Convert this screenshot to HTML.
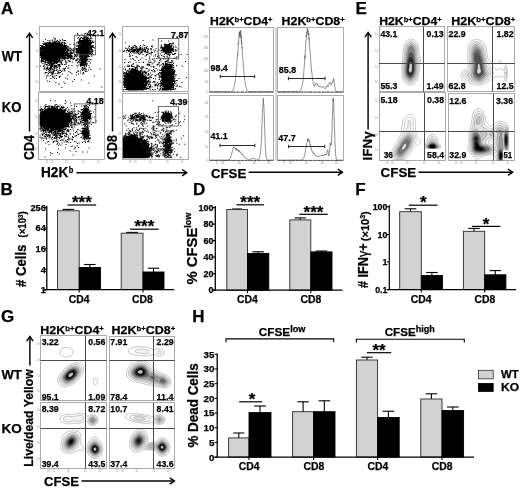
<!DOCTYPE html>
<html><head><meta charset="utf-8"><title>Figure</title>
<style>html,body{margin:0;padding:0;background:#fff}svg{display:block}</style></head>
<body>
<svg width="520" height="488" viewBox="0 0 520 488" font-family="'Liberation Sans', sans-serif" font-weight="bold" fill="#000">
<text x="1.00" y="13.60" font-size="17" stroke="#000" stroke-width="0.25">A</text>
<text x="0.40" y="195.20" font-size="17" stroke="#000" stroke-width="0.25">B</text>
<text x="193.00" y="13.60" font-size="17" stroke="#000" stroke-width="0.25">C</text>
<text x="193.00" y="195.20" font-size="17" stroke="#000" stroke-width="0.25">D</text>
<text x="355.40" y="13.90" font-size="17" stroke="#000" stroke-width="0.25">E</text>
<text x="355.30" y="195.20" font-size="17" stroke="#000" stroke-width="0.25">F</text>
<text x="0.90" y="322.00" font-size="17" stroke="#000" stroke-width="0.25">G</text>
<text x="192.30" y="321.90" font-size="17" stroke="#000" stroke-width="0.25">H</text>
<text x="1.70" y="60.90" font-size="14.5" stroke="#000" stroke-width="0.25" textLength="20.20" lengthAdjust="spacingAndGlyphs">WT</text>
<text x="1.70" y="111.80" font-size="14.5" stroke="#000" stroke-width="0.25" textLength="19.60" lengthAdjust="spacingAndGlyphs">KO</text>
<rect x="39.50" y="26.50" width="65.00" height="65.00" fill="none" stroke="#ababab" stroke-width="1"/>
<rect x="38.50" y="92.50" width="66.00" height="67.00" fill="none" stroke="#ababab" stroke-width="1"/>
<rect x="122.50" y="26.50" width="66.00" height="65.00" fill="none" stroke="#ababab" stroke-width="1"/>
<rect x="122.50" y="93.50" width="66.00" height="66.00" fill="none" stroke="#ababab" stroke-width="1"/>
<path d="M76.9 32.9h1v0.5h-1zM84.9 32.9h1.5v0.5h-1.5zM76.9 33.4h1v0.5h-1zM83.9 33.4h2.5v0.5h-2.5zM77.4 33.9h1v0.5h-1zM81.4 33.9h1v0.5h-1zM83.9 33.9h1v0.5h-1zM77.4 34.4h1v0.5h-1zM81.4 34.4h1v0.5h-1zM88.9 34.4h1v0.5h-1zM83.4 34.9h1v0.5h-1zM86.4 34.9h1v0.5h-1zM88.9 34.9h1v0.5h-1zM78.9 35.4h1v0.5h-1zM83.4 35.4h4v0.5h-4zM78.9 35.9h1v0.5h-1zM83.9 35.9h2.5v0.5h-2.5zM89.9 35.9h1v0.5h-1zM82.9 36.4h1.5v0.5h-1.5zM85.9 36.4h1.5v0.5h-1.5zM87.9 36.4h1v0.5h-1zM89.9 36.4h1v0.5h-1zM77.9 36.9h1v0.5h-1zM80.4 36.9h2v0.5h-2zM82.9 36.9h6v0.5h-6zM90.4 36.9h1v0.5h-1zM53.4 37.4h1v0.5h-1zM77.4 37.4h1.5v0.5h-1.5zM80.4 37.4h2v0.5h-2zM83.9 37.4h2v0.5h-2zM86.4 37.4h1.5v0.5h-1.5zM90.4 37.4h1v0.5h-1zM53.4 37.9h1v0.5h-1zM54.9 37.9h1v0.5h-1zM77.4 37.9h1v0.5h-1zM79.9 37.9h1v0.5h-1zM81.9 37.9h3.5v0.5h-3.5zM85.9 37.9h3v0.5h-3zM89.9 37.9h1v0.5h-1zM91.4 37.9h1v0.5h-1zM54.9 38.4h1v0.5h-1zM78.9 38.4h2v0.5h-2zM81.9 38.4h3.5v0.5h-3.5zM85.9 38.4h5v0.5h-5zM91.4 38.4h1v0.5h-1zM44.9 38.9h1v0.5h-1zM54.9 38.9h1v0.5h-1zM61.9 38.9h1v0.5h-1zM78.9 38.9h2v0.5h-2zM83.4 38.9h4.5v0.5h-4.5zM88.9 38.9h1v0.5h-1zM44.9 39.4h1v0.5h-1zM51.9 39.4h1v0.5h-1zM53.9 39.4h1v0.5h-1zM59.4 39.4h1v0.5h-1zM61.9 39.4h1v0.5h-1zM78.9 39.4h1.5v0.5h-1.5zM81.9 39.4h8v0.5h-8zM90.4 39.4h1v0.5h-1zM47.4 39.9h1v0.5h-1zM49.4 39.9h1v0.5h-1zM51.9 39.9h1v0.5h-1zM53.9 39.9h1v0.5h-1zM56.9 39.9h1v0.5h-1zM59.4 39.9h1.5v0.5h-1.5zM63.4 39.9h2.5v0.5h-2.5zM78.9 39.9h12.5v0.5h-12.5zM47.4 40.4h1v0.5h-1zM49.4 40.4h1v0.5h-1zM51.9 40.4h1v0.5h-1zM55.4 40.4h1v0.5h-1zM56.9 40.4h1v0.5h-1zM59.9 40.4h1v0.5h-1zM61.9 40.4h1v0.5h-1zM63.4 40.4h2.5v0.5h-2.5zM78.9 40.4h12.5v0.5h-12.5zM91.9 40.4h1v0.5h-1zM42.9 40.9h1v0.5h-1zM51.9 40.9h1v0.5h-1zM53.4 40.9h1v0.5h-1zM55.4 40.9h2v0.5h-2zM57.9 40.9h1v0.5h-1zM61.9 40.9h1v0.5h-1zM77.9 40.9h11.5v0.5h-11.5zM89.9 40.9h1v0.5h-1zM91.9 40.9h1v0.5h-1zM42.9 41.4h1v0.5h-1zM48.9 41.4h2v0.5h-2zM53.4 41.4h4v0.5h-4zM57.9 41.4h2.5v0.5h-2.5zM77.4 41.4h14v0.5h-14zM91.9 41.4h1v0.5h-1zM93.4 41.4h1v0.5h-1zM46.4 41.9h4.5v0.5h-4.5zM52.4 41.9h3.5v0.5h-3.5zM56.4 41.9h1v0.5h-1zM58.4 41.9h2v0.5h-2zM61.4 41.9h2v0.5h-2zM63.9 41.9h1v0.5h-1zM77.4 41.9h2.5v0.5h-2.5zM80.4 41.9h14v0.5h-14zM43.9 42.4h2v0.5h-2zM46.4 42.4h3.5v0.5h-3.5zM50.4 42.4h6.5v0.5h-6.5zM57.4 42.4h3v0.5h-3zM61.4 42.4h2v0.5h-2zM63.9 42.4h1v0.5h-1zM65.4 42.4h1v0.5h-1zM75.9 42.4h1v0.5h-1zM77.4 42.4h15v0.5h-15zM92.9 42.4h1v0.5h-1zM42.4 42.9h1v0.5h-1zM43.9 42.9h3.5v0.5h-3.5zM47.9 42.9h12.5v0.5h-12.5zM60.9 42.9h1v0.5h-1zM62.4 42.9h1v0.5h-1zM64.4 42.9h2v0.5h-2zM75.9 42.9h1v0.5h-1zM77.4 42.9h14.5v0.5h-14.5zM42.4 43.4h1.5v0.5h-1.5zM44.4 43.4h18v0.5h-18zM63.9 43.4h1.5v0.5h-1.5zM77.9 43.4h1v0.5h-1zM79.4 43.4h12.5v0.5h-12.5zM42.9 43.9h20v0.5h-20zM63.9 43.9h1v0.5h-1zM69.4 43.9h1v0.5h-1zM73.4 43.9h1v0.5h-1zM78.9 43.9h12.5v0.5h-12.5zM43.4 44.4h20v0.5h-20zM63.9 44.4h1v0.5h-1zM69.4 44.4h1v0.5h-1zM73.4 44.4h1v0.5h-1zM75.4 44.4h1v0.5h-1zM78.4 44.4h2v0.5h-2zM80.9 44.4h10.5v0.5h-10.5zM39.9 44.9h2v0.5h-2zM42.4 44.9h1v0.5h-1zM45.4 44.9h21.5v0.5h-21.5zM75.4 44.9h1v0.5h-1zM77.4 44.9h13.5v0.5h-13.5zM92.4 44.9h1v0.5h-1zM39.9 45.4h3.5v0.5h-3.5zM44.9 45.4h22.5v0.5h-22.5zM76.4 45.4h17.5v0.5h-17.5zM40.9 45.9h25v0.5h-25zM66.4 45.9h2v0.5h-2zM76.4 45.9h17.5v0.5h-17.5zM40.9 46.4h25v0.5h-25zM66.4 46.4h3v0.5h-3zM76.4 46.4h1v0.5h-1zM77.9 46.4h1v0.5h-1zM79.4 46.4h14v0.5h-14zM39.9 46.9h1v0.5h-1zM41.4 46.9h26v0.5h-26zM67.9 46.9h1.5v0.5h-1.5zM74.4 46.9h1v0.5h-1zM77.9 46.9h16.5v0.5h-16.5zM39.9 47.4h28v0.5h-28zM69.9 47.4h1v0.5h-1zM74.4 47.4h1v0.5h-1zM77.9 47.4h14.5v0.5h-14.5zM93.4 47.4h1.5v0.5h-1.5zM39.9 47.9h28v0.5h-28zM69.4 47.9h1.5v0.5h-1.5zM72.9 47.9h1v0.5h-1zM75.4 47.9h16.5v0.5h-16.5zM93.9 47.9h1v0.5h-1zM39.9 48.4h29v0.5h-29zM69.4 48.4h2v0.5h-2zM72.9 48.4h1v0.5h-1zM75.4 48.4h16.5v0.5h-16.5zM39.9 48.9h29.5v0.5h-29.5zM70.4 48.9h1.5v0.5h-1.5zM75.4 48.9h17.5v0.5h-17.5zM39.9 49.4h26.5v0.5h-26.5zM66.9 49.4h2.5v0.5h-2.5zM70.9 49.4h4v0.5h-4zM75.4 49.4h14.5v0.5h-14.5zM90.4 49.4h2.5v0.5h-2.5zM40.4 49.9h24.5v0.5h-24.5zM65.4 49.9h1v0.5h-1zM66.9 49.9h2.5v0.5h-2.5zM70.4 49.9h1v0.5h-1zM71.9 49.9h3v0.5h-3zM75.4 49.9h14.5v0.5h-14.5zM90.4 49.9h1v0.5h-1zM91.9 49.9h1v0.5h-1zM39.9 50.4h2.5v0.5h-2.5zM42.9 50.4h28.5v0.5h-28.5zM72.4 50.4h2v0.5h-2zM76.4 50.4h14v0.5h-14zM90.9 50.4h2v0.5h-2zM93.4 50.4h1v0.5h-1zM39.9 50.9h27v0.5h-27zM67.4 50.9h3v0.5h-3zM73.4 50.9h1v0.5h-1zM75.9 50.9h17v0.5h-17zM93.4 50.9h1v0.5h-1zM39.9 51.4h25v0.5h-25zM65.4 51.4h2.5v0.5h-2.5zM69.9 51.4h2v0.5h-2zM73.4 51.4h1v0.5h-1zM75.4 51.4h1.5v0.5h-1.5zM77.4 51.4h13.5v0.5h-13.5zM91.4 51.4h1.5v0.5h-1.5zM39.9 51.9h28v0.5h-28zM69.9 51.9h2v0.5h-2zM72.4 51.9h2v0.5h-2zM75.4 51.9h15v0.5h-15zM91.4 51.9h1.5v0.5h-1.5zM39.9 52.4h29v0.5h-29zM69.4 52.4h2.5v0.5h-2.5zM72.4 52.4h1v0.5h-1zM75.9 52.4h16.5v0.5h-16.5zM39.9 52.9h26.5v0.5h-26.5zM66.9 52.9h6.5v0.5h-6.5zM76.4 52.9h1.5v0.5h-1.5zM78.4 52.9h9.5v0.5h-9.5zM88.4 52.9h4.5v0.5h-4.5zM39.9 53.4h29.5v0.5h-29.5zM69.9 53.4h3.5v0.5h-3.5zM76.4 53.4h1v0.5h-1zM78.4 53.4h12.5v0.5h-12.5zM91.9 53.4h1v0.5h-1zM39.9 53.9h24.5v0.5h-24.5zM64.9 53.9h4.5v0.5h-4.5zM69.9 53.9h2v0.5h-2zM74.9 53.9h1v0.5h-1zM76.4 53.9h1v0.5h-1zM78.4 53.9h5.5v0.5h-5.5zM84.4 53.9h7.5v0.5h-7.5zM92.9 53.9h1v0.5h-1zM39.9 54.4h29.5v0.5h-29.5zM69.9 54.4h1v0.5h-1zM73.9 54.4h2v0.5h-2zM76.4 54.4h1.5v0.5h-1.5zM79.4 54.4h9.5v0.5h-9.5zM90.9 54.4h1v0.5h-1zM92.9 54.4h1v0.5h-1zM39.9 54.9h32.5v0.5h-32.5zM73.9 54.9h2.5v0.5h-2.5zM76.9 54.9h1v0.5h-1zM79.4 54.9h9.5v0.5h-9.5zM39.9 55.4h32.5v0.5h-32.5zM74.9 55.4h1.5v0.5h-1.5zM76.9 55.4h1v0.5h-1zM78.9 55.4h10v0.5h-10zM90.9 55.4h1.5v0.5h-1.5zM39.9 55.9h26v0.5h-26zM66.4 55.9h6v0.5h-6zM73.9 55.9h1v0.5h-1zM75.9 55.9h2v0.5h-2zM78.9 55.9h11v0.5h-11zM90.9 55.9h1.5v0.5h-1.5zM40.9 56.4h24.5v0.5h-24.5zM66.4 56.4h7v0.5h-7zM73.9 56.4h1v0.5h-1zM75.4 56.4h1.5v0.5h-1.5zM78.9 56.4h4.5v0.5h-4.5zM83.9 56.4h6v0.5h-6zM40.4 56.9h20.5v0.5h-20.5zM61.4 56.9h4.5v0.5h-4.5zM66.4 56.9h7v0.5h-7zM75.4 56.9h1v0.5h-1zM79.4 56.9h1v0.5h-1zM80.9 56.9h7.5v0.5h-7.5zM40.4 57.4h26.5v0.5h-26.5zM67.4 57.4h4v0.5h-4zM73.9 57.4h1v0.5h-1zM79.4 57.4h7.5v0.5h-7.5zM40.9 57.9h20.5v0.5h-20.5zM61.9 57.9h7v0.5h-7zM69.9 57.9h2.5v0.5h-2.5zM73.4 57.9h1.5v0.5h-1.5zM77.4 57.9h1v0.5h-1zM79.9 57.9h2.5v0.5h-2.5zM82.9 57.9h4v0.5h-4zM40.9 58.4h19.5v0.5h-19.5zM60.9 58.4h5.5v0.5h-5.5zM66.9 58.4h2v0.5h-2zM69.9 58.4h3v0.5h-3zM73.4 58.4h1.5v0.5h-1.5zM76.9 58.4h2.5v0.5h-2.5zM79.9 58.4h8v0.5h-8zM88.9 58.4h1v0.5h-1zM40.9 58.9h19.5v0.5h-19.5zM60.9 58.9h2v0.5h-2zM64.4 58.9h1v0.5h-1zM69.9 58.9h1.5v0.5h-1.5zM71.9 58.9h2v0.5h-2zM76.4 58.9h1.5v0.5h-1.5zM78.4 58.9h1v0.5h-1zM79.9 58.9h8.5v0.5h-8.5zM88.9 58.9h1v0.5h-1zM90.4 58.9h1v0.5h-1zM40.9 59.4h1v0.5h-1zM42.9 59.4h1.5v0.5h-1.5zM44.9 59.4h13.5v0.5h-13.5zM58.9 59.4h1.5v0.5h-1.5zM63.4 59.4h2v0.5h-2zM67.4 59.4h1v0.5h-1zM72.9 59.4h1v0.5h-1zM75.4 59.4h2v0.5h-2zM78.9 59.4h9.5v0.5h-9.5zM90.4 59.4h1v0.5h-1zM40.9 59.9h3.5v0.5h-3.5zM44.9 59.9h15.5v0.5h-15.5zM61.9 59.9h1v0.5h-1zM63.4 59.9h1v0.5h-1zM67.4 59.9h2v0.5h-2zM75.4 59.9h2v0.5h-2zM78.9 59.9h1v0.5h-1zM80.4 59.9h6.5v0.5h-6.5zM87.4 59.9h1v0.5h-1zM90.4 59.9h1v0.5h-1zM40.4 60.4h3v0.5h-3zM44.9 60.4h12.5v0.5h-12.5zM57.9 60.4h3v0.5h-3zM61.4 60.4h1.5v0.5h-1.5zM64.9 60.4h1.5v0.5h-1.5zM68.4 60.4h1v0.5h-1zM75.4 60.4h2v0.5h-2zM78.9 60.4h1v0.5h-1zM80.4 60.4h7v0.5h-7zM40.4 60.9h3.5v0.5h-3.5zM44.4 60.9h1.5v0.5h-1.5zM47.4 60.9h11.5v0.5h-11.5zM59.4 60.9h1.5v0.5h-1.5zM61.4 60.9h1v0.5h-1zM64.9 60.9h1.5v0.5h-1.5zM68.4 60.9h2.5v0.5h-2.5zM75.4 60.9h1v0.5h-1zM77.9 60.9h1v0.5h-1zM80.4 60.9h7v0.5h-7zM88.4 60.9h1v0.5h-1zM40.9 61.4h6v0.5h-6zM47.4 61.4h2v0.5h-2zM49.9 61.4h9v0.5h-9zM59.4 61.4h1v0.5h-1zM60.9 61.4h1v0.5h-1zM65.4 61.4h1v0.5h-1zM68.9 61.4h2v0.5h-2zM71.9 61.4h1v0.5h-1zM77.9 61.4h2v0.5h-2zM80.4 61.4h6.5v0.5h-6.5zM88.4 61.4h1v0.5h-1zM40.9 61.9h1v0.5h-1zM43.9 61.9h8v0.5h-8zM52.9 61.9h5.5v0.5h-5.5zM59.4 61.9h1v0.5h-1zM60.9 61.9h1v0.5h-1zM65.4 61.9h1v0.5h-1zM71.9 61.9h1v0.5h-1zM77.4 61.9h1v0.5h-1zM78.9 61.9h7.5v0.5h-7.5zM40.9 62.4h1v0.5h-1zM44.9 62.4h1v0.5h-1zM46.9 62.4h1v0.5h-1zM48.4 62.4h4.5v0.5h-4.5zM53.4 62.4h5v0.5h-5zM59.4 62.4h2.5v0.5h-2.5zM65.4 62.4h2v0.5h-2zM76.9 62.4h1.5v0.5h-1.5zM79.4 62.4h6.5v0.5h-6.5zM86.4 62.4h1v0.5h-1zM89.9 62.4h1v0.5h-1zM42.4 62.9h1v0.5h-1zM44.9 62.9h1v0.5h-1zM46.9 62.9h2.5v0.5h-2.5zM49.9 62.9h5.5v0.5h-5.5zM55.9 62.9h1.5v0.5h-1.5zM60.4 62.9h1v0.5h-1zM65.4 62.9h2v0.5h-2zM76.9 62.9h1v0.5h-1zM79.4 62.9h6.5v0.5h-6.5zM86.4 62.9h1v0.5h-1zM89.9 62.9h1v0.5h-1zM42.4 63.4h1v0.5h-1zM43.9 63.4h1v0.5h-1zM47.9 63.4h7.5v0.5h-7.5zM55.9 63.4h1.5v0.5h-1.5zM60.9 63.4h2v0.5h-2zM80.4 63.4h3.5v0.5h-3.5zM84.4 63.4h3.5v0.5h-3.5zM43.9 63.9h1v0.5h-1zM45.4 63.9h2v0.5h-2zM48.9 63.9h1.5v0.5h-1.5zM50.9 63.9h2.5v0.5h-2.5zM57.4 63.9h3v0.5h-3zM60.9 63.9h2v0.5h-2zM63.9 63.9h1v0.5h-1zM65.4 63.9h1v0.5h-1zM79.9 63.9h8v0.5h-8zM45.4 64.4h3v0.5h-3zM49.4 64.4h6v0.5h-6zM57.4 64.4h3v0.5h-3zM61.9 64.4h1v0.5h-1zM63.9 64.4h1v0.5h-1zM65.4 64.4h1v0.5h-1zM78.4 64.4h1v0.5h-1zM79.9 64.4h5v0.5h-5zM85.4 64.4h1.5v0.5h-1.5zM43.4 64.9h1v0.5h-1zM45.9 64.9h11.5v0.5h-11.5zM57.9 64.9h2v0.5h-2zM68.4 64.9h1v0.5h-1zM71.4 64.9h1v0.5h-1zM76.4 64.9h1v0.5h-1zM78.4 64.9h1v0.5h-1zM79.9 64.9h5.5v0.5h-5.5zM85.9 64.9h1v0.5h-1zM88.4 64.9h1v0.5h-1zM39.9 65.4h1v0.5h-1zM43.4 65.4h1v0.5h-1zM48.4 65.4h1v0.5h-1zM50.4 65.4h2.5v0.5h-2.5zM53.9 65.4h1v0.5h-1zM55.4 65.4h2v0.5h-2zM57.9 65.4h2v0.5h-2zM68.4 65.4h1v0.5h-1zM71.4 65.4h1v0.5h-1zM76.4 65.4h1v0.5h-1zM79.9 65.4h3v0.5h-3zM83.4 65.4h2v0.5h-2zM85.9 65.4h1v0.5h-1zM88.4 65.4h1v0.5h-1zM39.9 65.9h1v0.5h-1zM42.9 65.9h1v0.5h-1zM49.9 65.9h3v0.5h-3zM53.9 65.9h3v0.5h-3zM57.9 65.9h3v0.5h-3zM65.9 65.9h1v0.5h-1zM80.4 65.9h1v0.5h-1zM83.4 65.9h1.5v0.5h-1.5zM85.9 65.9h1v0.5h-1zM42.9 66.4h2.5v0.5h-2.5zM46.9 66.4h1v0.5h-1zM49.9 66.4h7.5v0.5h-7.5zM58.9 66.4h2v0.5h-2zM65.9 66.4h1v0.5h-1zM76.9 66.4h1v0.5h-1zM80.4 66.4h1v0.5h-1zM83.9 66.4h1v0.5h-1zM85.9 66.4h1v0.5h-1zM43.9 66.9h1.5v0.5h-1.5zM46.9 66.9h1.5v0.5h-1.5zM49.9 66.9h2.5v0.5h-2.5zM52.9 66.9h2v0.5h-2zM55.4 66.9h2.5v0.5h-2.5zM58.9 66.9h1v0.5h-1zM76.9 66.9h1v0.5h-1zM82.4 66.9h1v0.5h-1zM84.4 66.9h1v0.5h-1zM88.9 66.9h1v0.5h-1zM45.9 67.4h2.5v0.5h-2.5zM49.4 67.4h2.5v0.5h-2.5zM53.9 67.4h1v0.5h-1zM55.4 67.4h1v0.5h-1zM56.9 67.4h1v0.5h-1zM64.9 67.4h1v0.5h-1zM67.4 67.4h2v0.5h-2zM81.4 67.4h2v0.5h-2zM84.4 67.4h1v0.5h-1zM88.9 67.4h1v0.5h-1zM44.4 67.9h1v0.5h-1zM45.9 67.9h2.5v0.5h-2.5zM48.9 67.9h3.5v0.5h-3.5zM53.9 67.9h1v0.5h-1zM55.4 67.9h1v0.5h-1zM58.9 67.9h1v0.5h-1zM63.4 67.9h1v0.5h-1zM64.9 67.9h1v0.5h-1zM67.4 67.9h2v0.5h-2zM81.4 67.9h1.5v0.5h-1.5zM83.4 67.9h2v0.5h-2zM43.4 68.4h2v0.5h-2zM46.4 68.4h2v0.5h-2zM48.9 68.4h2v0.5h-2zM51.4 68.4h2v0.5h-2zM53.9 68.4h1v0.5h-1zM56.4 68.4h1v0.5h-1zM58.9 68.4h1v0.5h-1zM62.4 68.4h3v0.5h-3zM81.9 68.4h1v0.5h-1zM83.4 68.4h3v0.5h-3zM99.4 68.4h1v0.5h-1zM43.4 68.9h2v0.5h-2zM47.4 68.9h2v0.5h-2zM49.9 68.9h1.5v0.5h-1.5zM52.4 68.9h1v0.5h-1zM53.9 68.9h1v0.5h-1zM56.4 68.9h1v0.5h-1zM62.4 68.9h1v0.5h-1zM64.4 68.9h1v0.5h-1zM81.4 68.9h1v0.5h-1zM83.4 68.9h1v0.5h-1zM85.4 68.9h1v0.5h-1zM90.4 68.9h1v0.5h-1zM99.4 68.9h1v0.5h-1zM45.9 69.4h1v0.5h-1zM47.4 69.4h2v0.5h-2zM49.9 69.4h1.5v0.5h-1.5zM51.9 69.4h1v0.5h-1zM53.4 69.4h1v0.5h-1zM56.4 69.4h1v0.5h-1zM59.4 69.4h1v0.5h-1zM63.9 69.4h1v0.5h-1zM81.4 69.4h1v0.5h-1zM82.9 69.4h1.5v0.5h-1.5zM85.4 69.4h1.5v0.5h-1.5zM87.9 69.4h1v0.5h-1zM90.4 69.4h1v0.5h-1zM45.9 69.9h1v0.5h-1zM48.9 69.9h1.5v0.5h-1.5zM51.9 69.9h1v0.5h-1zM53.4 69.9h2v0.5h-2zM55.9 69.9h1.5v0.5h-1.5zM58.4 69.9h3v0.5h-3zM63.9 69.9h1v0.5h-1zM81.9 69.9h2v0.5h-2zM84.4 69.9h1v0.5h-1zM85.9 69.9h1v0.5h-1zM87.9 69.9h1v0.5h-1zM45.9 70.4h1v0.5h-1zM48.4 70.4h3v0.5h-3zM53.4 70.4h2v0.5h-2zM55.9 70.4h1v0.5h-1zM58.4 70.4h1v0.5h-1zM60.4 70.4h1v0.5h-1zM62.4 70.4h1v0.5h-1zM64.4 70.4h1v0.5h-1zM77.4 70.4h1.5v0.5h-1.5zM79.9 70.4h1v0.5h-1zM81.9 70.4h1v0.5h-1zM84.4 70.4h1v0.5h-1zM48.4 70.9h1v0.5h-1zM50.4 70.9h1v0.5h-1zM52.4 70.9h2v0.5h-2zM57.4 70.9h1v0.5h-1zM60.9 70.9h1v0.5h-1zM62.4 70.9h1v0.5h-1zM64.4 70.9h1v0.5h-1zM68.4 70.9h1v0.5h-1zM77.4 70.9h1.5v0.5h-1.5zM79.9 70.9h1v0.5h-1zM84.9 70.9h1v0.5h-1zM86.4 70.9h1v0.5h-1zM48.4 71.4h1v0.5h-1zM50.4 71.4h1v0.5h-1zM52.4 71.4h2v0.5h-2zM57.4 71.4h1v0.5h-1zM60.9 71.4h1v0.5h-1zM68.4 71.4h1v0.5h-1zM77.4 71.4h1v0.5h-1zM84.9 71.4h1v0.5h-1zM86.4 71.4h1v0.5h-1zM44.9 71.9h2.5v0.5h-2.5zM48.4 71.9h5.5v0.5h-5.5zM57.9 71.9h1.5v0.5h-1.5zM59.9 71.9h1v0.5h-1zM69.9 71.9h1v0.5h-1zM75.9 71.9h1v0.5h-1zM82.9 71.9h1v0.5h-1zM44.9 72.4h2.5v0.5h-2.5zM49.4 72.4h1v0.5h-1zM50.9 72.4h1.5v0.5h-1.5zM52.9 72.4h1v0.5h-1zM57.4 72.4h3.5v0.5h-3.5zM69.9 72.4h1v0.5h-1zM75.9 72.4h1v0.5h-1zM79.9 72.4h1v0.5h-1zM82.9 72.4h1.5v0.5h-1.5zM44.4 72.9h1v0.5h-1zM47.9 72.9h1v0.5h-1zM50.9 72.9h2v0.5h-2zM53.4 72.9h1v0.5h-1zM55.4 72.9h1v0.5h-1zM57.4 72.9h1v0.5h-1zM58.9 72.9h1v0.5h-1zM71.4 72.9h1v0.5h-1zM79.9 72.9h1v0.5h-1zM82.9 72.9h1.5v0.5h-1.5zM44.4 73.4h1v0.5h-1zM47.9 73.4h1v0.5h-1zM51.9 73.4h1v0.5h-1zM53.4 73.4h1v0.5h-1zM55.4 73.4h1v0.5h-1zM57.4 73.4h1v0.5h-1zM61.9 73.4h1v0.5h-1zM71.4 73.4h1v0.5h-1zM77.9 73.4h1v0.5h-1zM81.9 73.4h1.5v0.5h-1.5zM51.4 73.9h1.5v0.5h-1.5zM57.4 73.9h1v0.5h-1zM61.9 73.9h1v0.5h-1zM77.9 73.9h1v0.5h-1zM81.9 73.9h1.5v0.5h-1.5zM47.4 74.4h1v0.5h-1zM51.4 74.4h2v0.5h-2zM67.4 74.4h1v0.5h-1zM75.9 74.4h1v0.5h-1zM47.4 74.9h1v0.5h-1zM49.9 74.9h1v0.5h-1zM52.4 74.9h1v0.5h-1zM55.9 74.9h1v0.5h-1zM67.4 74.9h1v0.5h-1zM75.9 74.9h1v0.5h-1zM45.9 75.4h1v0.5h-1zM47.4 75.4h1v0.5h-1zM49.9 75.4h1v0.5h-1zM54.4 75.4h1v0.5h-1zM55.9 75.4h1v0.5h-1zM59.9 75.4h1v0.5h-1zM93.9 75.4h1v0.5h-1zM45.9 75.9h1v0.5h-1zM47.4 75.9h1v0.5h-1zM51.9 75.9h1v0.5h-1zM54.4 75.9h1v0.5h-1zM58.9 75.9h2v0.5h-2zM93.9 75.9h1v0.5h-1zM51.9 76.4h1v0.5h-1zM53.4 76.4h1v0.5h-1zM58.9 76.4h1v0.5h-1zM52.4 76.9h2v0.5h-2zM58.9 76.9h1v0.5h-1zM45.9 77.4h1v0.5h-1zM52.4 77.4h1v0.5h-1zM58.9 77.4h1v0.5h-1zM65.4 77.4h1v0.5h-1zM45.9 77.9h1v0.5h-1zM50.4 77.9h1v0.5h-1zM53.9 77.9h1v0.5h-1zM55.9 77.9h1v0.5h-1zM65.4 77.9h1v0.5h-1zM50.4 78.4h1v0.5h-1zM53.9 78.4h1v0.5h-1zM55.9 78.4h1v0.5h-1zM66.9 78.4h1v0.5h-1zM66.9 78.9h1v0.5h-1zM73.9 78.9h1v0.5h-1zM73.9 79.4h1v0.5h-1zM80.9 79.4h1v0.5h-1zM80.9 79.9h1v0.5h-1zM46.9 80.4h1v0.5h-1zM46.9 80.9h1v0.5h-1zM48.9 80.9h1v0.5h-1zM71.9 80.9h1v0.5h-1zM48.9 81.4h1v0.5h-1zM63.4 81.4h1v0.5h-1zM71.9 81.4h1v0.5h-1zM55.4 81.9h1v0.5h-1zM63.4 81.9h1v0.5h-1zM55.4 82.4h1v0.5h-1zM88.4 82.4h1v0.5h-1zM64.4 82.9h1v0.5h-1zM88.4 82.9h1v0.5h-1zM58.4 83.4h1.5v0.5h-1.5zM64.4 83.4h1v0.5h-1zM58.4 83.9h1.5v0.5h-1.5zM101.4 86.4h1v0.5h-1zM61.4 86.9h1v0.5h-1zM101.4 86.9h1v0.5h-1zM61.4 87.4h1v0.5h-1z" fill="#000" stroke="none"/>
<path d="M50.1 100h1v0.5h-1zM65.1 100h1v0.5h-1zM50.1 100.5h1v0.5h-1zM54.6 100.5h1v0.5h-1zM65.1 100.5h1v0.5h-1zM54.6 101h1v0.5h-1zM65.6 101.5h1v0.5h-1zM65.6 102h1v0.5h-1zM70.1 102.5h1v0.5h-1zM64.6 103h1v0.5h-1zM70.1 103h1v0.5h-1zM64.6 103.5h1v0.5h-1zM45.6 104h1v0.5h-1zM54.6 104h1v0.5h-1zM56.1 104h1v0.5h-1zM87.6 104h1v0.5h-1zM45.6 104.5h1v0.5h-1zM54.6 104.5h1v0.5h-1zM56.1 104.5h1v0.5h-1zM59.6 104.5h1v0.5h-1zM85.6 104.5h1v0.5h-1zM87.6 104.5h1v0.5h-1zM44.6 105h1v0.5h-1zM54.6 105h1v0.5h-1zM59.6 105h1v0.5h-1zM70.6 105h1v0.5h-1zM85.6 105h1.5v0.5h-1.5zM89.1 105h1v0.5h-1zM44.6 105.5h1v0.5h-1zM48.1 105.5h2v0.5h-2zM50.6 105.5h1v0.5h-1zM54.6 105.5h1v0.5h-1zM57.1 105.5h1.5v0.5h-1.5zM70.6 105.5h1v0.5h-1zM81.1 105.5h1v0.5h-1zM83.1 105.5h4v0.5h-4zM89.1 105.5h1v0.5h-1zM45.1 106h5v0.5h-5zM50.6 106h3v0.5h-3zM54.6 106h1v0.5h-1zM56.6 106h2.5v0.5h-2.5zM61.1 106h1v0.5h-1zM62.6 106h1v0.5h-1zM76.1 106h1v0.5h-1zM81.1 106h1v0.5h-1zM83.1 106h2.5v0.5h-2.5zM86.6 106h1v0.5h-1zM40.1 106.5h1v0.5h-1zM43.6 106.5h1v0.5h-1zM45.1 106.5h3v0.5h-3zM48.6 106.5h1v0.5h-1zM50.6 106.5h5v0.5h-5zM56.1 106.5h4v0.5h-4zM61.1 106.5h1v0.5h-1zM62.6 106.5h1v0.5h-1zM76.1 106.5h1v0.5h-1zM84.1 106.5h1.5v0.5h-1.5zM86.1 106.5h2.5v0.5h-2.5zM40.1 107h1v0.5h-1zM43.6 107h1v0.5h-1zM45.1 107h1v0.5h-1zM48.6 107h1v0.5h-1zM50.6 107h2.5v0.5h-2.5zM53.6 107h2v0.5h-2zM56.1 107h1.5v0.5h-1.5zM59.1 107h1v0.5h-1zM61.1 107h3.5v0.5h-3.5zM67.1 107h1v0.5h-1zM84.1 107h1.5v0.5h-1.5zM86.1 107h1v0.5h-1zM87.6 107h1.5v0.5h-1.5zM45.1 107.5h1v0.5h-1zM47.6 107.5h2v0.5h-2zM50.6 107.5h5v0.5h-5zM56.1 107.5h2v0.5h-2zM60.1 107.5h4.5v0.5h-4.5zM67.1 107.5h1v0.5h-1zM84.6 107.5h2v0.5h-2zM88.1 107.5h1v0.5h-1zM41.1 108h1v0.5h-1zM44.1 108h2v0.5h-2zM47.1 108h3v0.5h-3zM50.6 108h6v0.5h-6zM57.1 108h1v0.5h-1zM59.6 108h1.5v0.5h-1.5zM61.6 108h2v0.5h-2zM65.6 108h1v0.5h-1zM83.1 108h3.5v0.5h-3.5zM87.1 108h2v0.5h-2zM41.1 108.5h1v0.5h-1zM44.1 108.5h1v0.5h-1zM46.6 108.5h11.5v0.5h-11.5zM59.6 108.5h1.5v0.5h-1.5zM61.6 108.5h1v0.5h-1zM65.6 108.5h1v0.5h-1zM71.1 108.5h1v0.5h-1zM72.6 108.5h1v0.5h-1zM83.1 108.5h5v0.5h-5zM39.6 109h4v0.5h-4zM45.1 109h1v0.5h-1zM46.6 109h15.5v0.5h-15.5zM64.6 109h1.5v0.5h-1.5zM68.1 109h1v0.5h-1zM71.1 109h1v0.5h-1zM72.6 109h1v0.5h-1zM80.6 109h3v0.5h-3zM84.1 109h5v0.5h-5zM94.6 109h1v0.5h-1zM39.6 109.5h4v0.5h-4zM44.1 109.5h22.5v0.5h-22.5zM68.1 109.5h1.5v0.5h-1.5zM80.6 109.5h8.5v0.5h-8.5zM94.6 109.5h1v0.5h-1zM39.6 110h1.5v0.5h-1.5zM42.1 110h1v0.5h-1zM44.1 110h22.5v0.5h-22.5zM68.6 110h1v0.5h-1zM81.1 110h1v0.5h-1zM82.6 110h6v0.5h-6zM39.6 110.5h2v0.5h-2zM42.1 110.5h24v0.5h-24zM67.6 110.5h1v0.5h-1zM72.1 110.5h1v0.5h-1zM74.6 110.5h1v0.5h-1zM77.6 110.5h1.5v0.5h-1.5zM82.6 110.5h9v0.5h-9zM40.6 111h25v0.5h-25zM67.1 111h1.5v0.5h-1.5zM70.6 111h2.5v0.5h-2.5zM73.6 111h2v0.5h-2zM77.6 111h2v0.5h-2zM82.6 111h9v0.5h-9zM40.1 111.5h25.5v0.5h-25.5zM67.1 111.5h1v0.5h-1zM69.1 111.5h1v0.5h-1zM70.6 111.5h1.5v0.5h-1.5zM73.6 111.5h1v0.5h-1zM78.6 111.5h1v0.5h-1zM80.1 111.5h1v0.5h-1zM82.1 111.5h6v0.5h-6zM88.6 111.5h1v0.5h-1zM93.1 111.5h1v0.5h-1zM40.1 112h25.5v0.5h-25.5zM68.6 112h1.5v0.5h-1.5zM70.6 112h1v0.5h-1zM72.1 112h1v0.5h-1zM80.1 112h1v0.5h-1zM81.6 112h8v0.5h-8zM93.1 112h1v0.5h-1zM40.1 112.5h26.5v0.5h-26.5zM67.1 112.5h3v0.5h-3zM70.6 112.5h1v0.5h-1zM72.1 112.5h1v0.5h-1zM77.6 112.5h1v0.5h-1zM80.6 112.5h9.5v0.5h-9.5zM40.1 113h32.5v0.5h-32.5zM74.6 113h1v0.5h-1zM77.6 113h1.5v0.5h-1.5zM80.6 113h8v0.5h-8zM89.1 113h3v0.5h-3zM40.1 113.5h33v0.5h-33zM74.6 113.5h1v0.5h-1zM78.1 113.5h1v0.5h-1zM81.1 113.5h11v0.5h-11zM39.6 114h29v0.5h-29zM69.1 114h2.5v0.5h-2.5zM72.1 114h2v0.5h-2zM75.1 114h2.5v0.5h-2.5zM80.6 114h10.5v0.5h-10.5zM39.6 114.5h30.5v0.5h-30.5zM70.6 114.5h1v0.5h-1zM73.1 114.5h4.5v0.5h-4.5zM80.6 114.5h10.5v0.5h-10.5zM39.6 115h30.5v0.5h-30.5zM70.6 115h1v0.5h-1zM73.1 115h2.5v0.5h-2.5zM80.6 115h1v0.5h-1zM82.1 115h7.5v0.5h-7.5zM90.1 115h1v0.5h-1zM39.6 115.5h31v0.5h-31zM71.1 115.5h5.5v0.5h-5.5zM79.6 115.5h2v0.5h-2zM82.1 115.5h9v0.5h-9zM39.6 116h37v0.5h-37zM78.1 116h1v0.5h-1zM79.6 116h11v0.5h-11zM39.6 116.5h32v0.5h-32zM72.1 116.5h1.5v0.5h-1.5zM74.6 116.5h2v0.5h-2zM78.1 116.5h2v0.5h-2zM80.6 116.5h10.5v0.5h-10.5zM91.6 116.5h1v0.5h-1zM94.1 116.5h1v0.5h-1zM39.6 117h31v0.5h-31zM72.1 117h1.5v0.5h-1.5zM74.6 117h1v0.5h-1zM76.1 117h1.5v0.5h-1.5zM78.1 117h2v0.5h-2zM80.6 117h1v0.5h-1zM82.1 117h9v0.5h-9zM91.6 117h1v0.5h-1zM94.1 117h1v0.5h-1zM39.6 117.5h32v0.5h-32zM72.1 117.5h2v0.5h-2zM74.6 117.5h1v0.5h-1zM76.1 117.5h1.5v0.5h-1.5zM78.1 117.5h1v0.5h-1zM81.1 117.5h1v0.5h-1zM83.1 117.5h7.5v0.5h-7.5zM39.6 118h34.5v0.5h-34.5zM75.1 118h1v0.5h-1zM76.6 118h1v0.5h-1zM81.1 118h10v0.5h-10zM39.6 118.5h34v0.5h-34zM75.1 118.5h1v0.5h-1zM78.6 118.5h1v0.5h-1zM80.6 118.5h11v0.5h-11zM39.6 119h33v0.5h-33zM73.1 119h4v0.5h-4zM78.6 119h1v0.5h-1zM80.6 119h1.5v0.5h-1.5zM82.6 119h6v0.5h-6zM89.1 119h1v0.5h-1zM90.6 119h1v0.5h-1zM39.6 119.5h32.5v0.5h-32.5zM73.1 119.5h2v0.5h-2zM76.1 119.5h1v0.5h-1zM78.6 119.5h1v0.5h-1zM80.1 119.5h1v0.5h-1zM82.6 119.5h5v0.5h-5zM89.1 119.5h1v0.5h-1zM39.6 120h32.5v0.5h-32.5zM73.6 120h2v0.5h-2zM76.1 120h1v0.5h-1zM78.6 120h1v0.5h-1zM80.1 120h1v0.5h-1zM81.6 120h6.5v0.5h-6.5zM39.6 120.5h32v0.5h-32zM73.6 120.5h3.5v0.5h-3.5zM81.6 120.5h7v0.5h-7zM90.1 120.5h1v0.5h-1zM95.6 120.5h1v0.5h-1zM39.6 121h32v0.5h-32zM73.6 121h1v0.5h-1zM75.6 121h1.5v0.5h-1.5zM80.1 121h1v0.5h-1zM82.1 121h1.5v0.5h-1.5zM84.1 121h4.5v0.5h-4.5zM90.1 121h1v0.5h-1zM95.6 121h1v0.5h-1zM39.6 121.5h33v0.5h-33zM74.6 121.5h1v0.5h-1zM76.1 121.5h1v0.5h-1zM80.1 121.5h2v0.5h-2zM84.1 121.5h2v0.5h-2zM86.6 121.5h1.5v0.5h-1.5zM88.6 121.5h1v0.5h-1zM39.6 122h29v0.5h-29zM69.1 122h3.5v0.5h-3.5zM73.6 122h2v0.5h-2zM76.1 122h1v0.5h-1zM80.1 122h4v0.5h-4zM85.1 122h1v0.5h-1zM86.6 122h1.5v0.5h-1.5zM88.6 122h1v0.5h-1zM92.6 122h1v0.5h-1zM39.6 122.5h30.5v0.5h-30.5zM71.1 122.5h1.5v0.5h-1.5zM73.6 122.5h1v0.5h-1zM76.1 122.5h1v0.5h-1zM77.6 122.5h1.5v0.5h-1.5zM80.1 122.5h1.5v0.5h-1.5zM82.1 122.5h2.5v0.5h-2.5zM85.1 122.5h3.5v0.5h-3.5zM89.1 122.5h1v0.5h-1zM92.6 122.5h1v0.5h-1zM39.6 123h30v0.5h-30zM71.1 123h1v0.5h-1zM74.1 123h1v0.5h-1zM77.6 123h1.5v0.5h-1.5zM80.1 123h1v0.5h-1zM83.6 123h1.5v0.5h-1.5zM85.6 123h3v0.5h-3zM89.1 123h1v0.5h-1zM39.6 123.5h30v0.5h-30zM70.1 123.5h2v0.5h-2zM72.6 123.5h1v0.5h-1zM74.1 123.5h1.5v0.5h-1.5zM78.1 123.5h2v0.5h-2zM84.1 123.5h3v0.5h-3zM88.6 123.5h1v0.5h-1zM39.6 124h30v0.5h-30zM70.1 124h2v0.5h-2zM72.6 124h3.5v0.5h-3.5zM78.1 124h2v0.5h-2zM83.1 124h4.5v0.5h-4.5zM88.6 124h1v0.5h-1zM91.1 124h1v0.5h-1zM39.6 124.5h29.5v0.5h-29.5zM71.6 124.5h1v0.5h-1zM73.6 124.5h2.5v0.5h-2.5zM76.6 124.5h1v0.5h-1zM81.1 124.5h1v0.5h-1zM82.6 124.5h2.5v0.5h-2.5zM85.6 124.5h3v0.5h-3zM91.1 124.5h1v0.5h-1zM39.6 125h29.5v0.5h-29.5zM70.1 125h1v0.5h-1zM71.6 125h1v0.5h-1zM73.6 125h2v0.5h-2zM76.6 125h1v0.5h-1zM81.1 125h1v0.5h-1zM82.6 125h1v0.5h-1zM84.6 125h1.5v0.5h-1.5zM87.1 125h1.5v0.5h-1.5zM39.6 125.5h29.5v0.5h-29.5zM70.1 125.5h2v0.5h-2zM84.1 125.5h2v0.5h-2zM87.1 125.5h1v0.5h-1zM40.1 126h29v0.5h-29zM71.1 126h1.5v0.5h-1.5zM84.1 126h1.5v0.5h-1.5zM86.6 126h1.5v0.5h-1.5zM88.6 126h1v0.5h-1zM40.6 126.5h29.5v0.5h-29.5zM71.6 126.5h1v0.5h-1zM74.1 126.5h1v0.5h-1zM84.6 126.5h3.5v0.5h-3.5zM88.6 126.5h1v0.5h-1zM40.6 127h1.5v0.5h-1.5zM42.6 127h22v0.5h-22zM65.1 127h2v0.5h-2zM68.1 127h2v0.5h-2zM71.1 127h1.5v0.5h-1.5zM74.1 127h1v0.5h-1zM85.1 127h3v0.5h-3zM39.6 127.5h2.5v0.5h-2.5zM42.6 127.5h23v0.5h-23zM71.1 127.5h1.5v0.5h-1.5zM82.1 127.5h1v0.5h-1zM83.6 127.5h2v0.5h-2zM87.1 127.5h2v0.5h-2zM39.6 128h2v0.5h-2zM42.1 128h1v0.5h-1zM43.6 128h11v0.5h-11zM55.1 128h8.5v0.5h-8.5zM64.1 128h2.5v0.5h-2.5zM81.6 128h5v0.5h-5zM87.1 128h2v0.5h-2zM39.6 128.5h1v0.5h-1zM41.1 128.5h2v0.5h-2zM43.6 128.5h5.5v0.5h-5.5zM49.6 128.5h14.5v0.5h-14.5zM65.6 128.5h1v0.5h-1zM72.6 128.5h1v0.5h-1zM81.6 128.5h7v0.5h-7zM39.6 129h1v0.5h-1zM41.1 129h8v0.5h-8zM50.1 129h16.5v0.5h-16.5zM67.6 129h1v0.5h-1zM70.1 129h1v0.5h-1zM72.6 129h1v0.5h-1zM77.1 129h1.5v0.5h-1.5zM82.6 129h3v0.5h-3zM86.1 129h2v0.5h-2zM39.6 129.5h1v0.5h-1zM42.6 129.5h1.5v0.5h-1.5zM44.6 129.5h2v0.5h-2zM47.1 129.5h3v0.5h-3zM50.6 129.5h11v0.5h-11zM62.6 129.5h3.5v0.5h-3.5zM67.1 129.5h2v0.5h-2zM70.1 129.5h1v0.5h-1zM77.1 129.5h1.5v0.5h-1.5zM83.6 129.5h5.5v0.5h-5.5zM40.6 130h1v0.5h-1zM42.1 130h4.5v0.5h-4.5zM47.1 130h7.5v0.5h-7.5zM55.1 130h1v0.5h-1zM56.6 130h7v0.5h-7zM64.1 130h1v0.5h-1zM67.1 130h2v0.5h-2zM79.6 130h1v0.5h-1zM82.1 130h7v0.5h-7zM40.6 130.5h1v0.5h-1zM42.1 130.5h4v0.5h-4zM46.6 130.5h1.5v0.5h-1.5zM48.6 130.5h6v0.5h-6zM55.1 130.5h2.5v0.5h-2.5zM58.1 130.5h5v0.5h-5zM66.1 130.5h2v0.5h-2zM68.6 130.5h1v0.5h-1zM73.1 130.5h1v0.5h-1zM79.6 130.5h1v0.5h-1zM82.1 130.5h5.5v0.5h-5.5zM88.1 130.5h2v0.5h-2zM40.6 131h1v0.5h-1zM42.6 131h1.5v0.5h-1.5zM45.1 131h1v0.5h-1zM46.6 131h1.5v0.5h-1.5zM49.1 131h15.5v0.5h-15.5zM66.1 131h3.5v0.5h-3.5zM73.1 131h1v0.5h-1zM76.1 131h1v0.5h-1zM80.6 131h1v0.5h-1zM82.1 131h8v0.5h-8zM40.6 131.5h1v0.5h-1zM43.1 131.5h1.5v0.5h-1.5zM45.1 131.5h1v0.5h-1zM48.1 131.5h4v0.5h-4zM54.1 131.5h2v0.5h-2zM57.1 131.5h3.5v0.5h-3.5zM61.6 131.5h1v0.5h-1zM63.1 131.5h1.5v0.5h-1.5zM67.6 131.5h1.5v0.5h-1.5zM76.1 131.5h1.5v0.5h-1.5zM80.6 131.5h1v0.5h-1zM82.1 131.5h6.5v0.5h-6.5zM43.6 132h1v0.5h-1zM45.1 132h1.5v0.5h-1.5zM47.6 132h4.5v0.5h-4.5zM53.6 132h2.5v0.5h-2.5zM56.6 132h2v0.5h-2zM60.6 132h1v0.5h-1zM62.1 132h1v0.5h-1zM63.6 132h1v0.5h-1zM75.1 132h1v0.5h-1zM76.6 132h1v0.5h-1zM81.6 132h8v0.5h-8zM42.6 132.5h1v0.5h-1zM45.6 132.5h1v0.5h-1zM47.6 132.5h2.5v0.5h-2.5zM51.1 132.5h6.5v0.5h-6.5zM58.6 132.5h1v0.5h-1zM60.6 132.5h1v0.5h-1zM62.1 132.5h1v0.5h-1zM63.6 132.5h1v0.5h-1zM66.1 132.5h1v0.5h-1zM75.1 132.5h1v0.5h-1zM81.6 132.5h8v0.5h-8zM42.6 133h1v0.5h-1zM44.1 133h1v0.5h-1zM49.1 133h1v0.5h-1zM51.1 133h3.5v0.5h-3.5zM55.1 133h6v0.5h-6zM61.6 133h3v0.5h-3zM65.1 133h2v0.5h-2zM69.6 133h1v0.5h-1zM79.6 133h1v0.5h-1zM81.1 133h8.5v0.5h-8.5zM40.6 133.5h1v0.5h-1zM42.6 133.5h1v0.5h-1zM44.1 133.5h1v0.5h-1zM46.1 133.5h1v0.5h-1zM51.6 133.5h1v0.5h-1zM53.6 133.5h1v0.5h-1zM55.1 133.5h1v0.5h-1zM56.6 133.5h4.5v0.5h-4.5zM61.6 133.5h3v0.5h-3zM65.1 133.5h1.5v0.5h-1.5zM69.6 133.5h1.5v0.5h-1.5zM73.1 133.5h1v0.5h-1zM77.1 133.5h1v0.5h-1zM79.6 133.5h1v0.5h-1zM81.1 133.5h8.5v0.5h-8.5zM40.6 134h1v0.5h-1zM42.1 134h1.5v0.5h-1.5zM45.1 134h2v0.5h-2zM47.6 134h1v0.5h-1zM49.6 134h1v0.5h-1zM51.6 134h1v0.5h-1zM53.6 134h2.5v0.5h-2.5zM56.6 134h1.5v0.5h-1.5zM60.1 134h1v0.5h-1zM62.1 134h1v0.5h-1zM65.6 134h2v0.5h-2zM70.1 134h1v0.5h-1zM73.1 134h1v0.5h-1zM77.1 134h2v0.5h-2zM82.6 134h6.5v0.5h-6.5zM42.1 134.5h1.5v0.5h-1.5zM45.1 134.5h2v0.5h-2zM47.6 134.5h1.5v0.5h-1.5zM49.6 134.5h1v0.5h-1zM53.1 134.5h4v0.5h-4zM57.6 134.5h2v0.5h-2zM60.1 134.5h1.5v0.5h-1.5zM62.1 134.5h1v0.5h-1zM66.1 134.5h1.5v0.5h-1.5zM78.1 134.5h1v0.5h-1zM82.1 134.5h7v0.5h-7zM89.6 134.5h1v0.5h-1zM42.1 135h1v0.5h-1zM45.6 135h2v0.5h-2zM48.1 135h2.5v0.5h-2.5zM53.1 135h4v0.5h-4zM57.6 135h4v0.5h-4zM64.1 135h1v0.5h-1zM66.1 135h1v0.5h-1zM76.1 135h1v0.5h-1zM82.1 135h1v0.5h-1zM83.6 135h5v0.5h-5zM89.1 135h1.5v0.5h-1.5zM39.6 135.5h1v0.5h-1zM42.1 135.5h1v0.5h-1zM44.1 135.5h1v0.5h-1zM46.6 135.5h4v0.5h-4zM52.1 135.5h1v0.5h-1zM53.6 135.5h1v0.5h-1zM55.6 135.5h2v0.5h-2zM59.1 135.5h2v0.5h-2zM64.1 135.5h1.5v0.5h-1.5zM68.1 135.5h1v0.5h-1zM74.6 135.5h2.5v0.5h-2.5zM82.6 135.5h7.5v0.5h-7.5zM39.6 136h1v0.5h-1zM44.1 136h2v0.5h-2zM47.1 136h1v0.5h-1zM48.6 136h1v0.5h-1zM52.1 136h1v0.5h-1zM55.1 136h2.5v0.5h-2.5zM60.1 136h3v0.5h-3zM64.6 136h1v0.5h-1zM66.1 136h1v0.5h-1zM68.1 136h1v0.5h-1zM72.1 136h1v0.5h-1zM74.6 136h2v0.5h-2zM82.6 136h6.5v0.5h-6.5zM43.6 136.5h1v0.5h-1zM45.1 136.5h1.5v0.5h-1.5zM47.1 136.5h1v0.5h-1zM48.6 136.5h2.5v0.5h-2.5zM55.1 136.5h1v0.5h-1zM56.6 136.5h1v0.5h-1zM59.1 136.5h4v0.5h-4zM64.6 136.5h1v0.5h-1zM66.1 136.5h1v0.5h-1zM72.1 136.5h1v0.5h-1zM81.1 136.5h1v0.5h-1zM83.6 136.5h5.5v0.5h-5.5zM39.6 137h1v0.5h-1zM41.6 137h1v0.5h-1zM43.6 137h1v0.5h-1zM45.6 137h1v0.5h-1zM49.1 137h2v0.5h-2zM52.1 137h1v0.5h-1zM54.1 137h1v0.5h-1zM56.1 137h1.5v0.5h-1.5zM58.1 137h4v0.5h-4zM64.6 137h1v0.5h-1zM68.1 137h1v0.5h-1zM72.1 137h2v0.5h-2zM80.6 137h1.5v0.5h-1.5zM83.6 137h5.5v0.5h-5.5zM89.6 137h1v0.5h-1zM39.6 137.5h1v0.5h-1zM41.6 137.5h1v0.5h-1zM45.6 137.5h1v0.5h-1zM48.6 137.5h1v0.5h-1zM51.1 137.5h2v0.5h-2zM54.1 137.5h3.5v0.5h-3.5zM58.1 137.5h1v0.5h-1zM61.1 137.5h1v0.5h-1zM68.1 137.5h1v0.5h-1zM71.6 137.5h1v0.5h-1zM73.1 137.5h1v0.5h-1zM80.6 137.5h1v0.5h-1zM82.6 137.5h5v0.5h-5zM88.1 137.5h1v0.5h-1zM89.6 137.5h1v0.5h-1zM41.6 138h1v0.5h-1zM43.6 138h1v0.5h-1zM45.6 138h1.5v0.5h-1.5zM48.6 138h1v0.5h-1zM51.1 138h1v0.5h-1zM53.6 138h4v0.5h-4zM59.1 138h1v0.5h-1zM68.1 138h1v0.5h-1zM71.6 138h1v0.5h-1zM82.6 138h5v0.5h-5zM88.1 138h2.5v0.5h-2.5zM41.1 138.5h1v0.5h-1zM43.6 138.5h1v0.5h-1zM46.1 138.5h1v0.5h-1zM53.6 138.5h1v0.5h-1zM55.6 138.5h1v0.5h-1zM59.1 138.5h1v0.5h-1zM63.6 138.5h1v0.5h-1zM68.6 138.5h2v0.5h-2zM82.6 138.5h1v0.5h-1zM84.6 138.5h1v0.5h-1zM86.1 138.5h4.5v0.5h-4.5zM41.1 139h1v0.5h-1zM46.1 139h1v0.5h-1zM51.6 139h1v0.5h-1zM63.6 139h1v0.5h-1zM67.1 139h1v0.5h-1zM68.6 139h2v0.5h-2zM71.6 139h1v0.5h-1zM82.6 139h1v0.5h-1zM84.1 139h1.5v0.5h-1.5zM86.1 139h2v0.5h-2zM88.6 139h1.5v0.5h-1.5zM51.6 139.5h1v0.5h-1zM56.1 139.5h1v0.5h-1zM57.6 139.5h1v0.5h-1zM61.1 139.5h2.5v0.5h-2.5zM67.1 139.5h2v0.5h-2zM71.6 139.5h1.5v0.5h-1.5zM84.1 139.5h1v0.5h-1zM43.1 140h1v0.5h-1zM56.1 140h1v0.5h-1zM57.6 140h1v0.5h-1zM60.1 140h3.5v0.5h-3.5zM65.1 140h1v0.5h-1zM68.1 140h1v0.5h-1zM72.1 140h1v0.5h-1zM88.1 140h1v0.5h-1zM43.1 140.5h1v0.5h-1zM54.1 140.5h1v0.5h-1zM55.6 140.5h1v0.5h-1zM60.1 140.5h1v0.5h-1zM65.1 140.5h1.5v0.5h-1.5zM85.1 140.5h1v0.5h-1zM88.1 140.5h1v0.5h-1zM48.1 141h1v0.5h-1zM53.1 141h2v0.5h-2zM55.6 141h2v0.5h-2zM65.6 141h1v0.5h-1zM67.1 141h1v0.5h-1zM74.1 141h1v0.5h-1zM83.6 141h1v0.5h-1zM85.1 141h1v0.5h-1zM87.1 141h1.5v0.5h-1.5zM47.1 141.5h2v0.5h-2zM53.1 141.5h1v0.5h-1zM56.6 141.5h1v0.5h-1zM63.6 141.5h1v0.5h-1zM65.6 141.5h1v0.5h-1zM67.1 141.5h1v0.5h-1zM74.1 141.5h1v0.5h-1zM75.6 141.5h1v0.5h-1zM83.6 141.5h1v0.5h-1zM87.1 141.5h2.5v0.5h-2.5zM47.1 142h1v0.5h-1zM52.6 142h1.5v0.5h-1.5zM57.6 142h1v0.5h-1zM63.6 142h1v0.5h-1zM65.6 142h1v0.5h-1zM67.6 142h1v0.5h-1zM70.1 142h1v0.5h-1zM75.6 142h1v0.5h-1zM82.1 142h1v0.5h-1zM85.1 142h1v0.5h-1zM88.6 142h1v0.5h-1zM45.1 142.5h1v0.5h-1zM52.6 142.5h1v0.5h-1zM57.6 142.5h1v0.5h-1zM61.6 142.5h1v0.5h-1zM67.6 142.5h1v0.5h-1zM70.1 142.5h1v0.5h-1zM78.6 142.5h1v0.5h-1zM82.1 142.5h1v0.5h-1zM85.1 142.5h1v0.5h-1zM45.1 143h1v0.5h-1zM57.1 143h1v0.5h-1zM61.6 143h1v0.5h-1zM77.1 143h1v0.5h-1zM78.6 143h1v0.5h-1zM57.1 143.5h1v0.5h-1zM59.1 143.5h1v0.5h-1zM77.1 143.5h1v0.5h-1zM48.6 144h1v0.5h-1zM56.6 144h1v0.5h-1zM59.1 144h1v0.5h-1zM65.6 144h1v0.5h-1zM48.6 144.5h1v0.5h-1zM56.6 144.5h1v0.5h-1zM60.6 144.5h1v0.5h-1zM65.6 144.5h1v0.5h-1zM58.1 145h1v0.5h-1zM60.6 145h1v0.5h-1zM58.1 145.5h1v0.5h-1zM72.1 145.5h1v0.5h-1zM76.6 145.5h1v0.5h-1zM70.6 146h1v0.5h-1zM72.1 146h1v0.5h-1zM76.6 146h1v0.5h-1zM70.6 146.5h1v0.5h-1zM74.6 146.5h1v0.5h-1zM74.6 147h1v0.5h-1zM78.1 147h1v0.5h-1zM65.1 147.5h1v0.5h-1zM74.6 147.5h1v0.5h-1zM78.1 147.5h1v0.5h-1zM88.6 147.5h1v0.5h-1zM65.1 148h1v0.5h-1zM74.6 148h1v0.5h-1zM88.6 148h1v0.5h-1zM45.1 148.5h1v0.5h-1zM58.1 148.5h1v0.5h-1zM73.6 148.5h1v0.5h-1zM45.1 149h1v0.5h-1zM58.1 149h1v0.5h-1zM73.6 149h1v0.5h-1zM69.6 150.5h1v0.5h-1zM69.6 151h1v0.5h-1zM75.6 151h1v0.5h-1zM75.6 151.5h1v0.5h-1zM82.1 151.5h1v0.5h-1zM87.1 151.5h1v0.5h-1zM50.1 152h1v0.5h-1zM57.1 152h1v0.5h-1zM82.1 152h1v0.5h-1zM87.1 152h1v0.5h-1zM50.1 152.5h1v0.5h-1zM57.1 152.5h1v0.5h-1zM51.6 153h1v0.5h-1zM51.6 153.5h1v0.5h-1zM58.6 153.5h1v0.5h-1zM58.6 154h1v0.5h-1zM50.1 154.5h1v0.5h-1zM72.6 154.5h1v0.5h-1zM50.1 155h1v0.5h-1zM72.6 155h1v0.5h-1zM44.6 156.5h1v0.5h-1zM44.6 157h1v0.5h-1z" fill="#000" stroke="none"/>
<path d="M152.6 39.6h1v0.5h-1zM142.6 40.1h1v0.5h-1zM152.6 40.1h1v0.5h-1zM142.6 40.6h1v0.5h-1zM161.1 40.6h1v0.5h-1zM168.1 40.6h1v0.5h-1zM161.1 41.1h1v0.5h-1zM168.1 41.1h1v0.5h-1zM125.1 42.6h1v0.5h-1zM172.6 42.6h1.5v0.5h-1.5zM125.1 43.1h1v0.5h-1zM169.1 43.1h2v0.5h-2zM172.1 43.1h2v0.5h-2zM164.6 43.6h1v0.5h-1zM168.6 43.6h5v0.5h-5zM164.1 44.1h1.5v0.5h-1.5zM166.1 44.1h1.5v0.5h-1.5zM168.1 44.1h2.5v0.5h-2.5zM171.1 44.1h1v0.5h-1zM172.6 44.1h1v0.5h-1zM143.1 44.6h1v0.5h-1zM160.6 44.6h1v0.5h-1zM164.1 44.6h6v0.5h-6zM133.6 45.1h2v0.5h-2zM140.1 45.1h1v0.5h-1zM143.1 45.1h2v0.5h-2zM151.6 45.1h1v0.5h-1zM160.6 45.1h1v0.5h-1zM164.6 45.1h5.5v0.5h-5.5zM171.1 45.1h1.5v0.5h-1.5zM129.1 45.6h1v0.5h-1zM133.6 45.6h2v0.5h-2zM140.1 45.6h1v0.5h-1zM144.1 45.6h1v0.5h-1zM151.6 45.6h1v0.5h-1zM161.1 45.6h1v0.5h-1zM163.6 45.6h9v0.5h-9zM175.1 45.6h1v0.5h-1zM128.6 46.1h1.5v0.5h-1.5zM135.6 46.1h1v0.5h-1zM146.6 46.1h1v0.5h-1zM151.1 46.1h1v0.5h-1zM161.1 46.1h1v0.5h-1zM163.6 46.1h8.5v0.5h-8.5zM173.1 46.1h1v0.5h-1zM175.1 46.1h1v0.5h-1zM128.6 46.6h1v0.5h-1zM131.6 46.6h2v0.5h-2zM134.6 46.6h3v0.5h-3zM139.6 46.6h1v0.5h-1zM141.6 46.6h1v0.5h-1zM146.6 46.6h1v0.5h-1zM151.1 46.6h2v0.5h-2zM160.6 46.6h1.5v0.5h-1.5zM164.1 46.6h8v0.5h-8zM173.1 46.6h1v0.5h-1zM130.6 47.1h3.5v0.5h-3.5zM134.6 47.1h1v0.5h-1zM136.6 47.1h1v0.5h-1zM139.6 47.1h1.5v0.5h-1.5zM141.6 47.1h1v0.5h-1zM144.6 47.1h1v0.5h-1zM146.1 47.1h1v0.5h-1zM152.1 47.1h1v0.5h-1zM160.6 47.1h2.5v0.5h-2.5zM163.6 47.1h8v0.5h-8zM173.1 47.1h1v0.5h-1zM175.6 47.1h1v0.5h-1zM125.1 47.6h1v0.5h-1zM128.1 47.6h1v0.5h-1zM130.6 47.6h1v0.5h-1zM132.6 47.6h1.5v0.5h-1.5zM134.6 47.6h1v0.5h-1zM136.1 47.6h1v0.5h-1zM139.1 47.6h2v0.5h-2zM143.6 47.6h2v0.5h-2zM146.1 47.6h1v0.5h-1zM160.1 47.6h12v0.5h-12zM172.6 47.6h1v0.5h-1zM175.6 47.6h1v0.5h-1zM125.1 48.1h1.5v0.5h-1.5zM128.1 48.1h1v0.5h-1zM131.6 48.1h1.5v0.5h-1.5zM136.1 48.1h1v0.5h-1zM139.1 48.1h2v0.5h-2zM142.1 48.1h1v0.5h-1zM143.6 48.1h1.5v0.5h-1.5zM146.1 48.1h1v0.5h-1zM150.1 48.1h1.5v0.5h-1.5zM155.6 48.1h1v0.5h-1zM160.1 48.1h1v0.5h-1zM161.6 48.1h12v0.5h-12zM125.6 48.6h1v0.5h-1zM127.1 48.6h1v0.5h-1zM129.1 48.6h1.5v0.5h-1.5zM131.1 48.6h2.5v0.5h-2.5zM134.6 48.6h7v0.5h-7zM142.1 48.6h1v0.5h-1zM144.6 48.6h1v0.5h-1zM146.1 48.6h3v0.5h-3zM150.1 48.6h1.5v0.5h-1.5zM155.6 48.6h1v0.5h-1zM161.6 48.6h12v0.5h-12zM177.6 48.6h1v0.5h-1zM127.1 49.1h1v0.5h-1zM129.1 49.1h1.5v0.5h-1.5zM131.1 49.1h1v0.5h-1zM132.6 49.1h10v0.5h-10zM143.6 49.1h2v0.5h-2zM147.1 49.1h2v0.5h-2zM150.6 49.1h1v0.5h-1zM161.6 49.1h12.5v0.5h-12.5zM175.1 49.1h1v0.5h-1zM177.6 49.1h1v0.5h-1zM127.1 49.6h1v0.5h-1zM129.1 49.6h7v0.5h-7zM136.6 49.6h9.5v0.5h-9.5zM147.6 49.6h1v0.5h-1zM150.6 49.6h1v0.5h-1zM153.1 49.6h1v0.5h-1zM158.6 49.6h1v0.5h-1zM161.6 49.6h12.5v0.5h-12.5zM175.1 49.6h1.5v0.5h-1.5zM123.6 50.1h1v0.5h-1zM126.1 50.1h10v0.5h-10zM136.6 50.1h4.5v0.5h-4.5zM142.1 50.1h1.5v0.5h-1.5zM145.1 50.1h1v0.5h-1zM147.1 50.1h1v0.5h-1zM150.6 50.1h1v0.5h-1zM153.1 50.1h1v0.5h-1zM154.6 50.1h1v0.5h-1zM158.6 50.1h1v0.5h-1zM160.6 50.1h13v0.5h-13zM175.6 50.1h1v0.5h-1zM123.6 50.6h1.5v0.5h-1.5zM126.1 50.6h1v0.5h-1zM127.6 50.6h2v0.5h-2zM131.6 50.6h1v0.5h-1zM133.1 50.6h5.5v0.5h-5.5zM139.1 50.6h1v0.5h-1zM141.1 50.6h1v0.5h-1zM142.6 50.6h3.5v0.5h-3.5zM147.1 50.6h1v0.5h-1zM154.6 50.6h1v0.5h-1zM156.6 50.6h1v0.5h-1zM160.6 50.6h1.5v0.5h-1.5zM162.6 50.6h11v0.5h-11zM174.6 50.6h2v0.5h-2zM123.1 51.1h2v0.5h-2zM128.1 51.1h1.5v0.5h-1.5zM131.1 51.1h4v0.5h-4zM135.6 51.1h3.5v0.5h-3.5zM141.1 51.1h5v0.5h-5zM147.6 51.1h1v0.5h-1zM156.6 51.1h1v0.5h-1zM160.6 51.1h1v0.5h-1zM162.6 51.1h11.5v0.5h-11.5zM174.6 51.1h2v0.5h-2zM123.1 51.6h1v0.5h-1zM126.1 51.6h1v0.5h-1zM128.1 51.6h7.5v0.5h-7.5zM136.1 51.6h3.5v0.5h-3.5zM140.1 51.6h1v0.5h-1zM141.6 51.6h1v0.5h-1zM144.1 51.6h2v0.5h-2zM146.6 51.6h2v0.5h-2zM151.1 51.6h1v0.5h-1zM154.1 51.6h1v0.5h-1zM162.6 51.6h8.5v0.5h-8.5zM173.1 51.6h1v0.5h-1zM126.1 52.1h1v0.5h-1zM129.6 52.1h1.5v0.5h-1.5zM132.1 52.1h1.5v0.5h-1.5zM134.6 52.1h1v0.5h-1zM137.1 52.1h2.5v0.5h-2.5zM140.1 52.1h2.5v0.5h-2.5zM144.1 52.1h1v0.5h-1zM145.6 52.1h2.5v0.5h-2.5zM151.1 52.1h2v0.5h-2zM154.1 52.1h1v0.5h-1zM161.6 52.1h1v0.5h-1zM163.1 52.1h1v0.5h-1zM164.6 52.1h7.5v0.5h-7.5zM130.1 52.6h1.5v0.5h-1.5zM133.6 52.6h1v0.5h-1zM135.6 52.6h2.5v0.5h-2.5zM140.1 52.6h2.5v0.5h-2.5zM145.6 52.6h1v0.5h-1zM147.1 52.6h1v0.5h-1zM148.6 52.6h1v0.5h-1zM150.6 52.6h2.5v0.5h-2.5zM157.6 52.6h1v0.5h-1zM161.6 52.6h1v0.5h-1zM164.6 52.6h7.5v0.5h-7.5zM130.6 53.1h1v0.5h-1zM133.6 53.1h1v0.5h-1zM135.6 53.1h2v0.5h-2zM138.1 53.1h1v0.5h-1zM140.1 53.1h1v0.5h-1zM141.6 53.1h1v0.5h-1zM148.6 53.1h1.5v0.5h-1.5zM150.6 53.1h1v0.5h-1zM157.6 53.1h1v0.5h-1zM164.6 53.1h3v0.5h-3zM168.1 53.1h1.5v0.5h-1.5zM170.6 53.1h1v0.5h-1zM174.1 53.1h2v0.5h-2zM129.1 53.6h1v0.5h-1zM133.6 53.6h1v0.5h-1zM138.1 53.6h1v0.5h-1zM139.6 53.6h1v0.5h-1zM147.6 53.6h1v0.5h-1zM149.1 53.6h1v0.5h-1zM150.6 53.6h1v0.5h-1zM160.1 53.6h1v0.5h-1zM165.1 53.6h2v0.5h-2zM167.6 53.6h1v0.5h-1zM169.6 53.6h1v0.5h-1zM172.1 53.6h1v0.5h-1zM174.1 53.6h2v0.5h-2zM129.1 54.1h1v0.5h-1zM138.6 54.1h2v0.5h-2zM142.6 54.1h1v0.5h-1zM146.1 54.1h2.5v0.5h-2.5zM155.1 54.1h1v0.5h-1zM160.1 54.1h1v0.5h-1zM164.1 54.1h1v0.5h-1zM166.6 54.1h2.5v0.5h-2.5zM169.6 54.1h1v0.5h-1zM172.1 54.1h3v0.5h-3zM180.6 54.1h1v0.5h-1zM186.6 54.1h1v0.5h-1zM129.1 54.6h1v0.5h-1zM138.6 54.6h1v0.5h-1zM142.6 54.6h1v0.5h-1zM146.1 54.6h1.5v0.5h-1.5zM150.6 54.6h1v0.5h-1zM155.1 54.6h1v0.5h-1zM157.6 54.6h1v0.5h-1zM164.1 54.6h1v0.5h-1zM166.6 54.6h1v0.5h-1zM168.1 54.6h2.5v0.5h-2.5zM172.1 54.6h2v0.5h-2zM178.1 54.6h1v0.5h-1zM180.6 54.6h1v0.5h-1zM186.6 54.6h1v0.5h-1zM129.1 55.1h1v0.5h-1zM132.1 55.1h1v0.5h-1zM146.1 55.1h1v0.5h-1zM150.6 55.1h1v0.5h-1zM157.6 55.1h1v0.5h-1zM161.1 55.1h1v0.5h-1zM168.6 55.1h1.5v0.5h-1.5zM178.1 55.1h1v0.5h-1zM130.1 55.6h1v0.5h-1zM132.1 55.6h1v0.5h-1zM144.6 55.6h1v0.5h-1zM146.1 55.6h1v0.5h-1zM153.1 55.6h1v0.5h-1zM155.1 55.6h1v0.5h-1zM158.6 55.6h1v0.5h-1zM161.1 55.6h1v0.5h-1zM162.6 55.6h1v0.5h-1zM166.6 55.6h1v0.5h-1zM169.1 55.6h1v0.5h-1zM129.1 56.1h2v0.5h-2zM135.6 56.1h1v0.5h-1zM144.6 56.1h1v0.5h-1zM153.1 56.1h1v0.5h-1zM155.1 56.1h1v0.5h-1zM157.1 56.1h1v0.5h-1zM158.6 56.1h1v0.5h-1zM162.6 56.1h2v0.5h-2zM166.6 56.1h1v0.5h-1zM169.1 56.1h1v0.5h-1zM176.6 56.1h1v0.5h-1zM129.1 56.6h1v0.5h-1zM135.6 56.6h1v0.5h-1zM149.1 56.6h1v0.5h-1zM157.1 56.6h1v0.5h-1zM163.6 56.6h1.5v0.5h-1.5zM166.6 56.6h1v0.5h-1zM176.6 56.6h1v0.5h-1zM136.6 57.1h1v0.5h-1zM149.1 57.1h1v0.5h-1zM158.6 57.1h1v0.5h-1zM164.1 57.1h1v0.5h-1zM166.6 57.1h1v0.5h-1zM175.6 57.1h1v0.5h-1zM136.6 57.6h1v0.5h-1zM141.6 57.6h1v0.5h-1zM157.6 57.6h2v0.5h-2zM167.6 57.6h2.5v0.5h-2.5zM175.6 57.6h1v0.5h-1zM178.1 57.6h1v0.5h-1zM132.1 58.1h1v0.5h-1zM141.6 58.1h1v0.5h-1zM149.1 58.1h1v0.5h-1zM153.6 58.1h1v0.5h-1zM156.1 58.1h1v0.5h-1zM157.6 58.1h1v0.5h-1zM163.1 58.1h1v0.5h-1zM165.6 58.1h1v0.5h-1zM167.6 58.1h2.5v0.5h-2.5zM173.1 58.1h2v0.5h-2zM178.1 58.1h1v0.5h-1zM130.1 58.6h1v0.5h-1zM132.1 58.6h1v0.5h-1zM149.1 58.6h1v0.5h-1zM153.6 58.6h1v0.5h-1zM156.1 58.6h1v0.5h-1zM160.1 58.6h1v0.5h-1zM162.6 58.6h1.5v0.5h-1.5zM164.6 58.6h2v0.5h-2zM173.1 58.6h2v0.5h-2zM176.1 58.6h1v0.5h-1zM124.6 59.1h1v0.5h-1zM130.1 59.1h1v0.5h-1zM133.1 59.1h1v0.5h-1zM140.1 59.1h1v0.5h-1zM145.6 59.1h1v0.5h-1zM152.1 59.1h1v0.5h-1zM160.1 59.1h1v0.5h-1zM162.6 59.1h1v0.5h-1zM164.6 59.1h1v0.5h-1zM167.6 59.1h1v0.5h-1zM176.1 59.1h1v0.5h-1zM124.6 59.6h1v0.5h-1zM133.1 59.6h1v0.5h-1zM140.1 59.6h1v0.5h-1zM145.6 59.6h1v0.5h-1zM149.6 59.6h1v0.5h-1zM152.1 59.6h1v0.5h-1zM153.6 59.6h1v0.5h-1zM160.1 59.6h1v0.5h-1zM167.6 59.6h1.5v0.5h-1.5zM134.6 60.1h1v0.5h-1zM138.1 60.1h1v0.5h-1zM149.6 60.1h1v0.5h-1zM153.6 60.1h1v0.5h-1zM159.1 60.1h1v0.5h-1zM167.1 60.1h2v0.5h-2zM171.1 60.1h1v0.5h-1zM134.6 60.6h1v0.5h-1zM138.1 60.6h1v0.5h-1zM148.1 60.6h1v0.5h-1zM154.6 60.6h1v0.5h-1zM159.1 60.6h1v0.5h-1zM160.6 60.6h1v0.5h-1zM166.1 60.6h2v0.5h-2zM171.1 60.6h2v0.5h-2zM148.1 61.1h1v0.5h-1zM154.6 61.1h1v0.5h-1zM160.6 61.1h1v0.5h-1zM164.6 61.1h3v0.5h-3zM172.1 61.1h1v0.5h-1zM185.1 61.1h1v0.5h-1zM129.6 61.6h1v0.5h-1zM142.6 61.6h1v0.5h-1zM150.6 61.6h1v0.5h-1zM154.1 61.6h1v0.5h-1zM164.6 61.6h3v0.5h-3zM168.1 61.6h1v0.5h-1zM171.1 61.6h1v0.5h-1zM172.6 61.6h1v0.5h-1zM185.1 61.6h1v0.5h-1zM124.1 62.1h1v0.5h-1zM128.1 62.1h1v0.5h-1zM129.6 62.1h1v0.5h-1zM135.6 62.1h1v0.5h-1zM138.6 62.1h1v0.5h-1zM142.6 62.1h1.5v0.5h-1.5zM148.6 62.1h3v0.5h-3zM154.1 62.1h1v0.5h-1zM159.1 62.1h1v0.5h-1zM165.1 62.1h1v0.5h-1zM168.1 62.1h1v0.5h-1zM169.6 62.1h2.5v0.5h-2.5zM172.6 62.1h1v0.5h-1zM124.1 62.6h1v0.5h-1zM128.1 62.6h1v0.5h-1zM135.6 62.6h1v0.5h-1zM138.6 62.6h1v0.5h-1zM143.1 62.6h1v0.5h-1zM148.6 62.6h2v0.5h-2zM152.6 62.6h1v0.5h-1zM157.6 62.6h2.5v0.5h-2.5zM165.1 62.6h1v0.5h-1zM167.1 62.6h1.5v0.5h-1.5zM169.1 62.6h3v0.5h-3zM133.1 63.1h1v0.5h-1zM152.6 63.1h1v0.5h-1zM157.6 63.1h2v0.5h-2zM162.1 63.1h1.5v0.5h-1.5zM165.1 63.1h1v0.5h-1zM166.6 63.1h2v0.5h-2zM169.1 63.1h1v0.5h-1zM171.1 63.1h1v0.5h-1zM173.1 63.1h1v0.5h-1zM133.1 63.6h1v0.5h-1zM147.1 63.6h1.5v0.5h-1.5zM151.6 63.6h1v0.5h-1zM162.1 63.6h2v0.5h-2zM164.6 63.6h3v0.5h-3zM173.1 63.6h1v0.5h-1zM131.6 64.1h1v0.5h-1zM133.1 64.1h1v0.5h-1zM146.6 64.1h3.5v0.5h-3.5zM151.6 64.1h1v0.5h-1zM156.6 64.1h2v0.5h-2zM162.6 64.1h1.5v0.5h-1.5zM164.6 64.1h6.5v0.5h-6.5zM171.6 64.1h1.5v0.5h-1.5zM127.6 64.6h1v0.5h-1zM131.6 64.6h1v0.5h-1zM136.6 64.6h1v0.5h-1zM146.6 64.6h1.5v0.5h-1.5zM148.6 64.6h1.5v0.5h-1.5zM156.6 64.6h2v0.5h-2zM159.6 64.6h1v0.5h-1zM161.1 64.6h1v0.5h-1zM162.6 64.6h1.5v0.5h-1.5zM165.1 64.6h8v0.5h-8zM127.6 65.1h1v0.5h-1zM129.1 65.1h1v0.5h-1zM131.1 65.1h1v0.5h-1zM136.6 65.1h1v0.5h-1zM147.1 65.1h1.5v0.5h-1.5zM149.1 65.1h1v0.5h-1zM157.1 65.1h1v0.5h-1zM159.6 65.1h1v0.5h-1zM161.1 65.1h1v0.5h-1zM164.6 65.1h3v0.5h-3zM168.6 65.1h5.5v0.5h-5.5zM176.1 65.1h1v0.5h-1zM126.6 65.6h1v0.5h-1zM129.1 65.6h1v0.5h-1zM131.1 65.6h1v0.5h-1zM136.6 65.6h2.5v0.5h-2.5zM147.6 65.6h1v0.5h-1zM149.1 65.6h1v0.5h-1zM159.1 65.6h1v0.5h-1zM163.1 65.6h9v0.5h-9zM173.1 65.6h1v0.5h-1zM176.1 65.6h1v0.5h-1zM182.1 65.6h1v0.5h-1zM126.6 66.1h3v0.5h-3zM131.1 66.1h3v0.5h-3zM137.1 66.1h3v0.5h-3zM141.6 66.1h1v0.5h-1zM150.6 66.1h1v0.5h-1zM152.6 66.1h1v0.5h-1zM159.1 66.1h1v0.5h-1zM162.1 66.1h10.5v0.5h-10.5zM182.1 66.1h1v0.5h-1zM124.1 66.6h1v0.5h-1zM127.6 66.6h2v0.5h-2zM131.1 66.6h4v0.5h-4zM136.1 66.6h2v0.5h-2zM139.1 66.6h1v0.5h-1zM141.1 66.6h1.5v0.5h-1.5zM143.1 66.6h1v0.5h-1zM150.6 66.6h1v0.5h-1zM152.6 66.6h2v0.5h-2zM162.1 66.6h1v0.5h-1zM163.6 66.6h10v0.5h-10zM124.1 67.1h1v0.5h-1zM134.1 67.1h4v0.5h-4zM141.1 67.1h1v0.5h-1zM142.6 67.1h1.5v0.5h-1.5zM153.1 67.1h1.5v0.5h-1.5zM162.6 67.1h9.5v0.5h-9.5zM172.6 67.1h1v0.5h-1zM135.1 67.6h2.5v0.5h-2.5zM139.6 67.6h1v0.5h-1zM142.1 67.6h1.5v0.5h-1.5zM153.1 67.6h1v0.5h-1zM161.6 67.6h13v0.5h-13zM129.1 68.1h1v0.5h-1zM132.1 68.1h1v0.5h-1zM135.1 68.1h1v0.5h-1zM136.6 68.1h1v0.5h-1zM139.6 68.1h2v0.5h-2zM142.1 68.1h1v0.5h-1zM145.6 68.1h2v0.5h-2zM155.6 68.1h1v0.5h-1zM161.6 68.1h13v0.5h-13zM123.1 68.6h1v0.5h-1zM125.1 68.6h1v0.5h-1zM129.1 68.6h1v0.5h-1zM130.6 68.6h5.5v0.5h-5.5zM136.6 68.6h1v0.5h-1zM140.6 68.6h2v0.5h-2zM145.6 68.6h2v0.5h-2zM155.6 68.6h1v0.5h-1zM161.1 68.6h10.5v0.5h-10.5zM123.1 69.1h1v0.5h-1zM125.1 69.1h1v0.5h-1zM128.6 69.1h1v0.5h-1zM130.6 69.1h5.5v0.5h-5.5zM136.6 69.1h1v0.5h-1zM141.6 69.1h1v0.5h-1zM148.6 69.1h1v0.5h-1zM153.1 69.1h1v0.5h-1zM161.1 69.1h2.5v0.5h-2.5zM164.6 69.1h9.5v0.5h-9.5zM125.1 69.6h1v0.5h-1zM128.6 69.6h1v0.5h-1zM130.6 69.6h7.5v0.5h-7.5zM141.1 69.6h1v0.5h-1zM148.6 69.6h1v0.5h-1zM153.1 69.6h1v0.5h-1zM157.1 69.6h1v0.5h-1zM159.1 69.6h1v0.5h-1zM161.1 69.6h13v0.5h-13zM125.1 70.1h1v0.5h-1zM127.1 70.1h1v0.5h-1zM130.6 70.1h7.5v0.5h-7.5zM140.1 70.1h2v0.5h-2zM148.6 70.1h1v0.5h-1zM151.1 70.1h1v0.5h-1zM154.1 70.1h1v0.5h-1zM157.1 70.1h1v0.5h-1zM159.1 70.1h12.5v0.5h-12.5zM172.1 70.1h1v0.5h-1zM174.1 70.1h1v0.5h-1zM126.6 70.6h12.5v0.5h-12.5zM139.6 70.6h2v0.5h-2zM142.6 70.6h1v0.5h-1zM144.1 70.6h1v0.5h-1zM148.6 70.6h1v0.5h-1zM151.1 70.6h2v0.5h-2zM154.1 70.6h1v0.5h-1zM159.6 70.6h16v0.5h-16zM126.6 71.1h14.5v0.5h-14.5zM142.6 71.1h1v0.5h-1zM144.1 71.1h1v0.5h-1zM147.6 71.1h1v0.5h-1zM152.1 71.1h1v0.5h-1zM154.6 71.1h1v0.5h-1zM161.1 71.1h14.5v0.5h-14.5zM123.1 71.6h1v0.5h-1zM126.1 71.6h1v0.5h-1zM128.6 71.6h14.5v0.5h-14.5zM143.6 71.6h3v0.5h-3zM147.6 71.6h1v0.5h-1zM153.6 71.6h2v0.5h-2zM162.1 71.6h13v0.5h-13zM123.1 72.1h2v0.5h-2zM126.1 72.1h1v0.5h-1zM128.6 72.1h14.5v0.5h-14.5zM143.6 72.1h3.5v0.5h-3.5zM153.6 72.1h1v0.5h-1zM159.1 72.1h1v0.5h-1zM160.6 72.1h14.5v0.5h-14.5zM124.1 72.6h3.5v0.5h-3.5zM128.1 72.6h13v0.5h-13zM142.1 72.6h2.5v0.5h-2.5zM145.1 72.6h2v0.5h-2zM150.1 72.6h1v0.5h-1zM159.1 72.6h15.5v0.5h-15.5zM123.1 73.1h1v0.5h-1zM124.6 73.1h17v0.5h-17zM142.1 73.1h2.5v0.5h-2.5zM145.1 73.1h2v0.5h-2zM148.1 73.1h1v0.5h-1zM150.1 73.1h1v0.5h-1zM158.1 73.1h1v0.5h-1zM159.6 73.1h1v0.5h-1zM161.1 73.1h13.5v0.5h-13.5zM123.1 73.6h20v0.5h-20zM145.1 73.6h1v0.5h-1zM148.1 73.6h1v0.5h-1zM158.1 73.6h1v0.5h-1zM159.6 73.6h15.5v0.5h-15.5zM124.1 74.1h1v0.5h-1zM125.6 74.1h17.5v0.5h-17.5zM148.1 74.1h1v0.5h-1zM151.6 74.1h1v0.5h-1zM157.6 74.1h1v0.5h-1zM160.6 74.1h14.5v0.5h-14.5zM175.6 74.1h1v0.5h-1zM123.1 74.6h1v0.5h-1zM125.1 74.6h20v0.5h-20zM145.6 74.6h1v0.5h-1zM147.1 74.6h2.5v0.5h-2.5zM151.6 74.6h1v0.5h-1zM156.1 74.6h1v0.5h-1zM157.6 74.6h2v0.5h-2zM160.6 74.6h13v0.5h-13zM174.1 74.6h1v0.5h-1zM175.6 74.6h1v0.5h-1zM123.1 75.1h22v0.5h-22zM145.6 75.1h1v0.5h-1zM147.1 75.1h2.5v0.5h-2.5zM150.6 75.1h1v0.5h-1zM154.6 75.1h1v0.5h-1zM156.1 75.1h1v0.5h-1zM158.6 75.1h1v0.5h-1zM160.6 75.1h13.5v0.5h-13.5zM175.6 75.1h1v0.5h-1zM123.6 75.6h20.5v0.5h-20.5zM145.1 75.6h1v0.5h-1zM150.6 75.6h1v0.5h-1zM154.6 75.6h1.5v0.5h-1.5zM158.6 75.6h1v0.5h-1zM160.6 75.6h12v0.5h-12zM173.1 75.6h1v0.5h-1zM175.1 75.6h1v0.5h-1zM123.6 76.1h22.5v0.5h-22.5zM155.1 76.1h1v0.5h-1zM158.6 76.1h1.5v0.5h-1.5zM160.6 76.1h14v0.5h-14zM175.1 76.1h1v0.5h-1zM123.6 76.6h22v0.5h-22zM146.1 76.6h1v0.5h-1zM149.1 76.6h2v0.5h-2zM159.1 76.6h15.5v0.5h-15.5zM123.6 77.1h23.5v0.5h-23.5zM148.1 77.1h4v0.5h-4zM158.6 77.1h1v0.5h-1zM160.1 77.1h14v0.5h-14zM186.1 77.1h1v0.5h-1zM124.6 77.6h24.5v0.5h-24.5zM149.6 77.6h1v0.5h-1zM151.1 77.6h1v0.5h-1zM158.6 77.6h1v0.5h-1zM160.6 77.6h14v0.5h-14zM186.1 77.6h1v0.5h-1zM123.1 78.1h26v0.5h-26zM153.1 78.1h1v0.5h-1zM161.6 78.1h14v0.5h-14zM178.6 78.1h1v0.5h-1zM123.1 78.6h24.5v0.5h-24.5zM148.1 78.6h1.5v0.5h-1.5zM153.1 78.6h1v0.5h-1zM155.1 78.6h1v0.5h-1zM159.1 78.6h1v0.5h-1zM161.6 78.6h14v0.5h-14zM178.6 78.6h1v0.5h-1zM123.6 79.1h23.5v0.5h-23.5zM148.6 79.1h1v0.5h-1zM155.1 79.1h1v0.5h-1zM158.6 79.1h1.5v0.5h-1.5zM161.1 79.1h12v0.5h-12zM173.6 79.1h1v0.5h-1zM123.6 79.6h23.5v0.5h-23.5zM149.6 79.6h1v0.5h-1zM158.6 79.6h1v0.5h-1zM161.1 79.6h13.5v0.5h-13.5zM123.6 80.1h22.5v0.5h-22.5zM146.6 80.1h1v0.5h-1zM148.1 80.1h1v0.5h-1zM149.6 80.1h1v0.5h-1zM161.1 80.1h13.5v0.5h-13.5zM175.6 80.1h2v0.5h-2zM123.6 80.6h24v0.5h-24zM148.1 80.6h1v0.5h-1zM160.1 80.6h15v0.5h-15zM175.6 80.6h2v0.5h-2zM123.6 81.1h25.5v0.5h-25.5zM149.6 81.1h1v0.5h-1zM153.1 81.1h2v0.5h-2zM160.1 81.1h1.5v0.5h-1.5zM162.1 81.1h13.5v0.5h-13.5zM123.1 81.6h23v0.5h-23zM146.6 81.6h4v0.5h-4zM153.1 81.6h2.5v0.5h-2.5zM160.1 81.6h1v0.5h-1zM162.1 81.6h13.5v0.5h-13.5zM123.1 82.1h24.5v0.5h-24.5zM148.1 82.1h2.5v0.5h-2.5zM152.6 82.1h1v0.5h-1zM154.1 82.1h1.5v0.5h-1.5zM157.1 82.1h1v0.5h-1zM160.1 82.1h13v0.5h-13zM173.6 82.1h1.5v0.5h-1.5zM181.6 82.1h1v0.5h-1zM123.1 82.6h25v0.5h-25zM149.6 82.6h1v0.5h-1zM152.6 82.6h1v0.5h-1zM157.1 82.6h1v0.5h-1zM161.1 82.6h12v0.5h-12zM174.1 82.6h1v0.5h-1zM175.6 82.6h1v0.5h-1zM181.6 82.6h1v0.5h-1zM123.1 83.1h25v0.5h-25zM159.1 83.1h16v0.5h-16zM175.6 83.1h1v0.5h-1zM124.1 83.6h20v0.5h-20zM145.1 83.6h3.5v0.5h-3.5zM149.1 83.6h1v0.5h-1zM154.6 83.6h1v0.5h-1zM156.1 83.6h1v0.5h-1zM157.6 83.6h16.5v0.5h-16.5zM174.6 83.6h1v0.5h-1zM123.1 84.1h24v0.5h-24zM147.6 84.1h3v0.5h-3zM154.6 84.1h2.5v0.5h-2.5zM157.6 84.1h1.5v0.5h-1.5zM161.1 84.1h13v0.5h-13zM174.6 84.1h1v0.5h-1zM123.1 84.6h24v0.5h-24zM148.1 84.6h1v0.5h-1zM149.6 84.6h1v0.5h-1zM154.6 84.6h1.5v0.5h-1.5zM158.1 84.6h1v0.5h-1zM160.1 84.6h14v0.5h-14zM176.6 84.6h1v0.5h-1zM123.6 85.1h23.5v0.5h-23.5zM150.1 85.1h1v0.5h-1zM154.6 85.1h2v0.5h-2zM157.1 85.1h2v0.5h-2zM160.1 85.1h14.5v0.5h-14.5zM176.6 85.1h1v0.5h-1zM123.6 85.6h23.5v0.5h-23.5zM148.1 85.6h1v0.5h-1zM150.1 85.6h1v0.5h-1zM154.6 85.6h2v0.5h-2zM157.1 85.6h1v0.5h-1zM159.6 85.6h1v0.5h-1zM161.1 85.6h1v0.5h-1zM162.6 85.6h12v0.5h-12zM177.1 85.6h1v0.5h-1zM124.1 86.1h1v0.5h-1zM125.6 86.1h20.5v0.5h-20.5zM148.1 86.1h3v0.5h-3zM154.6 86.1h1.5v0.5h-1.5zM157.1 86.1h1v0.5h-1zM159.6 86.1h1.5v0.5h-1.5zM162.1 86.1h10.5v0.5h-10.5zM173.1 86.1h1v0.5h-1zM175.6 86.1h1v0.5h-1zM177.1 86.1h1v0.5h-1zM179.1 86.1h1v0.5h-1zM124.1 86.6h22v0.5h-22zM147.1 86.6h1v0.5h-1zM149.1 86.6h2v0.5h-2zM151.6 86.6h1v0.5h-1zM159.6 86.6h1.5v0.5h-1.5zM162.1 86.6h12v0.5h-12zM175.6 86.6h1v0.5h-1zM179.1 86.6h1v0.5h-1zM180.6 86.6h1v0.5h-1zM123.6 87.1h23v0.5h-23zM147.1 87.1h1v0.5h-1zM149.1 87.1h1.5v0.5h-1.5zM151.6 87.1h1v0.5h-1zM160.6 87.1h1v0.5h-1zM163.6 87.1h10.5v0.5h-10.5zM180.6 87.1h1v0.5h-1zM123.6 87.6h1v0.5h-1zM125.1 87.6h21.5v0.5h-21.5zM149.1 87.6h1.5v0.5h-1.5zM157.1 87.6h1v0.5h-1zM160.6 87.6h1v0.5h-1zM162.1 87.6h1v0.5h-1zM163.6 87.6h10.5v0.5h-10.5zM126.1 88.1h17.5v0.5h-17.5zM144.1 88.1h1v0.5h-1zM145.6 88.1h3.5v0.5h-3.5zM149.6 88.1h1v0.5h-1zM157.1 88.1h1v0.5h-1zM160.1 88.1h1v0.5h-1zM162.1 88.1h10v0.5h-10zM173.1 88.1h1v0.5h-1zM175.1 88.1h1v0.5h-1zM126.1 88.6h23.5v0.5h-23.5zM157.1 88.6h1v0.5h-1zM159.6 88.6h1.5v0.5h-1.5zM161.6 88.6h10v0.5h-10zM172.1 88.6h2v0.5h-2zM175.1 88.6h1v0.5h-1zM123.6 89.1h1v0.5h-1zM125.1 89.1h21.5v0.5h-21.5zM148.6 89.1h1v0.5h-1zM152.1 89.1h1v0.5h-1zM155.1 89.1h1v0.5h-1zM159.6 89.1h1v0.5h-1zM161.6 89.1h13v0.5h-13zM175.1 89.1h1v0.5h-1zM123.1 89.6h1.5v0.5h-1.5zM125.1 89.6h19.5v0.5h-19.5zM145.1 89.6h1.5v0.5h-1.5zM150.1 89.6h1v0.5h-1zM152.1 89.6h1v0.5h-1zM153.6 89.6h1v0.5h-1zM155.1 89.6h1v0.5h-1zM158.6 89.6h2v0.5h-2zM161.6 89.6h10.5v0.5h-10.5zM172.6 89.6h2v0.5h-2zM123.1 90.1h1v0.5h-1zM127.6 90.1h11.5v0.5h-11.5zM139.6 90.1h1v0.5h-1zM141.1 90.1h2.5v0.5h-2.5zM150.1 90.1h1v0.5h-1zM153.6 90.1h1v0.5h-1zM158.6 90.1h2v0.5h-2zM161.6 90.1h7.5v0.5h-7.5zM170.1 90.1h1.5v0.5h-1.5z" fill="#000" stroke="none"/>
<path d="M152.3 100.3h1v0.5h-1zM152.3 100.8h1v0.5h-1zM165.8 110.3h1v0.5h-1zM165.8 110.8h1v0.5h-1zM167.8 110.8h1v0.5h-1zM158.3 111.3h1v0.5h-1zM164.8 111.3h1.5v0.5h-1.5zM167.8 111.3h1v0.5h-1zM170.3 111.3h1v0.5h-1zM157.3 111.8h2v0.5h-2zM161.3 111.8h3v0.5h-3zM164.8 111.8h1.5v0.5h-1.5zM167.8 111.8h1v0.5h-1zM170.3 111.8h1v0.5h-1zM138.8 112.3h1v0.5h-1zM154.8 112.3h1v0.5h-1zM157.3 112.3h1v0.5h-1zM161.3 112.3h3v0.5h-3zM164.8 112.3h2.5v0.5h-2.5zM167.8 112.3h1v0.5h-1zM170.8 112.3h1v0.5h-1zM134.3 112.8h2.5v0.5h-2.5zM138.8 112.8h1v0.5h-1zM142.8 112.8h1v0.5h-1zM154.8 112.8h1v0.5h-1zM162.8 112.8h1v0.5h-1zM164.8 112.8h5.5v0.5h-5.5zM170.8 112.8h1v0.5h-1zM179.3 112.8h1v0.5h-1zM134.3 113.3h2.5v0.5h-2.5zM138.3 113.3h1v0.5h-1zM140.8 113.3h1v0.5h-1zM142.8 113.3h1v0.5h-1zM162.8 113.3h7.5v0.5h-7.5zM170.8 113.3h1.5v0.5h-1.5zM179.3 113.3h1v0.5h-1zM132.8 113.8h1v0.5h-1zM134.3 113.8h1v0.5h-1zM138.3 113.8h1v0.5h-1zM139.8 113.8h2v0.5h-2zM162.8 113.8h8v0.5h-8zM171.3 113.8h1v0.5h-1zM132.3 114.3h2v0.5h-2zM136.8 114.3h1v0.5h-1zM138.3 114.3h2.5v0.5h-2.5zM143.8 114.3h1v0.5h-1zM162.3 114.3h9.5v0.5h-9.5zM125.3 114.8h1v0.5h-1zM129.8 114.8h1v0.5h-1zM131.3 114.8h3v0.5h-3zM134.8 114.8h3v0.5h-3zM138.3 114.8h2v0.5h-2zM141.3 114.8h1v0.5h-1zM142.8 114.8h2v0.5h-2zM146.3 114.8h1v0.5h-1zM162.3 114.8h9.5v0.5h-9.5zM175.8 114.8h1v0.5h-1zM125.3 115.3h1v0.5h-1zM129.8 115.3h3v0.5h-3zM134.8 115.3h4v0.5h-4zM140.8 115.3h3.5v0.5h-3.5zM145.3 115.3h2v0.5h-2zM161.8 115.3h1v0.5h-1zM163.3 115.3h9v0.5h-9zM175.8 115.3h1v0.5h-1zM122.8 115.8h1v0.5h-1zM124.3 115.8h1v0.5h-1zM130.3 115.8h2.5v0.5h-2.5zM133.8 115.8h1v0.5h-1zM135.3 115.8h9v0.5h-9zM145.3 115.8h2.5v0.5h-2.5zM149.3 115.8h1v0.5h-1zM156.3 115.8h1v0.5h-1zM161.3 115.8h11v0.5h-11zM175.3 115.8h1v0.5h-1zM183.8 115.8h1v0.5h-1zM122.8 116.3h1v0.5h-1zM124.3 116.3h1v0.5h-1zM130.3 116.3h3v0.5h-3zM133.8 116.3h1v0.5h-1zM135.3 116.3h9.5v0.5h-9.5zM145.3 116.3h2.5v0.5h-2.5zM148.8 116.3h1.5v0.5h-1.5zM156.3 116.3h1v0.5h-1zM161.3 116.3h9v0.5h-9zM170.8 116.3h2v0.5h-2zM174.8 116.3h1.5v0.5h-1.5zM183.8 116.3h1v0.5h-1zM127.8 116.8h1v0.5h-1zM131.3 116.8h4v0.5h-4zM135.8 116.8h5v0.5h-5zM141.8 116.8h3v0.5h-3zM146.8 116.8h1v0.5h-1zM148.8 116.8h1v0.5h-1zM160.8 116.8h10.5v0.5h-10.5zM171.8 116.8h1.5v0.5h-1.5zM174.8 116.8h1v0.5h-1zM123.8 117.3h1v0.5h-1zM127.8 117.3h1v0.5h-1zM130.8 117.3h4.5v0.5h-4.5zM135.8 117.3h3.5v0.5h-3.5zM139.8 117.3h6v0.5h-6zM148.3 117.3h3v0.5h-3zM151.8 117.3h2v0.5h-2zM160.8 117.3h12.5v0.5h-12.5zM123.8 117.8h2v0.5h-2zM129.3 117.8h4.5v0.5h-4.5zM134.3 117.8h1v0.5h-1zM135.8 117.8h2v0.5h-2zM139.8 117.8h6v0.5h-6zM148.3 117.8h3v0.5h-3zM151.8 117.8h2v0.5h-2zM160.8 117.8h11.5v0.5h-11.5zM122.8 118.3h1v0.5h-1zM124.8 118.3h1v0.5h-1zM129.3 118.3h4v0.5h-4zM133.8 118.3h2v0.5h-2zM138.8 118.3h6v0.5h-6zM152.3 118.3h1v0.5h-1zM161.3 118.3h10.5v0.5h-10.5zM172.3 118.3h1v0.5h-1zM122.8 118.8h1v0.5h-1zM129.8 118.8h6v0.5h-6zM136.3 118.8h1v0.5h-1zM138.3 118.8h8v0.5h-8zM155.8 118.8h1v0.5h-1zM159.8 118.8h1v0.5h-1zM161.3 118.8h9.5v0.5h-9.5zM172.3 118.8h1v0.5h-1zM173.8 118.8h1v0.5h-1zM184.3 118.8h1v0.5h-1zM127.8 119.3h1v0.5h-1zM130.8 119.3h1v0.5h-1zM132.8 119.3h1.5v0.5h-1.5zM135.3 119.3h2.5v0.5h-2.5zM138.3 119.3h4v0.5h-4zM142.8 119.3h3.5v0.5h-3.5zM155.8 119.3h2v0.5h-2zM159.8 119.3h1v0.5h-1zM161.8 119.3h2v0.5h-2zM164.3 119.3h6.5v0.5h-6.5zM172.8 119.3h2v0.5h-2zM175.3 119.3h1v0.5h-1zM184.3 119.3h1v0.5h-1zM127.8 119.8h1v0.5h-1zM130.8 119.8h1v0.5h-1zM133.3 119.8h1v0.5h-1zM135.3 119.8h2.5v0.5h-2.5zM139.3 119.8h2v0.5h-2zM142.8 119.8h3v0.5h-3zM146.8 119.8h1v0.5h-1zM148.8 119.8h1v0.5h-1zM150.8 119.8h1v0.5h-1zM156.8 119.8h1v0.5h-1zM161.8 119.8h2v0.5h-2zM164.3 119.8h7v0.5h-7zM172.8 119.8h1v0.5h-1zM175.3 119.8h1v0.5h-1zM127.3 120.3h1v0.5h-1zM129.8 120.3h1v0.5h-1zM132.3 120.3h1.5v0.5h-1.5zM135.3 120.3h3.5v0.5h-3.5zM139.3 120.3h2v0.5h-2zM141.8 120.3h2v0.5h-2zM144.3 120.3h1.5v0.5h-1.5zM146.8 120.3h1v0.5h-1zM148.8 120.3h3v0.5h-3zM161.8 120.3h10.5v0.5h-10.5zM127.3 120.8h1v0.5h-1zM129.8 120.8h1v0.5h-1zM132.3 120.8h1.5v0.5h-1.5zM134.8 120.8h5v0.5h-5zM140.3 120.8h1v0.5h-1zM141.8 120.8h2v0.5h-2zM149.8 120.8h1v0.5h-1zM155.8 120.8h1v0.5h-1zM161.8 120.8h6.5v0.5h-6.5zM168.8 120.8h1.5v0.5h-1.5zM171.3 120.8h1v0.5h-1zM174.3 120.8h1v0.5h-1zM131.3 121.3h1v0.5h-1zM134.8 121.3h1v0.5h-1zM138.8 121.3h1v0.5h-1zM142.8 121.3h1v0.5h-1zM144.3 121.3h1v0.5h-1zM155.3 121.3h1.5v0.5h-1.5zM158.8 121.3h1v0.5h-1zM161.8 121.3h2.5v0.5h-2.5zM165.3 121.3h6.5v0.5h-6.5zM174.3 121.3h1v0.5h-1zM179.8 121.3h1v0.5h-1zM183.3 121.3h1v0.5h-1zM131.3 121.8h1v0.5h-1zM140.8 121.8h1v0.5h-1zM142.8 121.8h2.5v0.5h-2.5zM153.3 121.8h1v0.5h-1zM155.3 121.8h1v0.5h-1zM157.3 121.8h1v0.5h-1zM158.8 121.8h1v0.5h-1zM164.3 121.8h2v0.5h-2zM166.8 121.8h5v0.5h-5zM179.8 121.8h1v0.5h-1zM183.3 121.8h1v0.5h-1zM128.8 122.3h1v0.5h-1zM130.8 122.3h1v0.5h-1zM140.8 122.3h1v0.5h-1zM143.8 122.3h1v0.5h-1zM152.3 122.3h2v0.5h-2zM157.3 122.3h1v0.5h-1zM158.8 122.3h1v0.5h-1zM164.3 122.3h1v0.5h-1zM167.3 122.3h1v0.5h-1zM169.8 122.3h1v0.5h-1zM178.8 122.3h1v0.5h-1zM128.8 122.8h1v0.5h-1zM130.8 122.8h1v0.5h-1zM136.3 122.8h1v0.5h-1zM140.3 122.8h1v0.5h-1zM142.3 122.8h1v0.5h-1zM146.3 122.8h1v0.5h-1zM152.3 122.8h1v0.5h-1zM158.3 122.8h1.5v0.5h-1.5zM167.8 122.8h1v0.5h-1zM169.8 122.8h1v0.5h-1zM175.3 122.8h1v0.5h-1zM178.8 122.8h1v0.5h-1zM124.3 123.3h1v0.5h-1zM131.3 123.3h2v0.5h-2zM136.3 123.3h1v0.5h-1zM140.3 123.3h1v0.5h-1zM142.3 123.3h1v0.5h-1zM144.3 123.3h1v0.5h-1zM146.3 123.3h1v0.5h-1zM157.3 123.3h2v0.5h-2zM165.3 123.3h1v0.5h-1zM167.8 123.3h1v0.5h-1zM169.8 123.3h1v0.5h-1zM175.3 123.3h1v0.5h-1zM124.3 123.8h1v0.5h-1zM131.3 123.8h3v0.5h-3zM136.3 123.8h1v0.5h-1zM141.3 123.8h2v0.5h-2zM144.3 123.8h1v0.5h-1zM157.3 123.8h1v0.5h-1zM163.3 123.8h1v0.5h-1zM165.3 123.8h1v0.5h-1zM133.3 124.3h1v0.5h-1zM136.3 124.3h1v0.5h-1zM141.3 124.3h2v0.5h-2zM155.8 124.3h2v0.5h-2zM158.8 124.3h2v0.5h-2zM163.3 124.3h1v0.5h-1zM171.8 124.3h1v0.5h-1zM155.8 124.8h2v0.5h-2zM158.8 124.8h2v0.5h-2zM161.3 124.8h1v0.5h-1zM171.8 124.8h1v0.5h-1zM125.8 125.3h1v0.5h-1zM138.3 125.3h1v0.5h-1zM142.3 125.3h1v0.5h-1zM152.8 125.3h1v0.5h-1zM161.3 125.3h2v0.5h-2zM169.8 125.3h1v0.5h-1zM171.3 125.3h1v0.5h-1zM180.3 125.3h1v0.5h-1zM125.8 125.8h1v0.5h-1zM137.8 125.8h1.5v0.5h-1.5zM142.3 125.8h1.5v0.5h-1.5zM147.3 125.8h1v0.5h-1zM152.8 125.8h1v0.5h-1zM162.3 125.8h1v0.5h-1zM169.8 125.8h1v0.5h-1zM171.3 125.8h1v0.5h-1zM180.3 125.8h1v0.5h-1zM137.8 126.3h1v0.5h-1zM142.8 126.3h1v0.5h-1zM147.3 126.3h1v0.5h-1zM152.8 126.3h2v0.5h-2zM152.8 126.8h2v0.5h-2zM165.8 126.8h1v0.5h-1zM168.8 126.8h1.5v0.5h-1.5zM133.3 127.3h1v0.5h-1zM135.8 127.3h1v0.5h-1zM152.3 127.3h1v0.5h-1zM165.8 127.3h2v0.5h-2zM168.8 127.3h1.5v0.5h-1.5zM133.3 127.8h1v0.5h-1zM135.8 127.8h1v0.5h-1zM139.3 127.8h1v0.5h-1zM140.8 127.8h1v0.5h-1zM145.3 127.8h1v0.5h-1zM151.3 127.8h3v0.5h-3zM156.3 127.8h1v0.5h-1zM162.8 127.8h1v0.5h-1zM166.3 127.8h1.5v0.5h-1.5zM127.8 128.3h1v0.5h-1zM131.8 128.3h1v0.5h-1zM139.3 128.3h1v0.5h-1zM140.8 128.3h1v0.5h-1zM142.3 128.3h2v0.5h-2zM145.3 128.3h1v0.5h-1zM151.3 128.3h1v0.5h-1zM153.3 128.3h1v0.5h-1zM155.8 128.3h1.5v0.5h-1.5zM162.8 128.3h1.5v0.5h-1.5zM127.8 128.8h1v0.5h-1zM131.8 128.8h1v0.5h-1zM136.3 128.8h1v0.5h-1zM139.3 128.8h1v0.5h-1zM142.3 128.8h2v0.5h-2zM152.8 128.8h1.5v0.5h-1.5zM155.8 128.8h1v0.5h-1zM163.3 128.8h1v0.5h-1zM131.8 129.3h1v0.5h-1zM136.3 129.3h1v0.5h-1zM138.8 129.3h1v0.5h-1zM143.3 129.3h1v0.5h-1zM152.8 129.3h1.5v0.5h-1.5zM161.8 129.3h1v0.5h-1zM165.8 129.3h1v0.5h-1zM126.3 129.8h1v0.5h-1zM129.3 129.8h1v0.5h-1zM131.8 129.8h1v0.5h-1zM136.8 129.8h1v0.5h-1zM138.8 129.8h1v0.5h-1zM143.3 129.8h1v0.5h-1zM152.3 129.8h1v0.5h-1zM160.8 129.8h2v0.5h-2zM163.3 129.8h1v0.5h-1zM165.8 129.8h1v0.5h-1zM172.8 129.8h1v0.5h-1zM175.8 129.8h1v0.5h-1zM126.3 130.3h1v0.5h-1zM129.3 130.3h1v0.5h-1zM131.8 130.3h1v0.5h-1zM134.8 130.3h1v0.5h-1zM136.8 130.3h2v0.5h-2zM144.3 130.3h1v0.5h-1zM147.3 130.3h1v0.5h-1zM152.3 130.3h1v0.5h-1zM153.8 130.3h2v0.5h-2zM160.8 130.3h1v0.5h-1zM162.8 130.3h1.5v0.5h-1.5zM166.8 130.3h1v0.5h-1zM168.3 130.3h1v0.5h-1zM170.3 130.3h3.5v0.5h-3.5zM175.8 130.3h1v0.5h-1zM129.3 130.8h2v0.5h-2zM131.8 130.8h1v0.5h-1zM134.8 130.8h1v0.5h-1zM137.8 130.8h1v0.5h-1zM141.8 130.8h1v0.5h-1zM144.3 130.8h1v0.5h-1zM145.8 130.8h1v0.5h-1zM147.3 130.8h1v0.5h-1zM153.8 130.8h2v0.5h-2zM156.3 130.8h1v0.5h-1zM158.3 130.8h1v0.5h-1zM162.8 130.8h1v0.5h-1zM165.8 130.8h2v0.5h-2zM168.3 130.8h1v0.5h-1zM170.3 130.8h2.5v0.5h-2.5zM129.8 131.3h1.5v0.5h-1.5zM141.8 131.3h1.5v0.5h-1.5zM145.8 131.3h1v0.5h-1zM156.3 131.3h1v0.5h-1zM158.3 131.3h1v0.5h-1zM162.8 131.3h1v0.5h-1zM165.3 131.3h1.5v0.5h-1.5zM170.3 131.3h2v0.5h-2zM173.3 131.3h1v0.5h-1zM127.8 131.8h3v0.5h-3zM132.8 131.8h1v0.5h-1zM134.8 131.8h1v0.5h-1zM136.3 131.8h1v0.5h-1zM139.3 131.8h1v0.5h-1zM142.3 131.8h1v0.5h-1zM147.8 131.8h1v0.5h-1zM164.8 131.8h1.5v0.5h-1.5zM167.3 131.8h1v0.5h-1zM168.8 131.8h1v0.5h-1zM170.3 131.8h2v0.5h-2zM173.3 131.8h1v0.5h-1zM127.8 132.3h2v0.5h-2zM132.8 132.3h1v0.5h-1zM134.8 132.3h1v0.5h-1zM136.3 132.3h2v0.5h-2zM139.3 132.3h2.5v0.5h-2.5zM142.3 132.3h1.5v0.5h-1.5zM147.8 132.3h1v0.5h-1zM149.8 132.3h1v0.5h-1zM152.8 132.3h2.5v0.5h-2.5zM160.3 132.3h1v0.5h-1zM164.8 132.3h1v0.5h-1zM167.3 132.3h1v0.5h-1zM168.8 132.3h1v0.5h-1zM170.3 132.3h1v0.5h-1zM124.8 132.8h1v0.5h-1zM128.8 132.8h1v0.5h-1zM137.3 132.8h1v0.5h-1zM139.8 132.8h2v0.5h-2zM142.3 132.8h1.5v0.5h-1.5zM149.8 132.8h1v0.5h-1zM152.8 132.8h2.5v0.5h-2.5zM159.8 132.8h1.5v0.5h-1.5zM168.8 132.8h1v0.5h-1zM170.3 132.8h1v0.5h-1zM124.8 133.3h1.5v0.5h-1.5zM127.3 133.3h1v0.5h-1zM128.8 133.3h1v0.5h-1zM133.3 133.3h1.5v0.5h-1.5zM136.3 133.3h1v0.5h-1zM139.3 133.3h1.5v0.5h-1.5zM150.8 133.3h1v0.5h-1zM159.8 133.3h1v0.5h-1zM166.3 133.3h2v0.5h-2zM168.8 133.3h2v0.5h-2zM125.3 133.8h1.5v0.5h-1.5zM127.3 133.8h5v0.5h-5zM133.3 133.8h1.5v0.5h-1.5zM136.3 133.8h1v0.5h-1zM138.8 133.8h2v0.5h-2zM141.8 133.8h1v0.5h-1zM150.8 133.8h1v0.5h-1zM152.8 133.8h1v0.5h-1zM155.3 133.8h1v0.5h-1zM157.3 133.8h1v0.5h-1zM165.3 133.8h6.5v0.5h-6.5zM125.8 134.3h1v0.5h-1zM127.8 134.3h1.5v0.5h-1.5zM129.8 134.3h2.5v0.5h-2.5zM133.8 134.3h2v0.5h-2zM136.3 134.3h1v0.5h-1zM138.8 134.3h1v0.5h-1zM140.3 134.3h1v0.5h-1zM141.8 134.3h1v0.5h-1zM151.3 134.3h1v0.5h-1zM152.8 134.3h2v0.5h-2zM155.3 134.3h1v0.5h-1zM157.3 134.3h1v0.5h-1zM161.8 134.3h1v0.5h-1zM165.3 134.3h4v0.5h-4zM170.8 134.3h1v0.5h-1zM124.8 134.8h1v0.5h-1zM127.8 134.8h1v0.5h-1zM129.3 134.8h1v0.5h-1zM131.3 134.8h4.5v0.5h-4.5zM136.3 134.8h1.5v0.5h-1.5zM140.3 134.8h1v0.5h-1zM146.8 134.8h1v0.5h-1zM151.3 134.8h1v0.5h-1zM153.3 134.8h1.5v0.5h-1.5zM155.3 134.8h1v0.5h-1zM157.8 134.8h1v0.5h-1zM161.8 134.8h1v0.5h-1zM163.8 134.8h1v0.5h-1zM166.3 134.8h3.5v0.5h-3.5zM123.8 135.3h2.5v0.5h-2.5zM129.3 135.3h9v0.5h-9zM139.3 135.3h1.5v0.5h-1.5zM144.3 135.3h1v0.5h-1zM146.8 135.3h1v0.5h-1zM154.8 135.3h2.5v0.5h-2.5zM157.8 135.3h1v0.5h-1zM163.8 135.3h1v0.5h-1zM165.8 135.3h4v0.5h-4zM182.8 135.3h1v0.5h-1zM123.3 135.8h4v0.5h-4zM127.8 135.8h9v0.5h-9zM137.3 135.8h1v0.5h-1zM139.3 135.8h1.5v0.5h-1.5zM142.3 135.8h1v0.5h-1zM144.3 135.8h1v0.5h-1zM146.3 135.8h1v0.5h-1zM149.3 135.8h1v0.5h-1zM154.8 135.8h1v0.5h-1zM156.3 135.8h1v0.5h-1zM165.8 135.8h4.5v0.5h-4.5zM182.8 135.8h1v0.5h-1zM123.3 136.3h2v0.5h-2zM125.8 136.3h7v0.5h-7zM133.3 136.3h3v0.5h-3zM136.8 136.3h1v0.5h-1zM139.8 136.3h1v0.5h-1zM141.3 136.3h3v0.5h-3zM146.3 136.3h2.5v0.5h-2.5zM149.3 136.3h1v0.5h-1zM150.8 136.3h1v0.5h-1zM155.3 136.3h1v0.5h-1zM159.3 136.3h1v0.5h-1zM161.3 136.3h1v0.5h-1zM163.3 136.3h1v0.5h-1zM165.8 136.3h3v0.5h-3zM169.3 136.3h1.5v0.5h-1.5zM123.8 136.8h14v0.5h-14zM139.8 136.8h1v0.5h-1zM141.3 136.8h3v0.5h-3zM146.8 136.8h2v0.5h-2zM149.8 136.8h3.5v0.5h-3.5zM155.3 136.8h1v0.5h-1zM159.3 136.8h1v0.5h-1zM161.3 136.8h1v0.5h-1zM163.3 136.8h1v0.5h-1zM165.3 136.8h2v0.5h-2zM167.8 136.8h1.5v0.5h-1.5zM169.8 136.8h2v0.5h-2zM122.8 137.3h15.5v0.5h-15.5zM140.3 137.3h2v0.5h-2zM142.8 137.3h1v0.5h-1zM147.8 137.3h1v0.5h-1zM149.3 137.3h1.5v0.5h-1.5zM151.3 137.3h2v0.5h-2zM156.3 137.3h1v0.5h-1zM165.3 137.3h6.5v0.5h-6.5zM122.8 137.8h15.5v0.5h-15.5zM138.8 137.8h1v0.5h-1zM140.3 137.8h3.5v0.5h-3.5zM147.8 137.8h1v0.5h-1zM149.3 137.8h1v0.5h-1zM150.8 137.8h2v0.5h-2zM154.8 137.8h1v0.5h-1zM156.3 137.8h1v0.5h-1zM160.3 137.8h1v0.5h-1zM161.8 137.8h1v0.5h-1zM163.8 137.8h1.5v0.5h-1.5zM166.3 137.8h4v0.5h-4zM122.8 138.3h20.5v0.5h-20.5zM148.8 138.3h1v0.5h-1zM150.8 138.3h2v0.5h-2zM154.8 138.3h1v0.5h-1zM160.3 138.3h1v0.5h-1zM161.8 138.3h1v0.5h-1zM163.8 138.3h2v0.5h-2zM166.3 138.3h4.5v0.5h-4.5zM180.8 138.3h1v0.5h-1zM122.8 138.8h1.5v0.5h-1.5zM124.8 138.8h18v0.5h-18zM146.3 138.8h1.5v0.5h-1.5zM148.8 138.8h1v0.5h-1zM164.8 138.8h6v0.5h-6zM175.8 138.8h1v0.5h-1zM180.8 138.8h1v0.5h-1zM122.8 139.3h20v0.5h-20zM143.8 139.3h1.5v0.5h-1.5zM146.3 139.3h1.5v0.5h-1.5zM157.3 139.3h1v0.5h-1zM161.8 139.3h8.5v0.5h-8.5zM171.3 139.3h1v0.5h-1zM175.8 139.3h1v0.5h-1zM122.8 139.8h17v0.5h-17zM140.3 139.8h2.5v0.5h-2.5zM143.3 139.8h2v0.5h-2zM145.8 139.8h1.5v0.5h-1.5zM157.3 139.8h2v0.5h-2zM161.8 139.8h5v0.5h-5zM167.3 139.8h5v0.5h-5zM173.8 139.8h1v0.5h-1zM122.8 140.3h24v0.5h-24zM158.3 140.3h1v0.5h-1zM164.8 140.3h7.5v0.5h-7.5zM173.8 140.3h1v0.5h-1zM175.8 140.3h1v0.5h-1zM122.8 140.8h23.5v0.5h-23.5zM147.3 140.8h1v0.5h-1zM155.3 140.8h1v0.5h-1zM158.3 140.8h1v0.5h-1zM163.3 140.8h1v0.5h-1zM165.3 140.8h7v0.5h-7zM175.8 140.8h1v0.5h-1zM122.8 141.3h26.5v0.5h-26.5zM155.3 141.3h1v0.5h-1zM160.3 141.3h1v0.5h-1zM163.3 141.3h1v0.5h-1zM164.8 141.3h7.5v0.5h-7.5zM122.8 141.8h18v0.5h-18zM141.8 141.8h5.5v0.5h-5.5zM148.3 141.8h1v0.5h-1zM158.8 141.8h1v0.5h-1zM160.3 141.8h1v0.5h-1zM162.8 141.8h8v0.5h-8zM171.3 141.8h1v0.5h-1zM122.8 142.3h22v0.5h-22zM145.3 142.3h2v0.5h-2zM158.8 142.3h1v0.5h-1zM161.3 142.3h1v0.5h-1zM162.8 142.3h7.5v0.5h-7.5zM171.3 142.3h1v0.5h-1zM172.8 142.3h1v0.5h-1zM122.8 142.8h26v0.5h-26zM151.3 142.8h1v0.5h-1zM159.3 142.8h1v0.5h-1zM161.3 142.8h1v0.5h-1zM162.8 142.8h8v0.5h-8zM171.3 142.8h2.5v0.5h-2.5zM176.3 142.8h1v0.5h-1zM122.8 143.3h26v0.5h-26zM150.8 143.3h1.5v0.5h-1.5zM159.3 143.3h1v0.5h-1zM161.8 143.3h2v0.5h-2zM165.3 143.3h2.5v0.5h-2.5zM168.8 143.3h2.5v0.5h-2.5zM171.8 143.3h2v0.5h-2zM176.3 143.3h1v0.5h-1zM122.8 143.8h27v0.5h-27zM150.8 143.8h1.5v0.5h-1.5zM154.8 143.8h1.5v0.5h-1.5zM161.8 143.8h1v0.5h-1zM163.3 143.8h1v0.5h-1zM164.8 143.8h3.5v0.5h-3.5zM168.8 143.8h3.5v0.5h-3.5zM178.8 143.8h1v0.5h-1zM184.3 143.8h1v0.5h-1zM122.8 144.3h27v0.5h-27zM151.3 144.3h1v0.5h-1zM154.8 144.3h1.5v0.5h-1.5zM156.8 144.3h1v0.5h-1zM163.3 144.3h1v0.5h-1zM164.8 144.3h7.5v0.5h-7.5zM178.8 144.3h1v0.5h-1zM184.3 144.3h1v0.5h-1zM122.8 144.8h24v0.5h-24zM147.8 144.8h1.5v0.5h-1.5zM153.3 144.8h1v0.5h-1zM154.8 144.8h1v0.5h-1zM156.8 144.8h1v0.5h-1zM163.3 144.8h8v0.5h-8zM122.8 145.3h20v0.5h-20zM143.3 145.3h6v0.5h-6zM151.3 145.3h1v0.5h-1zM153.3 145.3h1v0.5h-1zM156.8 145.3h1v0.5h-1zM163.3 145.3h2.5v0.5h-2.5zM166.3 145.3h5v0.5h-5zM122.8 145.8h26.5v0.5h-26.5zM150.8 145.8h1.5v0.5h-1.5zM153.3 145.8h1v0.5h-1zM156.8 145.8h1v0.5h-1zM160.3 145.8h1v0.5h-1zM163.3 145.8h8v0.5h-8zM122.8 146.3h26v0.5h-26zM150.8 146.3h1v0.5h-1zM152.3 146.3h1v0.5h-1zM156.8 146.3h1v0.5h-1zM160.3 146.3h1v0.5h-1zM162.8 146.3h8v0.5h-8zM122.8 146.8h26.5v0.5h-26.5zM150.3 146.8h1.5v0.5h-1.5zM152.3 146.8h1v0.5h-1zM155.3 146.8h2.5v0.5h-2.5zM162.8 146.8h1v0.5h-1zM164.3 146.8h7v0.5h-7zM172.3 146.8h1v0.5h-1zM122.8 147.3h26.5v0.5h-26.5zM150.3 147.3h2v0.5h-2zM155.3 147.3h1.5v0.5h-1.5zM164.8 147.3h7v0.5h-7zM172.3 147.3h1v0.5h-1zM122.8 147.8h29.5v0.5h-29.5zM152.8 147.8h2v0.5h-2zM155.8 147.8h1v0.5h-1zM164.8 147.8h5.5v0.5h-5.5zM170.8 147.8h1v0.5h-1zM122.8 148.3h29.5v0.5h-29.5zM152.8 148.3h2v0.5h-2zM156.3 148.3h1v0.5h-1zM157.8 148.3h1v0.5h-1zM159.3 148.3h1v0.5h-1zM161.8 148.3h2.5v0.5h-2.5zM164.8 148.3h6v0.5h-6zM173.8 148.3h1v0.5h-1zM122.8 148.8h28v0.5h-28zM151.3 148.8h1.5v0.5h-1.5zM156.3 148.8h1v0.5h-1zM157.8 148.8h1v0.5h-1zM159.3 148.8h12.5v0.5h-12.5zM173.8 148.8h1v0.5h-1zM122.8 149.3h25.5v0.5h-25.5zM148.8 149.3h2v0.5h-2zM151.3 149.3h1.5v0.5h-1.5zM153.3 149.3h1.5v0.5h-1.5zM157.3 149.3h1v0.5h-1zM159.8 149.3h2v0.5h-2zM162.8 149.3h2v0.5h-2zM165.3 149.3h2.5v0.5h-2.5zM168.3 149.3h1.5v0.5h-1.5zM170.3 149.3h1.5v0.5h-1.5zM172.3 149.3h1v0.5h-1zM122.8 149.8h29.5v0.5h-29.5zM152.8 149.8h2v0.5h-2zM157.3 149.8h2v0.5h-2zM162.8 149.8h9v0.5h-9zM172.3 149.8h1v0.5h-1zM122.8 150.3h29.5v0.5h-29.5zM152.8 150.3h1.5v0.5h-1.5zM155.3 150.3h1v0.5h-1zM157.8 150.3h1.5v0.5h-1.5zM160.3 150.3h1v0.5h-1zM162.3 150.3h1v0.5h-1zM164.3 150.3h9v0.5h-9zM122.8 150.8h27v0.5h-27zM150.3 150.8h1v0.5h-1zM155.3 150.8h3.5v0.5h-3.5zM160.3 150.8h1v0.5h-1zM162.3 150.8h1v0.5h-1zM163.8 150.8h6v0.5h-6zM170.3 150.8h2v0.5h-2zM122.8 151.3h28.5v0.5h-28.5zM154.3 151.3h1v0.5h-1zM155.8 151.3h2v0.5h-2zM158.8 151.3h1v0.5h-1zM163.3 151.3h6v0.5h-6zM170.3 151.3h2v0.5h-2zM174.3 151.3h1v0.5h-1zM122.8 151.8h27.5v0.5h-27.5zM151.3 151.8h1v0.5h-1zM154.3 151.8h1v0.5h-1zM156.3 151.8h1v0.5h-1zM158.8 151.8h1v0.5h-1zM163.3 151.8h1v0.5h-1zM165.3 151.8h3v0.5h-3zM169.3 151.8h3v0.5h-3zM174.3 151.8h1v0.5h-1zM122.8 152.3h26v0.5h-26zM149.3 152.3h1.5v0.5h-1.5zM151.3 152.3h1v0.5h-1zM153.3 152.3h1v0.5h-1zM156.3 152.3h1.5v0.5h-1.5zM162.3 152.3h1.5v0.5h-1.5zM164.3 152.3h8v0.5h-8zM122.8 152.8h28.5v0.5h-28.5zM152.3 152.8h2v0.5h-2zM155.3 152.8h2.5v0.5h-2.5zM162.3 152.8h1.5v0.5h-1.5zM164.3 152.8h6.5v0.5h-6.5zM171.3 152.8h1v0.5h-1zM122.8 153.3h29v0.5h-29zM152.3 153.3h1v0.5h-1zM155.3 153.3h1v0.5h-1zM160.3 153.3h1v0.5h-1zM163.3 153.3h1v0.5h-1zM164.8 153.3h2v0.5h-2zM167.3 153.3h1.5v0.5h-1.5zM169.8 153.3h1v0.5h-1zM122.8 153.8h29v0.5h-29zM160.3 153.8h1v0.5h-1zM163.3 153.8h1v0.5h-1zM164.8 153.8h4v0.5h-4zM172.8 153.8h1v0.5h-1zM176.8 153.8h1v0.5h-1zM122.8 154.3h28v0.5h-28zM151.3 154.3h2v0.5h-2zM157.8 154.3h1v0.5h-1zM162.8 154.3h1v0.5h-1zM164.3 154.3h1.5v0.5h-1.5zM166.8 154.3h3.5v0.5h-3.5zM172.8 154.3h1v0.5h-1zM176.3 154.3h1.5v0.5h-1.5zM122.8 154.8h30.5v0.5h-30.5zM156.3 154.8h3v0.5h-3zM162.3 154.8h4v0.5h-4zM167.3 154.8h4v0.5h-4zM176.3 154.8h1v0.5h-1zM122.8 155.3h29.5v0.5h-29.5zM154.8 155.3h1v0.5h-1zM156.3 155.3h1.5v0.5h-1.5zM158.3 155.3h2v0.5h-2zM162.3 155.3h2v0.5h-2zM164.8 155.3h2v0.5h-2zM168.3 155.3h3v0.5h-3zM176.3 155.3h1v0.5h-1zM122.8 155.8h29.5v0.5h-29.5zM154.8 155.8h3.5v0.5h-3.5zM159.3 155.8h1v0.5h-1zM164.3 155.8h1v0.5h-1zM165.8 155.8h1v0.5h-1zM167.3 155.8h2v0.5h-2zM176.3 155.8h1v0.5h-1zM122.8 156.3h27v0.5h-27zM151.3 156.3h1.5v0.5h-1.5zM155.8 156.3h4v0.5h-4zM163.8 156.3h1.5v0.5h-1.5zM166.8 156.3h1.5v0.5h-1.5zM170.3 156.3h1.5v0.5h-1.5zM122.8 156.8h27v0.5h-27zM151.8 156.8h1v0.5h-1zM157.8 156.8h2v0.5h-2zM163.8 156.8h8.5v0.5h-8.5zM180.3 156.8h1v0.5h-1zM122.8 157.3h27v0.5h-27zM151.3 157.3h1v0.5h-1zM164.8 157.3h6v0.5h-6zM171.3 157.3h1v0.5h-1zM180.3 157.3h1v0.5h-1zM122.8 157.8h23.5v0.5h-23.5zM147.3 157.8h1v0.5h-1zM151.3 157.8h1v0.5h-1z" fill="#000" stroke="none"/>
<rect x="74.40" y="35.60" width="21.20" height="19.20" fill="none" stroke="#555" stroke-width="0.8"/>
<rect x="74.30" y="103.90" width="21.50" height="19.00" fill="none" stroke="#555" stroke-width="0.8"/>
<rect x="158.30" y="38.50" width="20.50" height="19.80" fill="none" stroke="#555" stroke-width="0.8"/>
<rect x="158.40" y="106.50" width="20.10" height="19.50" fill="none" stroke="#555" stroke-width="0.8"/>
<text x="104.20" y="35.80" font-size="9" text-anchor="end" stroke="#000" stroke-width="0.25">42.1</text>
<text x="103.80" y="103.60" font-size="9" text-anchor="end" stroke="#000" stroke-width="0.25">4.18</text>
<text x="188.50" y="37.80" font-size="9" text-anchor="end" stroke="#000" stroke-width="0.25">7.87</text>
<text x="187.50" y="105.00" font-size="9" text-anchor="end" stroke="#000" stroke-width="0.25">4.39</text>
<text x="38.10" y="35.15" font-size="2.6" text-anchor="end" font-weight="normal" fill="#999">10</text>
<line x1="38.30" y1="34.15" x2="39.30" y2="34.15" stroke="#999" stroke-width="0.4"/>
<text x="38.10" y="51.50" font-size="2.6" text-anchor="end" font-weight="normal" fill="#999">10</text>
<line x1="38.30" y1="50.50" x2="39.30" y2="50.50" stroke="#999" stroke-width="0.4"/>
<text x="38.10" y="67.85" font-size="2.6" text-anchor="end" font-weight="normal" fill="#999">10</text>
<line x1="38.30" y1="66.85" x2="39.30" y2="66.85" stroke="#999" stroke-width="0.4"/>
<text x="38.10" y="82.89" font-size="2.6" text-anchor="end" font-weight="normal" fill="#999">10</text>
<line x1="38.30" y1="81.89" x2="39.30" y2="81.89" stroke="#999" stroke-width="0.4"/>
<text x="121.30" y="35.35" font-size="2.6" text-anchor="end" font-weight="normal" fill="#999">10</text>
<line x1="121.50" y1="34.35" x2="122.50" y2="34.35" stroke="#999" stroke-width="0.4"/>
<text x="121.30" y="51.70" font-size="2.6" text-anchor="end" font-weight="normal" fill="#999">10</text>
<line x1="121.50" y1="50.70" x2="122.50" y2="50.70" stroke="#999" stroke-width="0.4"/>
<text x="121.30" y="68.05" font-size="2.6" text-anchor="end" font-weight="normal" fill="#999">10</text>
<line x1="121.50" y1="67.05" x2="122.50" y2="67.05" stroke="#999" stroke-width="0.4"/>
<text x="121.30" y="83.09" font-size="2.6" text-anchor="end" font-weight="normal" fill="#999">10</text>
<line x1="121.50" y1="82.09" x2="122.50" y2="82.09" stroke="#999" stroke-width="0.4"/>
<text x="37.80" y="101.87" font-size="2.6" text-anchor="end" font-weight="normal" fill="#999">10</text>
<line x1="38.00" y1="100.87" x2="39.00" y2="100.87" stroke="#999" stroke-width="0.4"/>
<text x="37.80" y="118.47" font-size="2.6" text-anchor="end" font-weight="normal" fill="#999">10</text>
<line x1="38.00" y1="117.47" x2="39.00" y2="117.47" stroke="#999" stroke-width="0.4"/>
<text x="37.80" y="135.07" font-size="2.6" text-anchor="end" font-weight="normal" fill="#999">10</text>
<line x1="38.00" y1="134.07" x2="39.00" y2="134.07" stroke="#999" stroke-width="0.4"/>
<text x="37.80" y="150.34" font-size="2.6" text-anchor="end" font-weight="normal" fill="#999">10</text>
<line x1="38.00" y1="149.34" x2="39.00" y2="149.34" stroke="#999" stroke-width="0.4"/>
<line x1="46.86" y1="159.30" x2="46.86" y2="160.30" stroke="#999" stroke-width="0.4"/>
<text x="46.86" y="162.90" font-size="2.6" text-anchor="middle" font-weight="normal" fill="#999">10</text>
<line x1="52.10" y1="159.30" x2="52.10" y2="160.30" stroke="#999" stroke-width="0.4"/>
<text x="52.10" y="162.90" font-size="2.6" text-anchor="middle" font-weight="normal" fill="#999">10</text>
<line x1="66.51" y1="159.30" x2="66.51" y2="160.30" stroke="#999" stroke-width="0.4"/>
<text x="66.51" y="162.90" font-size="2.6" text-anchor="middle" font-weight="normal" fill="#999">10</text>
<line x1="83.54" y1="159.30" x2="83.54" y2="160.30" stroke="#999" stroke-width="0.4"/>
<text x="83.54" y="162.90" font-size="2.6" text-anchor="middle" font-weight="normal" fill="#999">10</text>
<line x1="97.95" y1="159.30" x2="97.95" y2="160.30" stroke="#999" stroke-width="0.4"/>
<text x="97.95" y="162.90" font-size="2.6" text-anchor="middle" font-weight="normal" fill="#999">10</text>
<text x="121.00" y="102.13" font-size="2.6" text-anchor="end" font-weight="normal" fill="#999">10</text>
<line x1="121.20" y1="101.13" x2="122.20" y2="101.13" stroke="#999" stroke-width="0.4"/>
<text x="121.00" y="118.66" font-size="2.6" text-anchor="end" font-weight="normal" fill="#999">10</text>
<line x1="121.20" y1="117.66" x2="122.20" y2="117.66" stroke="#999" stroke-width="0.4"/>
<text x="121.00" y="135.18" font-size="2.6" text-anchor="end" font-weight="normal" fill="#999">10</text>
<line x1="121.20" y1="134.18" x2="122.20" y2="134.18" stroke="#999" stroke-width="0.4"/>
<text x="121.00" y="150.38" font-size="2.6" text-anchor="end" font-weight="normal" fill="#999">10</text>
<line x1="121.20" y1="149.38" x2="122.20" y2="149.38" stroke="#999" stroke-width="0.4"/>
<line x1="130.16" y1="159.30" x2="130.16" y2="160.30" stroke="#999" stroke-width="0.4"/>
<text x="130.16" y="162.90" font-size="2.6" text-anchor="middle" font-weight="normal" fill="#999">10</text>
<line x1="135.46" y1="159.30" x2="135.46" y2="160.30" stroke="#999" stroke-width="0.4"/>
<text x="135.46" y="162.90" font-size="2.6" text-anchor="middle" font-weight="normal" fill="#999">10</text>
<line x1="150.05" y1="159.30" x2="150.05" y2="160.30" stroke="#999" stroke-width="0.4"/>
<text x="150.05" y="162.90" font-size="2.6" text-anchor="middle" font-weight="normal" fill="#999">10</text>
<line x1="167.28" y1="159.30" x2="167.28" y2="160.30" stroke="#999" stroke-width="0.4"/>
<text x="167.28" y="162.90" font-size="2.6" text-anchor="middle" font-weight="normal" fill="#999">10</text>
<line x1="181.87" y1="159.30" x2="181.87" y2="160.30" stroke="#999" stroke-width="0.4"/>
<text x="181.87" y="162.90" font-size="2.6" text-anchor="middle" font-weight="normal" fill="#999">10</text>
<line x1="29.50" y1="33.40" x2="29.50" y2="131.50" stroke="#000" stroke-width="1.45"/>
<path d="M26.30 37.80L29.50 33.20L32.70 37.80" fill="none" stroke="#000" stroke-width="1.45"/>
<line x1="112.50" y1="33.40" x2="112.50" y2="131.50" stroke="#000" stroke-width="1.45"/>
<path d="M109.30 37.80L112.50 33.20L115.70 37.80" fill="none" stroke="#000" stroke-width="1.45"/>
<text x="34.00" y="160.00" font-size="14.3" stroke="#000" stroke-width="0.25" transform="rotate(-90 34.00 160.00)" textLength="24.80" lengthAdjust="spacingAndGlyphs">CD4</text>
<text x="116.80" y="160.00" font-size="14.3" stroke="#000" stroke-width="0.25" transform="rotate(-90 116.80 160.00)" textLength="24.80" lengthAdjust="spacingAndGlyphs">CD8</text>
<text x="41.00" y="177.30" font-size="14" stroke="#000" stroke-width="0.25" textLength="27.20" lengthAdjust="spacingAndGlyphs">H2K</text>
<text x="68.80" y="173.10" font-size="9.4" stroke="#000" stroke-width="0.25" textLength="4.60" lengthAdjust="spacingAndGlyphs">b</text>
<line x1="76.50" y1="172.70" x2="186.50" y2="172.70" stroke="#000" stroke-width="1.45"/>
<path d="M182.10 169.50L186.70 172.70L182.10 175.90" fill="none" stroke="#000" stroke-width="1.45"/>
<rect x="209.50" y="27.50" width="64.00" height="65.00" fill="none" stroke="#ababab" stroke-width="1"/>
<rect x="277.50" y="27.50" width="66.00" height="65.00" fill="none" stroke="#ababab" stroke-width="1"/>
<rect x="209.50" y="95.50" width="64.00" height="65.00" fill="none" stroke="#ababab" stroke-width="1"/>
<rect x="277.50" y="95.50" width="66.00" height="65.00" fill="none" stroke="#ababab" stroke-width="1"/>
<text x="210.10" y="25.10" font-size="11.4" stroke="#000" stroke-width="0.25" textLength="62.40" lengthAdjust="spacingAndGlyphs">H2K<tspan dy="-3.08" font-size="7.07">b+</tspan><tspan dy="3.08" font-size="11.4">CD4</tspan><tspan dy="-3.08" font-size="7.07">+</tspan></text>
<text x="281.60" y="25.10" font-size="11.4" stroke="#000" stroke-width="0.25" textLength="63.10" lengthAdjust="spacingAndGlyphs">H2K<tspan dy="-3.08" font-size="7.07">b+</tspan><tspan dy="3.08" font-size="11.4">CD8</tspan><tspan dy="-3.08" font-size="7.07">+</tspan></text>
<path d="M209.8 91.6L210.0 91.6L210.1 91.7L210.3 91.7L210.4 91.6L210.6 91.5L210.8 91.6L210.9 91.6L211.1 91.6L211.2 91.6L211.4 91.6L211.5 91.7L211.7 91.6L211.9 91.7L212.0 91.5L212.2 91.6L212.3 91.7L212.5 91.7L212.7 91.5L212.8 91.6L213.0 91.6L213.1 91.7L213.3 91.6L213.4 91.6L213.6 91.5L213.8 91.7L213.9 91.5L214.1 91.5L214.2 91.5L214.4 91.6L214.6 91.6L214.7 91.7L214.9 91.6L215.0 91.7L215.2 91.7L215.4 91.6L215.5 91.7L215.7 91.6L215.8 91.5L216.0 91.7L216.1 91.5L216.3 91.5L216.5 91.7L216.6 91.6L216.8 91.6L216.9 91.6L217.1 91.6L217.3 91.5L217.4 91.6L217.6 91.7L217.7 91.6L217.9 91.6L218.0 91.5L218.2 91.6L218.4 91.7L218.5 91.6L218.7 91.6L218.8 91.6L219.0 91.7L219.2 91.6L219.3 91.5L219.5 91.7L219.6 91.7L219.8 91.5L220.0 91.5L220.1 91.7L220.3 91.5L220.4 91.6L220.6 91.6L220.7 91.6L220.9 91.6L221.1 91.5L221.2 91.6L221.4 91.5L221.5 91.6L221.7 91.5L221.9 91.6L222.0 91.6L222.2 91.6L222.3 91.7L222.5 91.5L222.7 91.7L222.8 91.5L223.0 91.7L223.1 91.6L223.3 91.5L223.4 91.6L223.6 91.7L223.8 91.5L223.9 91.6L224.1 91.6L224.2 91.6L224.4 91.5L224.6 91.7L224.7 91.6L224.9 91.6L225.0 91.6L225.2 91.5L225.3 91.6L225.5 91.7L225.7 91.7L225.8 91.7L226.0 91.6L226.1 91.5L226.3 91.7L226.5 91.7L226.6 91.7L226.8 91.6L226.9 91.6L227.1 91.6L227.3 91.7L227.4 91.5L227.6 91.6L227.7 91.5L227.9 91.7L228.0 91.6L228.2 91.6L228.4 91.5L228.5 91.6L228.7 91.6L228.8 91.7L229.0 91.5L229.2 91.5L229.3 91.5L229.5 91.5L229.6 91.5L229.8 91.6L229.9 91.6L230.1 91.5L230.3 91.5L230.4 91.5L230.6 91.4L230.7 91.4L230.9 91.3L231.1 91.3L231.2 91.4L231.4 91.2L231.5 91.2L231.7 91.2L231.9 91.0L232.0 90.9L232.2 90.8L232.3 90.7L232.5 90.5L232.6 90.2L232.8 90.0L233.0 89.8L233.1 89.3L233.3 89.2L233.4 88.7L233.6 88.5L233.8 87.7L233.9 87.4L234.1 86.8L234.2 85.9L234.4 85.3L234.5 84.5L234.7 83.2L234.9 82.3L235.0 81.6L235.2 81.0L235.3 79.5L235.5 78.1L235.7 77.6L235.8 74.5L236.0 73.6L236.1 72.0L236.3 69.3L236.5 67.8L236.6 66.3L236.8 65.8L236.9 62.4L237.1 60.3L237.2 59.9L237.4 55.4L237.6 53.8L237.7 55.3L237.9 50.3L238.0 50.3L238.2 44.3L238.4 42.7L238.5 44.1L238.7 41.9L238.8 38.3L239.0 37.6L239.1 32.5L239.3 33.1L239.5 34.6L239.6 32.1L239.8 37.5L239.9 32.1L240.1 31.0L240.3 33.4L240.4 34.8L240.6 32.6L240.7 30.3L240.9 35.0L241.1 38.7L241.2 34.8L241.4 42.8L241.5 39.9L241.7 43.8L241.8 43.2L242.0 48.3L242.2 47.2L242.3 51.1L242.5 56.2L242.6 58.7L242.8 58.6L243.0 59.1L243.1 62.6L243.3 64.6L243.4 67.0L243.6 68.0L243.8 70.2L243.9 71.9L244.1 74.4L244.2 74.6L244.4 76.1L244.5 78.8L244.7 78.5L244.9 80.4L245.0 81.9L245.2 83.5L245.3 83.6L245.5 84.6L245.7 85.6L245.8 86.5L246.0 86.6L246.1 87.5L246.3 88.1L246.4 88.1L246.6 88.5L246.8 89.1L246.9 89.6L247.1 89.8L247.2 90.2L247.4 90.4L247.6 90.5L247.7 90.7L247.9 90.8L248.0 90.9L248.2 91.1L248.4 91.1L248.5 91.1L248.7 91.4L248.8 91.3L249.0 91.4L249.1 91.5L249.3 91.5L249.5 91.5L249.6 91.5L249.8 91.5L249.9 91.6L250.1 91.6L250.3 91.6L250.4 91.5L250.6 91.6L250.7 91.6L250.9 91.6L251.0 91.6L251.2 91.6L251.4 91.7L251.5 91.5L251.7 91.7L251.8 91.6L252.0 91.6L252.2 91.5L252.3 91.7L252.5 91.6L252.6 91.5L252.8 91.7L253.0 91.6L253.1 91.6L253.3 91.5L253.4 91.7L253.6 91.6L253.7 91.6L253.9 91.6L254.1 91.6L254.2 91.5L254.4 91.5L254.5 91.7L254.7 91.6L254.9 91.6L255.0 91.7L255.2 91.7L255.3 91.6L255.5 91.5L255.6 91.6L255.8 91.7L256.0 91.6L256.1 91.6L256.3 91.7L256.4 91.7L256.6 91.5L256.8 91.7L256.9 91.6L257.1 91.6L257.2 91.5L257.4 91.6L257.6 91.7L257.7 91.7L257.9 91.7L258.0 91.7L258.2 91.6L258.3 91.6L258.5 91.6L258.7 91.6L258.8 91.7L259.0 91.6L259.1 91.5L259.3 91.5L259.5 91.6L259.6 91.7L259.8 91.6L259.9 91.7L260.1 91.6L260.2 91.5L260.4 91.5L260.6 91.6L260.7 91.6L260.9 91.6L261.0 91.6L261.2 91.6L261.4 91.6L261.5 91.6L261.7 91.7L261.8 91.6L262.0 91.6L262.2 91.7L262.3 91.7L262.5 91.6L262.6 91.6L262.8 91.5L262.9 91.6L263.1 91.6L263.3 91.6L263.4 91.7L263.6 91.6L263.7 91.6L263.9 91.6L264.1 91.7L264.2 91.7L264.4 91.6L264.5 91.7L264.7 91.6L264.9 91.6L265.0 91.6L265.2 91.7L265.3 91.5L265.5 91.7L265.6 91.5L265.8 91.6L266.0 91.5L266.1 91.6L266.3 91.6L266.4 91.6L266.6 91.5L266.8 91.6L266.9 91.6L267.1 91.7L267.2 91.7L267.4 91.6L267.5 91.6L267.7 91.5L267.9 91.7L268.0 91.6L268.2 91.7L268.3 91.6L268.5 91.6L268.7 91.5L268.8 91.7L269.0 91.7L269.1 91.6L269.3 91.6L269.5 91.7L269.6 91.6L269.8 91.5L269.9 91.6L270.1 91.5L270.2 91.6L270.4 91.6L270.6 91.5L270.7 91.6L270.9 91.7L271.0 91.6L271.2 91.5L271.4 91.6L271.5 91.6L271.7 91.6L271.8 91.6L272.0 91.7L272.1 91.6L272.3 91.5L272.5 91.7L272.6 91.6L272.8 91.7L272.9 91.6L273.1 91.5" fill="none" stroke="#555" stroke-width="0.65" stroke-linejoin="round"/>
<line x1="210.3" y1="91.9" x2="272.6" y2="91.9" stroke="#444" stroke-width="0.9" stroke-dasharray="2.2 0.8 1 0.6 3 1.1"/>
<path d="M277.9 91.5L278.1 91.5L278.2 91.7L278.4 91.7L278.6 91.6L278.7 91.6L278.9 91.6L279.0 91.6L279.2 91.6L279.4 91.5L279.5 91.7L279.7 91.6L279.9 91.7L280.0 91.7L280.2 91.7L280.4 91.7L280.5 91.5L280.7 91.6L280.8 91.6L281.0 91.6L281.2 91.7L281.3 91.7L281.5 91.7L281.7 91.5L281.8 91.6L282.0 91.6L282.1 91.6L282.3 91.6L282.5 91.6L282.6 91.6L282.8 91.6L283.0 91.6L283.1 91.6L283.3 91.6L283.5 91.6L283.6 91.5L283.8 91.5L283.9 91.7L284.1 91.6L284.3 91.7L284.4 91.6L284.6 91.5L284.8 91.6L284.9 91.6L285.1 91.7L285.3 91.5L285.4 91.6L285.6 91.6L285.7 91.5L285.9 91.7L286.1 91.7L286.2 91.5L286.4 91.7L286.6 91.7L286.7 91.6L286.9 91.6L287.1 91.6L287.2 91.7L287.4 91.6L287.5 91.6L287.7 91.6L287.9 91.7L288.0 91.7L288.2 91.6L288.4 91.5L288.5 91.7L288.7 91.6L288.8 91.5L289.0 91.6L289.2 91.6L289.3 91.6L289.5 91.7L289.7 91.6L289.8 91.6L290.0 91.5L290.2 91.5L290.3 91.5L290.5 91.6L290.6 91.5L290.8 91.5L291.0 91.6L291.1 91.6L291.3 91.7L291.5 91.7L291.6 91.6L291.8 91.7L292.0 91.6L292.1 91.7L292.3 91.6L292.4 91.5L292.6 91.5L292.8 91.6L292.9 91.6L293.1 91.6L293.3 91.6L293.4 91.5L293.6 91.7L293.8 91.6L293.9 91.7L294.1 91.7L294.2 91.6L294.4 91.5L294.6 91.5L294.7 91.7L294.9 91.6L295.1 91.5L295.2 91.6L295.4 91.6L295.5 91.5L295.7 91.5L295.9 91.7L296.0 91.6L296.2 91.7L296.4 91.7L296.5 91.6L296.7 91.6L296.9 91.5L297.0 91.6L297.2 91.7L297.3 91.6L297.5 91.6L297.7 91.7L297.8 91.5L298.0 91.6L298.2 91.6L298.3 91.5L298.5 91.6L298.7 91.4L298.8 91.5L299.0 91.5L299.1 91.3L299.3 91.3L299.5 91.2L299.6 91.1L299.8 91.0L300.0 91.1L300.1 90.8L300.3 90.8L300.5 90.6L300.6 90.3L300.8 90.1L300.9 89.7L301.1 89.2L301.3 89.0L301.4 88.6L301.6 88.1L301.8 87.6L301.9 86.6L302.1 85.8L302.2 85.2L302.4 84.2L302.6 83.2L302.7 82.0L302.9 81.5L303.1 79.7L303.2 77.9L303.4 76.9L303.6 75.1L303.7 73.6L303.9 71.3L304.0 68.3L304.2 67.3L304.4 64.9L304.5 61.6L304.7 59.6L304.9 55.7L305.0 58.4L305.2 51.9L305.4 51.6L305.5 48.2L305.7 44.9L305.8 42.0L306.0 40.0L306.2 39.7L306.3 35.0L306.5 37.2L306.7 35.4L306.8 32.2L307.0 34.1L307.2 28.6L307.3 29.2L307.5 28.6L307.6 31.1L307.8 32.1L308.0 31.2L308.1 30.4L308.3 34.2L308.5 33.2L308.6 35.3L308.8 33.4L308.9 39.6L309.1 37.9L309.3 43.0L309.4 45.5L309.6 47.0L309.8 49.8L309.9 49.8L310.1 50.8L310.3 54.2L310.4 55.9L310.6 56.7L310.7 60.6L310.9 62.7L311.1 65.2L311.2 68.3L311.4 68.0L311.6 71.8L311.7 71.5L311.9 73.6L312.1 74.3L312.2 76.5L312.4 78.1L312.5 78.7L312.7 80.2L312.9 80.9L313.0 81.7L313.2 82.6L313.4 83.3L313.5 84.1L313.7 84.6L313.8 85.5L314.0 85.3L314.2 85.7L314.3 85.4L314.5 85.4L314.7 86.1L314.8 85.5L315.0 85.4L315.2 85.2L315.3 84.5L315.5 84.5L315.6 84.4L315.8 83.8L316.0 83.5L316.1 83.2L316.3 83.4L316.5 82.8L316.6 82.9L316.8 83.7L317.0 83.7L317.1 84.0L317.3 84.4L317.4 84.3L317.6 85.1L317.8 85.8L317.9 85.9L318.1 86.0L318.3 85.9L318.4 86.4L318.6 86.5L318.8 86.6L318.9 86.7L319.1 86.2L319.2 86.7L319.4 86.4L319.6 86.4L319.7 86.3L319.9 86.5L320.1 86.1L320.2 86.4L320.4 86.5L320.5 86.8L320.7 86.9L320.9 86.7L321.0 87.0L321.2 87.2L321.4 87.2L321.5 87.3L321.7 87.5L321.9 87.4L322.0 87.5L322.2 87.4L322.3 87.1L322.5 86.9L322.7 87.0L322.8 86.9L323.0 86.6L323.2 86.4L323.3 86.8L323.5 86.7L323.7 86.8L323.8 86.8L324.0 87.4L324.1 87.4L324.3 87.6L324.5 88.2L324.6 88.2L324.8 88.4L325.0 88.8L325.1 88.8L325.3 89.0L325.5 88.6L325.6 88.1L325.8 88.1L325.9 87.2L326.1 87.1L326.3 86.5L326.4 86.2L326.6 86.4L326.8 85.8L326.9 85.5L327.1 85.7L327.2 85.9L327.4 85.7L327.6 86.2L327.7 86.7L327.9 86.8L328.1 86.7L328.2 87.0L328.4 86.5L328.6 86.0L328.7 85.9L328.9 85.5L329.0 84.9L329.2 83.8L329.4 82.9L329.5 82.4L329.7 82.1L329.9 82.3L330.0 82.1L330.2 82.6L330.4 83.0L330.5 83.6L330.7 84.2L330.8 84.3L331.0 84.6L331.2 84.7L331.3 84.3L331.5 84.5L331.7 83.7L331.8 83.9L332.0 84.2L332.2 83.4L332.3 83.3L332.5 83.1L332.6 81.8L332.8 81.8L333.0 82.0L333.1 79.8L333.3 79.9L333.5 78.6L333.6 79.5L333.8 80.2L333.9 79.8L334.1 81.7L334.3 82.4L334.4 83.3L334.6 85.2L334.8 86.5L334.9 87.5L335.1 88.5L335.3 89.4L335.4 90.0L335.6 90.4L335.7 90.9L335.9 91.1L336.1 91.3L336.2 91.5L336.4 91.5L336.6 91.6L336.7 91.5L336.9 91.6L337.1 91.5L337.2 91.5L337.4 91.7L337.5 91.5L337.7 91.7L337.9 91.7L338.0 91.6L338.2 91.6L338.4 91.6L338.5 91.7L338.7 91.6L338.9 91.5L339.0 91.5L339.2 91.6L339.3 91.6L339.5 91.6L339.7 91.6L339.8 91.5L340.0 91.6L340.2 91.6L340.3 91.6L340.5 91.6L340.6 91.6L340.8 91.7L341.0 91.6L341.1 91.7L341.3 91.6L341.5 91.6L341.6 91.7L341.8 91.6L342.0 91.6L342.1 91.6L342.3 91.5L342.4 91.7L342.6 91.7L342.8 91.6L342.9 91.6L343.1 91.5" fill="none" stroke="#555" stroke-width="0.65" stroke-linejoin="round"/>
<line x1="278.4" y1="91.9" x2="342.6" y2="91.9" stroke="#444" stroke-width="0.9" stroke-dasharray="2.2 0.8 1 0.6 3 1.1"/>
<path d="M209.8 160.1L210.0 160.0L210.1 160.0L210.3 160.2L210.4 160.1L210.6 160.2L210.8 160.1L210.9 160.0L211.1 160.2L211.2 160.1L211.4 160.1L211.5 160.1L211.7 160.0L211.9 160.2L212.0 160.2L212.2 160.1L212.3 160.0L212.5 160.0L212.7 160.1L212.8 160.0L213.0 160.1L213.1 160.0L213.3 160.2L213.4 160.1L213.6 160.0L213.8 160.0L213.9 160.1L214.1 160.2L214.2 160.1L214.4 160.0L214.6 160.1L214.7 160.2L214.9 160.2L215.0 160.1L215.2 160.0L215.4 160.1L215.5 160.2L215.7 160.0L215.8 160.1L216.0 160.1L216.1 160.1L216.3 160.1L216.5 160.0L216.6 160.1L216.8 160.1L216.9 160.1L217.1 160.1L217.3 160.0L217.4 160.2L217.6 160.0L217.7 160.0L217.9 160.1L218.0 160.2L218.2 160.1L218.4 160.1L218.5 160.2L218.7 160.2L218.8 160.1L219.0 160.0L219.2 160.1L219.3 160.1L219.5 160.1L219.6 160.1L219.8 160.1L220.0 160.1L220.1 160.2L220.3 160.0L220.4 160.2L220.6 160.0L220.7 160.1L220.9 160.0L221.1 160.1L221.2 160.1L221.4 160.1L221.5 160.2L221.7 160.1L221.9 160.1L222.0 160.1L222.2 160.0L222.3 160.0L222.5 160.1L222.7 160.1L222.8 160.2L223.0 160.1L223.1 160.2L223.3 160.1L223.4 160.0L223.6 160.2L223.8 160.0L223.9 160.1L224.1 160.2L224.2 160.0L224.4 160.1L224.6 160.0L224.7 160.1L224.9 160.1L225.0 160.2L225.2 160.2L225.3 160.1L225.5 160.1L225.7 160.2L225.8 160.2L226.0 160.1L226.1 160.2L226.3 160.2L226.5 160.1L226.6 160.2L226.8 160.1L226.9 160.0L227.1 160.2L227.3 160.1L227.4 160.1L227.6 160.0L227.7 160.0L227.9 160.1L228.0 160.0L228.2 159.9L228.4 159.9L228.5 160.0L228.7 159.8L228.8 159.7L229.0 159.7L229.2 159.7L229.3 159.4L229.5 159.4L229.6 159.2L229.8 158.9L229.9 158.6L230.1 158.3L230.3 158.2L230.4 157.8L230.6 157.3L230.7 157.1L230.9 156.5L231.1 156.0L231.2 155.8L231.4 155.2L231.5 155.0L231.7 154.0L231.9 152.8L232.0 152.9L232.2 151.6L232.3 151.0L232.5 150.8L232.6 150.3L232.8 149.7L233.0 149.6L233.1 149.0L233.3 148.4L233.4 147.7L233.6 147.4L233.8 148.0L233.9 147.1L234.1 147.7L234.2 147.5L234.4 147.3L234.5 147.4L234.7 147.7L234.9 147.7L235.0 148.2L235.2 148.3L235.3 148.2L235.5 148.0L235.7 148.6L235.8 148.0L236.0 148.8L236.1 150.4L236.3 149.4L236.5 148.6L236.6 149.5L236.8 149.7L236.9 150.0L237.1 149.1L237.2 149.3L237.4 149.7L237.6 149.7L237.7 149.5L237.9 149.9L238.0 150.7L238.2 150.0L238.4 150.3L238.5 150.7L238.7 150.4L238.8 150.9L239.0 151.9L239.1 150.7L239.3 150.8L239.5 151.4L239.6 151.6L239.8 151.6L239.9 152.2L240.1 151.8L240.3 152.2L240.4 152.4L240.6 152.7L240.7 152.8L240.9 152.4L241.1 152.6L241.2 152.9L241.4 153.4L241.5 153.8L241.7 153.6L241.8 153.6L242.0 154.5L242.2 154.1L242.3 155.1L242.5 154.9L242.6 155.1L242.8 155.7L243.0 156.0L243.1 155.9L243.3 156.1L243.4 156.4L243.6 156.4L243.8 156.8L243.9 156.7L244.1 157.1L244.2 157.3L244.4 157.4L244.5 157.5L244.7 157.4L244.9 157.5L245.0 157.8L245.2 158.0L245.3 158.0L245.5 158.1L245.7 158.0L245.8 158.1L246.0 158.1L246.1 158.3L246.3 158.3L246.4 158.5L246.6 158.5L246.8 158.6L246.9 158.7L247.1 158.8L247.2 158.9L247.4 159.0L247.6 159.2L247.7 159.3L247.9 159.3L248.0 159.5L248.2 159.5L248.4 159.7L248.5 159.7L248.7 159.7L248.8 159.8L249.0 159.8L249.1 159.8L249.3 159.8L249.5 159.8L249.6 159.7L249.8 159.7L249.9 159.7L250.1 159.6L250.3 159.5L250.4 159.5L250.6 159.3L250.7 159.3L250.9 159.2L251.0 159.0L251.2 159.0L251.4 158.9L251.5 158.9L251.7 158.7L251.8 158.8L252.0 158.4L252.2 158.6L252.3 158.5L252.5 158.5L252.6 158.6L252.8 158.4L253.0 158.5L253.1 158.5L253.3 158.8L253.4 158.6L253.6 158.6L253.7 158.8L253.9 158.7L254.1 159.0L254.2 158.9L254.4 158.8L254.5 158.8L254.7 158.8L254.9 158.8L255.0 158.7L255.2 158.8L255.3 158.9L255.5 158.8L255.6 158.8L255.8 158.8L256.0 158.8L256.1 158.7L256.3 158.7L256.4 158.9L256.6 159.0L256.8 159.1L256.9 159.1L257.1 159.4L257.2 159.4L257.4 159.4L257.6 159.6L257.7 159.7L257.9 159.7L258.0 159.6L258.2 159.6L258.3 159.7L258.5 159.7L258.7 159.6L258.8 159.4L259.0 159.2L259.1 159.0L259.3 158.6L259.5 158.1L259.6 157.6L259.8 157.1L259.9 156.3L260.1 155.5L260.2 154.1L260.4 153.5L260.6 151.8L260.7 149.6L260.9 148.5L261.0 146.1L261.2 143.0L261.4 141.0L261.5 136.8L261.7 134.2L261.8 128.6L262.0 125.1L262.2 122.1L262.3 114.0L262.5 112.5L262.6 109.0L262.8 107.0L262.9 103.7L263.1 101.3L263.3 100.0L263.4 98.2L263.6 104.9L263.7 105.1L263.9 105.2L264.1 111.1L264.2 114.9L264.4 117.9L264.5 124.5L264.7 129.1L264.9 134.3L265.0 137.1L265.2 141.6L265.3 146.1L265.5 148.5L265.6 151.6L265.8 153.0L266.0 154.9L266.1 156.3L266.3 157.4L266.4 158.3L266.6 158.6L266.8 159.2L266.9 159.5L267.1 159.6L267.2 159.8L267.4 159.9L267.5 159.9L267.7 160.1L267.9 160.0L268.0 160.1L268.2 160.2L268.3 160.2L268.5 160.0L268.7 160.2L268.8 160.0L269.0 160.1L269.1 160.0L269.3 160.1L269.5 160.1L269.6 160.0L269.8 160.2L269.9 160.1L270.1 160.1L270.2 160.1L270.4 160.1L270.6 160.2L270.7 160.0L270.9 160.0L271.0 160.1L271.2 160.0L271.4 160.2L271.5 160.1L271.7 160.0L271.8 160.2L272.0 160.1L272.1 160.1L272.3 160.0L272.5 160.0L272.6 160.2L272.8 160.1L272.9 160.1L273.1 160.1" fill="none" stroke="#555" stroke-width="0.65" stroke-linejoin="round"/>
<line x1="210.3" y1="160.4" x2="272.6" y2="160.4" stroke="#444" stroke-width="0.9" stroke-dasharray="2.2 0.8 1 0.6 3 1.1"/>
<path d="M277.9 160.1L278.1 160.1L278.2 160.2L278.4 160.1L278.6 160.0L278.7 160.2L278.9 160.2L279.0 160.1L279.2 160.2L279.4 160.0L279.5 160.0L279.7 160.0L279.9 160.1L280.0 160.0L280.2 160.1L280.4 160.1L280.5 160.2L280.7 160.2L280.8 160.1L281.0 160.2L281.2 160.0L281.3 160.1L281.5 160.1L281.7 160.0L281.8 160.1L282.0 160.2L282.1 160.2L282.3 160.1L282.5 160.2L282.6 160.1L282.8 160.1L283.0 160.1L283.1 160.1L283.3 160.2L283.5 160.1L283.6 160.0L283.8 160.2L283.9 160.0L284.1 160.0L284.3 160.1L284.4 160.1L284.6 160.1L284.8 160.2L284.9 160.1L285.1 160.0L285.3 160.1L285.4 160.1L285.6 160.1L285.7 160.0L285.9 160.2L286.1 160.2L286.2 160.0L286.4 160.1L286.6 160.0L286.7 160.1L286.9 160.2L287.1 160.1L287.2 160.1L287.4 160.2L287.5 160.1L287.7 160.0L287.9 160.2L288.0 160.2L288.2 160.2L288.4 160.1L288.5 160.0L288.7 160.2L288.8 160.0L289.0 160.2L289.2 160.1L289.3 160.0L289.5 160.2L289.7 160.1L289.8 160.0L290.0 160.1L290.2 160.0L290.3 160.1L290.5 160.0L290.6 160.1L290.8 160.0L291.0 160.2L291.1 160.1L291.3 160.2L291.5 160.1L291.6 160.1L291.8 160.2L292.0 160.1L292.1 160.1L292.3 160.1L292.4 160.2L292.6 160.1L292.8 160.1L292.9 160.1L293.1 160.1L293.3 160.2L293.4 160.0L293.6 160.1L293.8 160.1L293.9 160.0L294.1 160.1L294.2 160.2L294.4 160.1L294.6 160.1L294.7 160.1L294.9 160.1L295.1 160.1L295.2 160.2L295.4 160.0L295.5 160.1L295.7 160.1L295.9 160.1L296.0 160.1L296.2 160.0L296.4 160.1L296.5 160.2L296.7 160.1L296.9 160.1L297.0 160.1L297.2 160.2L297.3 160.0L297.5 160.2L297.7 160.1L297.8 160.1L298.0 160.1L298.2 160.1L298.3 160.2L298.5 160.1L298.7 160.1L298.8 160.1L299.0 160.2L299.1 160.2L299.3 160.1L299.5 160.1L299.6 160.1L299.8 160.2L300.0 160.1L300.1 160.0L300.3 160.0L300.5 160.0L300.6 160.2L300.8 160.1L300.9 160.0L301.1 160.0L301.3 160.0L301.4 159.9L301.6 159.9L301.8 160.0L301.9 159.8L302.1 159.8L302.2 159.7L302.4 159.7L302.6 159.5L302.7 159.4L302.9 159.4L303.1 159.1L303.2 159.1L303.4 158.7L303.6 158.5L303.7 158.3L303.9 157.8L304.0 157.3L304.2 156.6L304.4 156.1L304.5 155.9L304.7 155.2L304.9 154.0L305.0 153.6L305.2 152.6L305.4 151.9L305.5 149.6L305.7 149.0L305.8 148.8L306.0 147.0L306.2 145.8L306.3 146.9L306.5 144.9L306.7 144.0L306.8 142.8L307.0 142.5L307.2 142.1L307.3 141.5L307.5 139.8L307.6 139.3L307.8 140.9L308.0 141.1L308.1 138.3L308.3 141.0L308.5 140.7L308.6 140.3L308.8 140.0L308.9 139.9L309.1 140.6L309.3 141.8L309.4 141.2L309.6 141.9L309.8 141.3L309.9 143.0L310.1 144.6L310.3 144.9L310.4 144.1L310.6 146.0L310.7 147.5L310.9 147.4L311.1 147.8L311.2 148.0L311.4 149.5L311.6 149.5L311.7 149.9L311.9 150.9L312.1 151.3L312.2 150.9L312.4 151.4L312.5 151.9L312.7 152.4L312.9 152.3L313.0 152.8L313.2 153.0L313.4 153.5L313.5 153.2L313.7 153.5L313.8 152.8L314.0 153.8L314.2 153.5L314.3 153.7L314.5 154.1L314.7 154.1L314.8 154.9L315.0 154.7L315.2 154.7L315.3 155.4L315.5 155.4L315.6 155.3L315.8 155.6L316.0 155.8L316.1 156.0L316.3 156.1L316.5 156.0L316.6 156.2L316.8 156.3L317.0 156.3L317.1 156.2L317.3 156.2L317.4 156.3L317.6 156.2L317.8 156.3L317.9 156.5L318.1 156.4L318.3 156.2L318.4 156.3L318.6 156.4L318.8 156.5L318.9 156.2L319.1 156.2L319.2 156.3L319.4 156.2L319.6 156.2L319.7 156.1L319.9 156.0L320.1 156.0L320.2 155.8L320.4 155.7L320.5 155.8L320.7 155.7L320.9 155.5L321.0 155.7L321.2 155.4L321.4 155.2L321.5 155.4L321.7 155.6L321.9 155.1L322.0 155.3L322.2 155.2L322.3 155.5L322.5 154.9L322.7 155.3L322.8 155.4L323.0 155.6L323.2 155.4L323.3 155.5L323.5 155.5L323.7 155.6L323.8 155.1L324.0 155.1L324.1 155.0L324.3 154.8L324.5 155.0L324.6 154.3L324.8 154.3L325.0 154.2L325.1 154.3L325.3 154.6L325.5 154.2L325.6 154.8L325.8 155.1L325.9 155.3L326.1 155.3L326.3 155.1L326.4 155.0L326.6 154.7L326.8 153.3L326.9 152.8L327.1 151.0L327.2 150.4L327.4 150.1L327.6 150.0L327.7 149.7L327.9 150.5L328.1 151.9L328.2 152.8L328.4 153.9L328.6 155.3L328.7 156.0L328.9 155.8L329.0 155.3L329.2 153.9L329.4 152.3L329.5 150.6L329.7 147.8L329.9 147.6L330.0 145.6L330.2 142.7L330.4 143.3L330.5 143.8L330.7 144.5L330.8 144.4L331.0 145.3L331.2 145.1L331.3 144.7L331.5 141.9L331.7 139.3L331.8 135.5L332.0 131.1L332.2 125.4L332.3 120.7L332.5 113.5L332.6 112.9L332.8 106.7L333.0 99.3L333.1 101.2L333.3 97.9L333.5 98.7L333.6 100.2L333.8 104.7L333.9 112.7L334.1 115.2L334.3 120.6L334.4 127.4L334.6 131.1L334.8 136.8L334.9 141.4L335.1 144.1L335.3 147.8L335.4 151.0L335.6 153.4L335.7 155.1L335.9 156.5L336.1 157.7L336.2 158.4L336.4 159.1L336.6 159.3L336.7 159.7L336.9 159.8L337.1 159.9L337.2 160.1L337.4 160.1L337.5 160.1L337.7 160.0L337.9 160.1L338.0 160.0L338.2 160.1L338.4 160.1L338.5 160.2L338.7 160.1L338.9 160.0L339.0 160.2L339.2 160.0L339.3 160.0L339.5 160.2L339.7 160.1L339.8 160.1L340.0 160.1L340.2 160.0L340.3 160.1L340.5 160.1L340.6 160.0L340.8 160.1L341.0 160.2L341.1 160.0L341.3 160.2L341.5 160.0L341.6 160.0L341.8 160.1L342.0 160.2L342.1 160.1L342.3 160.1L342.4 160.0L342.6 160.0L342.8 160.2L342.9 160.2L343.1 160.0" fill="none" stroke="#555" stroke-width="0.65" stroke-linejoin="round"/>
<line x1="278.4" y1="160.4" x2="342.6" y2="160.4" stroke="#444" stroke-width="0.9" stroke-dasharray="2.2 0.8 1 0.6 3 1.1"/>
<line x1="220.30" y1="76.50" x2="254.60" y2="76.50" stroke="#2a2a2a" stroke-width="1.0"/>
<line x1="220.30" y1="74.80" x2="220.30" y2="78.20" stroke="#222" stroke-width="1.0"/>
<line x1="254.60" y1="74.80" x2="254.60" y2="78.20" stroke="#222" stroke-width="1.0"/>
<text x="210.50" y="70.50" font-size="8.9" stroke="#000" stroke-width="0.25" textLength="17.30" lengthAdjust="spacingAndGlyphs">98.4</text>
<line x1="288.40" y1="78.50" x2="325.00" y2="78.50" stroke="#2a2a2a" stroke-width="1.0"/>
<line x1="288.40" y1="76.80" x2="288.40" y2="80.20" stroke="#222" stroke-width="1.0"/>
<line x1="325.00" y1="76.80" x2="325.00" y2="80.20" stroke="#222" stroke-width="1.0"/>
<text x="278.80" y="72.70" font-size="8.9" stroke="#000" stroke-width="0.25" textLength="17.30" lengthAdjust="spacingAndGlyphs">85.8</text>
<line x1="220.00" y1="145.50" x2="254.80" y2="145.50" stroke="#2a2a2a" stroke-width="1.0"/>
<line x1="220.00" y1="143.80" x2="220.00" y2="147.20" stroke="#222" stroke-width="1.0"/>
<line x1="254.80" y1="143.80" x2="254.80" y2="147.20" stroke="#222" stroke-width="1.0"/>
<text x="210.40" y="138.70" font-size="8.9" stroke="#000" stroke-width="0.25" textLength="17.30" lengthAdjust="spacingAndGlyphs">41.1</text>
<line x1="288.60" y1="146.50" x2="324.80" y2="146.50" stroke="#2a2a2a" stroke-width="1.0"/>
<line x1="288.60" y1="144.80" x2="288.60" y2="148.20" stroke="#222" stroke-width="1.0"/>
<line x1="324.80" y1="144.80" x2="324.80" y2="148.20" stroke="#222" stroke-width="1.0"/>
<text x="278.30" y="141.40" font-size="8.9" stroke="#000" stroke-width="0.25" textLength="17.30" lengthAdjust="spacingAndGlyphs">47.7</text>
<text x="208.00" y="38.30" font-size="2.8" text-anchor="end" font-weight="normal" fill="#888">250</text>
<line x1="208.40" y1="37.30" x2="209.30" y2="37.30" stroke="#888" stroke-width="0.4"/>
<text x="208.00" y="49.20" font-size="2.8" text-anchor="end" font-weight="normal" fill="#888">200</text>
<line x1="208.40" y1="48.20" x2="209.30" y2="48.20" stroke="#888" stroke-width="0.4"/>
<text x="208.00" y="60.40" font-size="2.8" text-anchor="end" font-weight="normal" fill="#888">150</text>
<line x1="208.40" y1="59.40" x2="209.30" y2="59.40" stroke="#888" stroke-width="0.4"/>
<text x="208.00" y="71.50" font-size="2.8" text-anchor="end" font-weight="normal" fill="#888">100</text>
<line x1="208.40" y1="70.50" x2="209.30" y2="70.50" stroke="#888" stroke-width="0.4"/>
<text x="208.00" y="82.60" font-size="2.8" text-anchor="end" font-weight="normal" fill="#888">50</text>
<line x1="208.40" y1="81.60" x2="209.30" y2="81.60" stroke="#888" stroke-width="0.4"/>
<text x="208.00" y="93.30" font-size="2.8" text-anchor="end" font-weight="normal" fill="#888">0</text>
<line x1="208.40" y1="92.30" x2="209.30" y2="92.30" stroke="#888" stroke-width="0.4"/>
<text x="208.00" y="104.00" font-size="2.8" text-anchor="end" font-weight="normal" fill="#888">40</text>
<line x1="208.40" y1="103.00" x2="209.30" y2="103.00" stroke="#888" stroke-width="0.4"/>
<text x="208.00" y="118.40" font-size="2.8" text-anchor="end" font-weight="normal" fill="#888">30</text>
<line x1="208.40" y1="117.40" x2="209.30" y2="117.40" stroke="#888" stroke-width="0.4"/>
<text x="208.00" y="133.10" font-size="2.8" text-anchor="end" font-weight="normal" fill="#888">20</text>
<line x1="208.40" y1="132.10" x2="209.30" y2="132.10" stroke="#888" stroke-width="0.4"/>
<text x="208.00" y="147.50" font-size="2.8" text-anchor="end" font-weight="normal" fill="#888">10</text>
<line x1="208.40" y1="146.50" x2="209.30" y2="146.50" stroke="#888" stroke-width="0.4"/>
<text x="208.00" y="161.80" font-size="2.8" text-anchor="end" font-weight="normal" fill="#888">0</text>
<line x1="208.40" y1="160.80" x2="209.30" y2="160.80" stroke="#888" stroke-width="0.4"/>
<text x="216.50" y="164.40" font-size="2.8" text-anchor="middle" font-weight="normal" fill="#888">0</text>
<line x1="216.50" y1="160.80" x2="216.50" y2="161.90" stroke="#888" stroke-width="0.4"/>
<text x="222.70" y="164.40" font-size="2.8" text-anchor="middle" font-weight="normal" fill="#888">10</text>
<line x1="222.70" y1="160.80" x2="222.70" y2="161.90" stroke="#888" stroke-width="0.4"/>
<text x="239.00" y="164.40" font-size="2.8" text-anchor="middle" font-weight="normal" fill="#888">10</text>
<line x1="239.00" y1="160.80" x2="239.00" y2="161.90" stroke="#888" stroke-width="0.4"/>
<text x="254.40" y="164.40" font-size="2.8" text-anchor="middle" font-weight="normal" fill="#888">10</text>
<line x1="254.40" y1="160.80" x2="254.40" y2="161.90" stroke="#888" stroke-width="0.4"/>
<text x="268.80" y="164.40" font-size="2.8" text-anchor="middle" font-weight="normal" fill="#888">10</text>
<line x1="268.80" y1="160.80" x2="268.80" y2="161.90" stroke="#888" stroke-width="0.4"/>
<text x="284.10" y="164.40" font-size="2.8" text-anchor="middle" font-weight="normal" fill="#888">0</text>
<line x1="284.10" y1="160.80" x2="284.10" y2="161.90" stroke="#888" stroke-width="0.4"/>
<text x="290.30" y="164.40" font-size="2.8" text-anchor="middle" font-weight="normal" fill="#888">10</text>
<line x1="290.30" y1="160.80" x2="290.30" y2="161.90" stroke="#888" stroke-width="0.4"/>
<text x="306.60" y="164.40" font-size="2.8" text-anchor="middle" font-weight="normal" fill="#888">10</text>
<line x1="306.60" y1="160.80" x2="306.60" y2="161.90" stroke="#888" stroke-width="0.4"/>
<text x="322.00" y="164.40" font-size="2.8" text-anchor="middle" font-weight="normal" fill="#888">10</text>
<line x1="322.00" y1="160.80" x2="322.00" y2="161.90" stroke="#888" stroke-width="0.4"/>
<text x="336.40" y="164.40" font-size="2.8" text-anchor="middle" font-weight="normal" fill="#888">10</text>
<line x1="336.40" y1="160.80" x2="336.40" y2="161.90" stroke="#888" stroke-width="0.4"/>
<line x1="276.00" y1="27.00" x2="276.00" y2="160.50" stroke="#bbb" stroke-width="1.2"/>
<text x="211.00" y="178.20" font-size="13.5" stroke="#000" stroke-width="0.25" textLength="35.20" lengthAdjust="spacingAndGlyphs">CFSE</text>
<line x1="248.70" y1="172.20" x2="342.20" y2="172.20" stroke="#000" stroke-width="1.45"/>
<path d="M337.80 169.00L342.40 172.20L337.80 175.40" fill="none" stroke="#000" stroke-width="1.45"/>
<rect x="379.50" y="26.50" width="65.00" height="65.00" fill="none" stroke="#ababab" stroke-width="1"/>
<rect x="447.50" y="26.50" width="67.00" height="65.00" fill="none" stroke="#ababab" stroke-width="1"/>
<rect x="379.50" y="92.50" width="66.00" height="68.00" fill="none" stroke="#ababab" stroke-width="1"/>
<rect x="448.50" y="93.50" width="66.00" height="67.00" fill="none" stroke="#ababab" stroke-width="1"/>
<text x="379.20" y="24.80" font-size="11.4" stroke="#000" stroke-width="0.25" textLength="62.50" lengthAdjust="spacingAndGlyphs">H2K<tspan dy="-3.08" font-size="7.07">b+</tspan><tspan dy="3.08" font-size="11.4">CD4</tspan><tspan dy="-3.08" font-size="7.07">+</tspan></text>
<text x="451.20" y="24.80" font-size="11.4" stroke="#000" stroke-width="0.25" textLength="64.00" lengthAdjust="spacingAndGlyphs">H2K<tspan dy="-3.08" font-size="7.07">b+</tspan><tspan dy="3.08" font-size="11.4">CD8</tspan><tspan dy="-3.08" font-size="7.07">+</tspan></text>
<path d="M410.2 39.1L411.1 39.0L411.8 39.1L412.6 39.2L413.6 39.5L414.1 39.7L414.7 40.1L415.4 40.6L415.9 41.1L416.4 41.6L416.8 42.1L417.2 42.6L417.6 43.3L417.9 44.1L418.1 44.7L418.3 45.6L418.5 46.6L418.6 47.6L418.6 48.1L418.7 49.1L418.8 50.1L418.8 51.1L418.9 52.1L418.9 53.1L419.0 54.1L419.1 54.8L419.3 55.6L419.6 56.4L419.9 57.1L420.1 58.0L420.3 58.6L420.4 59.6L420.4 60.6L420.4 61.6L420.2 62.6L420.1 63.2L419.9 64.1L419.6 65.1L419.5 65.6L419.3 66.6L419.2 67.6L419.1 68.5L419.1 69.1L419.0 70.1L419.0 71.1L418.9 72.1L418.8 73.1L418.6 74.1L418.5 74.6L418.3 75.6L418.1 76.6L418.0 77.1L417.8 78.1L417.6 78.9L417.4 79.6L417.1 80.3L416.7 81.1L416.3 81.6L416.0 82.1L415.5 82.6L414.9 83.1L414.3 83.6L413.6 84.0L413.1 84.3L412.3 84.6L411.6 84.9L410.6 85.0L409.6 85.0L408.6 84.8L407.9 84.6L407.1 84.2L406.6 83.9L406.1 83.6L405.5 83.1L405.0 82.6L404.6 82.1L404.1 81.4L403.6 80.6L403.4 80.1L403.1 79.3L402.8 78.6L402.6 77.6L402.5 77.1L402.3 76.1L402.2 75.1L402.1 74.5L402.0 73.6L401.9 72.6L401.9 71.6L401.9 70.6L401.9 69.6L401.8 68.6L401.8 67.6L401.9 66.6L401.9 65.6L402.0 64.6L402.1 63.6L402.2 63.1L402.3 62.1L402.4 61.1L402.5 60.1L402.6 59.1L402.6 58.6L402.7 57.6L402.8 56.6L402.9 55.6L403.0 54.6L403.1 53.6L403.1 52.8L403.1 52.1L403.2 51.1L403.3 50.1L403.4 49.1L403.5 48.1L403.6 47.5L403.8 46.6L404.0 45.6L404.2 45.1L404.5 44.1L404.8 43.6L405.1 42.9L405.6 42.2L406.0 41.6L406.5 41.1L407.0 40.6L407.6 40.1L408.1 39.8L408.6 39.6L409.6 39.2L410.2 39.1Z" fill="#ffffff" stroke="#7d7d7d" stroke-width="0.45" fill-rule="evenodd" stroke-linejoin="round"/>
<path d="M409.2 41.1L410.1 40.8L411.1 40.7L412.1 40.8L413.0 41.1L413.6 41.4L414.1 41.7L414.6 42.1L415.1 42.6L415.6 43.2L416.1 44.0L416.4 44.6L416.6 45.1L417.0 46.1L417.1 46.7L417.2 47.6L417.3 48.6L417.4 49.6L417.5 50.6L417.5 51.6L417.5 52.6L417.5 53.6L417.6 54.5L417.7 55.1L418.0 56.1L418.2 56.6L418.5 57.6L418.7 58.1L419.0 59.1L419.1 60.1L419.1 60.6L419.1 61.1L418.9 62.1L418.7 63.1L418.6 63.7L418.4 64.6L418.2 65.6L418.1 66.6L418.1 67.1L418.0 68.1L417.9 69.1L417.8 70.1L417.8 71.1L417.7 72.1L417.6 72.7L417.5 73.6L417.2 74.6L417.1 75.2L416.9 76.1L416.7 77.1L416.6 77.6L416.3 78.6L416.1 79.1L415.6 80.1L415.3 80.6L414.9 81.1L414.4 81.6L413.8 82.1L413.1 82.6L412.6 82.8L411.8 83.1L411.1 83.3L410.1 83.4L409.1 83.3L408.5 83.1L407.6 82.7L407.1 82.4L406.6 82.1L406.1 81.6L405.6 81.1L405.1 80.3L404.7 79.6L404.5 79.1L404.1 78.1L404.0 77.6L403.7 76.6L403.6 76.0L403.4 75.1L403.3 74.1L403.2 73.1L403.1 72.1L403.1 71.1L403.1 70.1L403.1 69.6L403.1 68.6L403.1 67.6L403.1 66.6L403.1 66.1L403.2 65.1L403.3 64.1L403.4 63.1L403.6 62.1L403.7 61.6L403.8 60.6L403.8 59.6L403.9 58.6L404.0 57.6L404.1 56.6L404.1 56.1L404.2 55.1L404.3 54.1L404.4 53.1L404.5 52.1L404.6 51.1L404.7 50.6L404.8 49.6L404.9 48.6L405.1 47.6L405.2 47.1L405.4 46.1L405.6 45.6L406.0 44.6L406.2 44.1L406.6 43.5L407.1 42.8L407.6 42.2L408.1 41.8L408.6 41.4L409.2 41.1Z" fill="#f5f5f5" stroke="#828282" stroke-width="0.45" fill-rule="evenodd" stroke-linejoin="round"/>
<path d="M409.4 42.6L410.1 42.3L411.1 42.2L412.1 42.3L412.8 42.6L413.6 43.1L414.1 43.6L414.5 44.1L414.9 44.6L415.2 45.1L415.6 45.9L415.8 46.6L416.1 47.6L416.2 48.1L416.3 49.1L416.4 50.1L416.5 51.1L416.4 52.1L416.4 53.1L416.5 54.1L416.6 55.1L416.7 55.6L416.9 56.6L417.1 57.2L417.4 58.1L417.6 58.9L417.7 59.6L417.8 60.6L417.7 61.6L417.6 62.4L417.5 63.1L417.4 64.1L417.3 65.1L417.2 66.1L417.1 67.1L417.1 67.6L417.0 68.6L416.9 69.6L416.9 70.6L416.8 71.6L416.7 72.6L416.6 73.1L416.3 74.1L416.1 75.1L416.0 75.6L415.7 76.6L415.6 77.1L415.3 78.1L415.1 78.6L414.6 79.5L414.2 80.1L413.7 80.6L413.1 81.1L412.6 81.4L412.1 81.6L411.1 81.9L410.1 82.0L409.1 81.9L408.2 81.6L407.6 81.3L407.1 80.9L406.6 80.4L406.1 79.7L405.8 79.1L405.5 78.6L405.1 77.6L404.9 77.1L404.6 76.1L404.5 75.6L404.3 74.6L404.2 73.6L404.1 72.7L404.1 72.1L404.0 71.1L404.0 70.1L404.0 69.1L404.0 68.1L404.0 67.1L404.1 66.1L404.1 65.6L404.2 64.6L404.3 63.6L404.5 62.6L404.6 62.1L404.8 61.1L404.8 60.1L404.9 59.1L404.9 58.1L405.0 57.1L405.1 56.5L405.2 55.6L405.3 54.6L405.3 53.6L405.5 52.6L405.6 51.8L405.7 51.1L405.9 50.1L406.0 49.1L406.1 48.6L406.3 47.6L406.5 46.6L406.7 46.1L407.1 45.2L407.4 44.6L407.7 44.1L408.1 43.6L408.6 43.1L409.4 42.6Z" fill="#e5e5e5" stroke="#7d7d7d" stroke-width="0.45" fill-rule="evenodd" stroke-linejoin="round"/>
<path d="M409.7 44.1L410.6 43.7L411.6 43.7L412.5 44.1L413.1 44.5L413.6 45.1L414.0 45.6L414.3 46.1L414.6 46.7L415.0 47.6L415.1 48.1L415.3 49.1L415.4 50.1L415.5 51.1L415.5 52.1L415.5 53.1L415.5 54.1L415.6 55.1L415.7 55.6L415.9 56.6L416.1 57.6L416.2 58.1L416.4 59.1L416.5 60.1L416.5 61.1L416.5 62.1L416.4 63.1L416.4 64.1L416.4 65.1L416.3 66.1L416.3 67.1L416.2 68.1L416.1 69.1L416.1 69.6L416.1 70.6L416.0 71.6L415.8 72.6L415.6 73.4L415.4 74.1L415.2 75.1L415.1 75.6L414.7 76.6L414.6 77.1L414.1 78.1L413.8 78.6L413.5 79.1L413.0 79.6L412.3 80.1L411.6 80.4L411.1 80.6L410.1 80.7L409.1 80.6L408.6 80.4L408.1 80.1L407.5 79.6L407.1 79.1L406.6 78.4L406.2 77.6L405.9 77.1L405.6 76.2L405.4 75.6L405.2 74.6L405.1 74.1L405.0 73.1L404.9 72.1L404.9 71.1L404.9 70.1L404.8 69.1L404.9 68.1L404.9 67.1L405.0 66.1L405.1 65.1L405.1 64.6L405.2 63.6L405.4 62.6L405.6 61.8L405.7 61.1L405.8 60.1L405.8 59.1L405.9 58.1L406.0 57.1L406.1 56.1L406.1 55.6L406.2 54.6L406.3 53.6L406.5 52.6L406.6 51.9L406.8 51.1L406.9 50.1L407.1 49.1L407.2 48.6L407.4 47.6L407.6 46.9L408.0 46.1L408.2 45.6L408.6 45.1L409.1 44.6L409.7 44.1Z" fill="#cdcdcd" stroke="#6e6e6e" stroke-width="0.45" fill-rule="evenodd" stroke-linejoin="round"/>
<path d="M410.1 45.6L410.6 45.4L411.6 45.3L412.2 45.6L412.8 46.1L413.2 46.6L413.6 47.3L413.9 48.1L414.1 48.6L414.3 49.6L414.5 50.6L414.5 51.6L414.6 52.6L414.6 53.6L414.6 54.2L414.7 55.1L414.9 56.1L415.0 57.1L415.1 57.6L415.2 58.6L415.4 59.6L415.4 60.6L415.5 61.6L415.5 62.6L415.6 63.6L415.6 64.6L415.6 65.6L415.5 66.6L415.4 67.6L415.4 68.6L415.4 69.6L415.3 70.6L415.2 71.6L415.1 72.2L414.9 73.1L414.6 74.1L414.5 74.6L414.2 75.6L414.0 76.1L413.6 76.9L413.2 77.6L412.8 78.1L412.3 78.6L411.6 79.1L411.1 79.3L410.1 79.4L409.1 79.2L408.6 78.9L408.1 78.5L407.6 78.0L407.1 77.3L406.7 76.6L406.5 76.1L406.1 75.1L406.0 74.6L405.8 73.6L405.7 72.6L405.6 71.7L405.6 71.1L405.6 70.1L405.6 69.1L405.6 68.6L405.7 67.6L405.7 66.6L405.8 65.6L405.9 64.6L406.1 63.6L406.1 63.1L406.3 62.1L406.5 61.1L406.6 60.1L406.6 59.6L406.7 58.6L406.8 57.6L406.9 56.6L407.0 55.6L407.1 54.7L407.2 54.1L407.3 53.1L407.6 52.1L407.7 51.6L407.9 50.6L408.0 49.6L408.1 49.1L408.3 48.1L408.6 47.4L409.0 46.6L409.4 46.1L410.1 45.6Z" fill="#ababab" stroke="#5a5a5a" stroke-width="0.45" fill-rule="evenodd" stroke-linejoin="round"/>
<path d="M410.6 47.1L411.1 47.0L411.6 47.1L412.2 47.6L412.6 48.2L412.9 49.1L413.1 49.7L413.3 50.6L413.4 51.6L413.5 52.6L413.5 53.6L413.6 54.3L413.7 55.1L413.9 56.1L414.1 57.1L414.2 57.6L414.3 58.6L414.4 59.6L414.5 60.6L414.6 61.6L414.6 62.1L414.7 63.1L414.8 64.1L414.8 65.1L414.8 66.1L414.7 67.1L414.7 68.1L414.6 69.1L414.6 70.1L414.6 70.7L414.5 71.6L414.2 72.6L414.1 73.1L413.8 74.1L413.6 74.7L413.2 75.6L413.0 76.1L412.6 76.7L412.1 77.3L411.6 77.7L410.7 78.1L410.1 78.1L409.6 78.0L408.8 77.6L408.2 77.1L407.8 76.6L407.5 76.1L407.1 75.4L406.8 74.6L406.6 73.9L406.4 73.1L406.3 72.1L406.3 71.1L406.3 70.1L406.3 69.1L406.4 68.1L406.5 67.1L406.6 66.1L406.6 65.6L406.7 64.6L406.8 63.6L407.0 62.6L407.1 62.1L407.3 61.1L407.4 60.1L407.5 59.1L407.6 58.1L407.7 57.6L407.9 56.6L408.0 55.6L408.1 55.0L408.2 54.1L408.5 53.1L408.6 52.6L408.9 51.6L409.0 50.6L409.1 50.1L409.3 49.1L409.6 48.1L409.9 47.6L410.6 47.1Z" fill="#828282" stroke="#414141" stroke-width="0.45" fill-rule="evenodd" stroke-linejoin="round"/>
<path d="M410.6 53.1L411.1 52.7L411.6 53.1L412.0 54.1L412.2 54.6L412.6 55.6L412.7 56.1L413.0 57.1L413.2 57.6L413.3 58.6L413.5 59.6L413.6 60.3L413.7 61.1L413.8 62.1L413.9 63.1L414.0 64.1L414.0 65.1L414.0 66.1L414.0 67.1L413.9 68.1L413.9 69.1L413.9 70.1L413.8 71.1L413.6 72.1L413.4 72.6L413.1 73.6L412.9 74.1L412.6 74.8L412.1 75.6L411.7 76.1L411.1 76.6L410.6 76.8L409.6 76.7L409.1 76.4L408.6 76.0L408.1 75.3L407.7 74.6L407.5 74.1L407.2 73.1L407.1 72.4L407.0 71.6L407.0 70.6L407.0 69.6L407.1 68.6L407.1 68.1L407.2 67.1L407.4 66.1L407.4 65.1L407.5 64.1L407.6 63.4L407.7 62.6L407.9 61.6L408.1 60.6L408.2 60.1L408.4 59.1L408.6 58.1L408.7 57.6L409.0 56.6L409.2 56.1L409.5 55.1L409.7 54.6L410.1 53.8L410.6 53.1Z" fill="#555555" stroke="#282828" stroke-width="0.45" fill-rule="evenodd" stroke-linejoin="round"/>
<path d="M410.4 57.6L411.1 57.4L411.6 57.7L412.1 58.5L412.3 59.1L412.6 60.1L412.7 60.6L412.8 61.6L413.0 62.6L413.1 63.3L413.2 64.1L413.3 65.1L413.3 66.1L413.2 67.1L413.2 68.1L413.2 69.1L413.2 70.1L413.1 70.8L412.9 71.6L412.6 72.5L412.4 73.1L412.1 73.6L411.6 74.4L411.1 74.9L410.6 75.2L409.6 75.1L409.1 74.7L408.6 74.1L408.3 73.6L408.1 73.1L407.8 72.1L407.7 71.1L407.7 70.1L407.8 69.1L407.9 68.1L408.0 67.1L408.1 66.4L408.2 65.6L408.2 64.6L408.3 63.6L408.5 62.6L408.6 62.1L408.9 61.1L409.1 60.2L409.3 59.6L409.6 58.7L409.9 58.1L410.4 57.6Z" fill="#282828" stroke="#141414" stroke-width="0.45" fill-rule="evenodd" stroke-linejoin="round"/>
<path d="M410.4 62.1L411.0 62.1L411.5 62.6L411.8 63.1L412.1 64.0L412.2 64.6L412.3 65.6L412.3 66.6L412.2 67.6L412.2 68.6L412.2 69.6L412.1 70.5L411.9 71.1L411.6 71.8L411.1 72.5L410.6 72.8L409.6 72.7L409.1 72.1L408.9 71.6L408.7 70.6L408.7 69.6L408.8 68.6L409.0 67.6L409.1 66.7L409.2 66.1L409.2 65.1L409.3 64.1L409.6 63.1L409.9 62.6L410.4 62.1Z" fill="#cdcdcd" stroke="#141414" stroke-width="0.45" fill-rule="evenodd" stroke-linejoin="round"/>
<path d="M474.5 39.6L475.3 39.5L476.3 39.4L477.3 39.5L478.0 39.6L478.8 39.7L479.8 40.1L480.3 40.3L481.0 40.6L481.8 41.1L482.3 41.4L482.8 41.8L483.3 42.3L483.8 42.9L484.3 43.5L484.7 44.1L484.9 44.6L485.3 45.5L485.5 46.1L485.8 47.1L485.9 47.6L486.2 48.6L486.3 49.2L486.5 50.1L486.7 51.1L486.8 51.9L486.9 52.6L487.1 53.6L487.2 54.6L487.3 55.3L487.4 56.1L487.6 57.1L487.8 57.7L488.1 58.6L488.3 59.1L488.8 60.0L489.2 60.6L489.6 61.1L490.1 61.6L490.6 62.1L491.0 62.6L491.4 63.1L491.8 63.8L492.2 64.6L492.5 65.1L492.8 65.9L493.1 66.6L493.3 67.1L493.8 68.0L494.3 68.6L494.8 69.1L495.3 69.5L495.8 69.7L496.8 69.8L497.5 69.6L498.3 69.2L498.8 68.9L499.8 68.7L500.8 69.0L501.3 69.3L501.8 69.6L502.5 70.1L503.3 70.6L503.9 70.1L504.1 69.1L504.3 68.5L504.4 67.6L504.7 66.6L504.8 66.1L505.1 65.1L505.5 64.6L506.0 64.6L506.3 65.1L506.6 66.1L506.8 66.9L506.9 67.6L507.1 68.6L507.1 69.6L507.2 70.6L507.3 71.6L507.3 72.6L507.3 73.1L507.3 73.8L507.3 74.6L507.2 75.6L507.2 76.6L507.0 77.6L506.8 78.6L506.7 79.1L506.5 80.1L506.3 80.7L505.8 81.3L505.3 80.8L505.0 80.1L504.8 79.3L504.6 78.6L504.4 77.6L504.2 77.1L503.8 76.1L503.3 76.0L502.8 76.2L502.1 76.6L501.3 76.9L500.3 77.0L499.3 76.9L498.3 76.7L497.6 76.6L497.1 76.6L496.3 76.7L495.3 77.0L494.8 77.3L494.2 77.6L493.4 78.1L492.8 78.6L492.3 79.0L491.8 79.4L491.3 79.8L490.8 80.1L490.0 80.6L489.3 81.0L488.8 81.2L488.2 81.6L487.4 82.1L486.8 82.5L486.3 82.9L485.8 83.2L484.9 83.6L484.3 83.9L483.8 84.1L482.8 84.5L482.3 84.7L481.3 85.0L480.3 85.1L479.3 85.1L478.3 85.1L477.3 85.0L476.3 84.8L475.3 84.6L474.8 84.5L473.8 84.3L473.0 84.1L472.3 83.9L471.3 83.6L470.8 83.5L469.8 83.2L469.3 83.0L468.3 82.7L467.8 82.6L466.8 82.3L466.3 82.1L465.3 81.6L464.8 81.4L464.3 81.0L463.7 80.6L463.2 80.1L462.8 79.6L462.3 79.0L461.8 78.2L461.5 77.6L461.3 77.1L461.0 76.1L461.0 75.1L461.1 74.1L461.3 73.5L461.7 72.6L462.0 72.1L462.4 71.6L463.0 71.1L463.8 70.6L464.3 70.4L465.0 70.1L465.8 69.7L466.3 69.4L466.8 69.1L467.3 68.5L467.8 67.6L467.9 67.1L468.0 66.1L468.1 65.1L468.1 64.1L468.1 63.1L468.0 62.1L468.0 61.1L467.9 60.1L467.8 59.1L467.8 58.6L467.6 57.6L467.6 56.6L467.5 55.6L467.5 54.6L467.4 53.6L467.5 52.6L467.5 51.6L467.6 50.6L467.6 49.6L467.7 48.6L467.8 47.6L467.8 47.1L468.0 46.1L468.3 45.1L468.5 44.6L468.8 44.1L469.3 43.4L469.8 42.7L470.3 42.2L470.8 41.7L471.3 41.2L471.8 40.8L472.3 40.5L473.0 40.1L473.8 39.8L474.5 39.6ZM499.1 60.6L499.8 60.2L500.7 60.6L500.9 61.1L501.0 62.1L500.8 62.8L500.3 63.5L499.3 63.4L498.8 62.7L498.6 62.1L498.7 61.1L499.1 60.6Z" fill="#ffffff" stroke="#888888" stroke-width="0.45" fill-rule="evenodd" stroke-linejoin="round"/>
<path d="M474.0 41.6L474.8 41.4L475.8 41.3L476.8 41.3L477.8 41.3L478.8 41.6L479.3 41.8L480.0 42.1L480.8 42.6L481.3 42.9L481.8 43.3L482.3 43.8L482.8 44.4L483.3 45.1L483.5 45.6L483.8 46.3L484.1 47.1L484.3 47.8L484.5 48.6L484.8 49.5L485.0 50.1L485.2 51.1L485.3 51.8L485.4 52.6L485.6 53.6L485.8 54.6L485.8 55.1L486.0 56.1L486.1 57.1L486.3 58.1L486.4 58.6L486.6 59.6L486.7 60.6L486.9 61.1L487.2 62.1L487.3 62.6L487.8 63.6L488.1 64.1L488.6 64.6L489.1 65.1L489.7 65.6L490.2 66.1L490.5 66.6L490.8 67.1L491.3 68.1L491.5 68.6L491.8 69.2L492.2 70.1L492.4 70.6L492.8 71.5L493.0 72.1L493.2 73.1L493.1 74.1L492.8 74.8L492.3 75.6L491.9 76.1L491.5 76.6L491.1 77.1L490.6 77.6L490.1 78.1L489.5 78.6L488.8 79.1L488.3 79.4L487.8 79.7L487.3 80.1L486.6 80.6L486.0 81.1L485.3 81.6L484.8 82.0L484.3 82.2L483.5 82.6L482.8 82.9L482.3 83.1L481.3 83.4L480.3 83.6L479.3 83.6L478.3 83.5L477.3 83.4L476.3 83.2L475.7 83.1L474.8 82.9L473.8 82.6L473.3 82.5L472.3 82.1L471.8 82.0L470.8 81.7L470.3 81.5L469.3 81.3L468.8 81.1L467.8 80.7L467.3 80.4L466.7 80.1L465.8 79.6L465.3 79.2L464.8 78.8L464.3 78.2L463.9 77.6L463.6 77.1L463.3 76.5L463.0 75.6L463.0 74.6L463.2 73.6L463.4 73.1L463.8 72.6L464.4 72.1L465.3 71.6L465.8 71.4L466.4 71.1L467.3 70.7L467.8 70.4L468.3 70.1L468.8 69.5L469.2 68.6L469.4 68.1L469.5 67.1L469.6 66.1L469.6 65.1L469.6 64.1L469.5 63.1L469.5 62.1L469.4 61.1L469.4 60.1L469.3 59.1L469.3 58.6L469.2 57.6L469.1 56.6L469.1 55.6L469.0 54.6L469.0 53.6L469.0 52.6L469.1 51.6L469.2 50.6L469.3 50.1L469.4 49.1L469.5 48.1L469.6 47.1L469.8 46.1L470.0 45.6L470.3 44.9L470.8 44.2L471.3 43.6L471.7 43.1L472.3 42.6L472.8 42.2L473.3 41.9L474.0 41.6ZM505.8 67.6L505.8 67.6L506.3 68.6L506.4 69.1L506.5 70.1L506.6 71.1L506.7 72.1L506.7 73.1L506.7 74.1L506.6 75.1L506.5 76.1L506.3 77.1L506.1 77.6L505.8 78.1L505.4 77.6L505.2 77.1L505.0 76.1L504.8 75.3L504.7 74.6L504.6 73.6L504.6 72.6L504.7 71.6L504.8 71.1L505.0 70.1L505.1 69.1L505.3 68.3L505.8 67.6Z" fill="#f7f7f7" stroke="#8d8d8d" stroke-width="0.45" fill-rule="evenodd" stroke-linejoin="round"/>
<path d="M474.3 43.1L474.8 42.9L475.8 42.8L476.8 42.7L477.8 42.8L478.7 43.1L479.3 43.4L479.8 43.6L480.5 44.1L481.1 44.6L481.6 45.1L481.9 45.6L482.3 46.2L482.7 47.1L482.9 47.6L483.2 48.6L483.4 49.1L483.7 50.1L483.8 50.7L484.0 51.6L484.2 52.6L484.3 53.3L484.5 54.1L484.7 55.1L484.8 55.9L484.9 56.6L485.1 57.6L485.2 58.6L485.3 59.3L485.4 60.1L485.5 61.1L485.7 62.1L485.8 62.6L486.1 63.6L486.3 64.2L486.7 65.1L486.9 65.6L487.3 66.3L487.8 66.9L488.3 67.6L488.7 68.1L489.0 68.6L489.3 69.3L489.6 70.1L489.9 70.6L490.3 71.5L490.5 72.1L490.7 73.1L490.6 74.1L490.3 74.8L489.8 75.6L489.4 76.1L488.9 76.6L488.4 77.1L487.9 77.6L487.3 78.1L486.8 78.6L486.3 79.0L485.8 79.5L485.3 80.0L484.8 80.4L484.3 80.8L483.8 81.1L482.8 81.6L482.3 81.8L481.5 82.1L480.8 82.3L479.8 82.4L478.8 82.4L477.8 82.3L477.0 82.1L476.3 81.9L475.3 81.7L474.8 81.5L473.8 81.3L473.2 81.1L472.3 80.8L471.6 80.6L470.8 80.3L470.1 80.1L469.3 79.7L468.8 79.5L468.1 79.1L467.5 78.6L466.9 78.1L466.4 77.6L466.0 77.1L465.6 76.6L465.3 76.0L465.0 75.1L465.0 74.1L465.3 73.5L465.8 73.0L466.3 72.6L467.3 72.1L467.8 72.0L468.6 71.6L469.3 71.2L469.8 70.7L470.1 70.1L470.3 69.6L470.6 68.6L470.8 67.6L470.8 67.1L470.8 66.1L470.8 65.1L470.8 64.6L470.7 63.6L470.6 62.6L470.6 61.6L470.6 60.6L470.5 59.6L470.4 58.6L470.4 57.6L470.3 56.6L470.3 55.7L470.3 55.1L470.3 54.1L470.2 53.1L470.3 52.1L470.4 51.6L470.6 50.6L470.8 49.6L470.8 49.1L470.9 48.1L471.0 47.1L471.3 46.2L471.6 45.6L471.9 45.1L472.3 44.6L472.8 44.0L473.3 43.6L474.3 43.1ZM505.8 72.1L505.8 72.1L505.9 73.1L505.9 74.1L505.7 74.1L505.6 73.1L505.8 72.1Z" fill="#eaeaea" stroke="#888888" stroke-width="0.45" fill-rule="evenodd" stroke-linejoin="round"/>
<path d="M476.2 44.1L476.8 44.1L477.3 44.2L478.3 44.4L478.8 44.7L479.5 45.1L480.1 45.6L480.6 46.1L481.0 46.6L481.3 47.2L481.7 48.1L481.9 48.6L482.3 49.6L482.4 50.1L482.6 51.1L482.8 52.0L482.9 52.6L483.1 53.6L483.3 54.2L483.6 55.1L483.8 56.1L483.9 56.6L484.1 57.6L484.2 58.6L484.3 59.1L484.4 60.1L484.5 61.1L484.6 62.1L484.8 63.1L484.9 63.6L485.2 64.6L485.3 65.1L485.6 66.1L485.8 66.7L486.1 67.6L486.3 68.1L486.6 69.1L486.7 70.1L486.9 70.6L487.3 71.4L487.8 72.0L488.2 72.6L488.4 73.1L488.3 74.1L488.1 74.6L487.8 75.1L487.3 75.8L486.8 76.4L486.3 76.9L485.8 77.5L485.3 78.1L484.9 78.6L484.4 79.1L483.9 79.6L483.3 80.0L482.8 80.4L482.3 80.6L481.3 81.1L480.8 81.2L479.8 81.4L478.8 81.4L477.8 81.2L477.3 81.1L476.3 80.8L475.6 80.6L474.8 80.4L473.8 80.1L473.3 79.9L472.4 79.6L471.8 79.3L471.3 79.0L470.6 78.6L469.9 78.1L469.3 77.6L468.8 77.1L468.3 76.6L468.0 76.1L467.7 75.6L467.4 74.6L467.8 74.0L468.3 73.6L469.3 73.1L469.8 72.8L470.3 72.4L470.8 71.7L471.1 71.1L471.3 70.6L471.6 69.6L471.8 68.7L471.9 68.1L472.0 67.1L472.0 66.1L471.9 65.1L471.8 64.2L471.7 63.6L471.6 62.6L471.6 61.6L471.6 60.6L471.6 59.6L471.5 58.6L471.4 57.6L471.4 56.6L471.3 55.6L471.3 54.7L471.3 54.1L471.3 53.3L471.4 52.6L471.5 51.6L471.8 50.6L471.9 50.1L472.1 49.1L472.2 48.1L472.3 47.4L472.5 46.6L472.8 46.1L473.3 45.4L473.8 45.0L474.4 44.6L475.3 44.2L476.2 44.1Z" fill="#d7d7d7" stroke="#7b7b7b" stroke-width="0.45" fill-rule="evenodd" stroke-linejoin="round"/>
<path d="M475.5 45.6L476.3 45.5L476.9 45.6L477.8 46.0L478.3 46.3L478.8 46.7L479.3 47.1L479.8 47.7L480.3 48.4L480.7 49.1L481.0 49.6L481.3 50.5L481.5 51.1L481.6 52.1L481.8 53.0L482.0 53.6L482.3 54.6L482.4 55.1L482.7 56.1L482.9 56.6L483.1 57.6L483.3 58.5L483.4 59.1L483.5 60.1L483.5 61.1L483.6 62.1L483.8 63.1L483.9 63.6L484.2 64.6L484.3 65.4L484.4 66.1L484.6 67.1L484.8 67.9L484.9 68.6L485.1 69.6L485.2 70.6L485.3 71.1L485.8 72.1L486.0 72.6L486.3 73.2L486.4 74.1L486.2 74.6L485.8 75.4L485.3 76.1L484.9 76.6L484.5 77.1L484.1 77.6L483.7 78.1L483.2 78.6L482.7 79.1L482.0 79.6L481.3 80.0L480.8 80.2L479.8 80.4L478.8 80.4L477.8 80.3L477.2 80.1L476.3 79.8L475.8 79.6L474.8 79.2L474.3 79.0L473.5 78.6L472.8 78.1L472.4 77.6L472.0 77.1L471.7 76.6L471.3 75.9L471.1 75.1L471.3 74.2L471.6 73.6L471.8 73.1L472.2 72.1L472.3 71.6L472.5 70.6L472.7 69.6L472.8 69.1L472.9 68.1L473.0 67.1L473.0 66.1L473.0 65.1L472.8 64.1L472.8 63.6L472.6 62.6L472.6 61.6L472.6 60.6L472.5 59.6L472.5 58.6L472.4 57.6L472.3 56.7L472.3 56.1L472.2 55.1L472.2 54.1L472.3 53.1L472.4 52.6L472.7 51.6L472.9 51.1L473.1 50.1L473.3 49.1L473.4 48.6L473.5 47.6L473.8 47.0L474.3 46.3L474.8 45.9L475.5 45.6Z" fill="#bbbbbb" stroke="#686868" stroke-width="0.45" fill-rule="evenodd" stroke-linejoin="round"/>
<path d="M475.6 47.6L476.3 47.4L476.8 47.6L477.7 48.1L478.3 48.5L478.8 48.8L479.3 49.3L479.8 50.0L480.1 50.6L480.3 51.1L480.6 52.1L480.7 53.1L480.8 53.6L481.1 54.6L481.3 55.4L481.5 56.1L481.8 56.9L482.1 57.6L482.3 58.4L482.4 59.1L482.5 60.1L482.5 61.1L482.5 62.1L482.8 63.1L482.9 63.6L483.2 64.6L483.3 65.6L483.3 66.1L483.4 67.1L483.6 68.1L483.8 68.9L484.0 69.6L484.1 70.6L484.3 71.6L484.4 72.1L484.7 73.1L484.8 73.6L484.8 74.1L484.4 75.1L484.1 75.6L483.8 76.1L483.3 76.7L482.8 77.3L482.3 77.8L481.8 78.3L481.3 78.6L480.4 79.1L479.8 79.3L478.8 79.4L477.8 79.2L477.3 79.1L476.3 78.6L475.8 78.3L475.3 78.0L474.8 77.6L474.3 77.1L473.8 76.2L473.6 75.6L473.4 74.6L473.3 73.6L473.4 72.6L473.5 71.6L473.6 70.6L473.8 69.6L473.8 69.1L473.9 68.1L474.0 67.1L474.1 66.1L474.0 65.1L473.9 64.1L473.8 63.4L473.7 62.6L473.6 61.6L473.5 60.6L473.5 59.6L473.4 58.6L473.3 57.6L473.3 57.1L473.2 56.1L473.1 55.1L473.1 54.1L473.3 53.3L473.5 52.6L473.8 51.9L474.2 51.1L474.3 50.6L474.6 49.6L474.8 48.9L475.1 48.1L475.6 47.6Z" fill="#9b9b9b" stroke="#525252" stroke-width="0.45" fill-rule="evenodd" stroke-linejoin="round"/>
<path d="M476.3 50.1L476.8 49.8L477.8 49.9L478.3 50.2L478.8 50.7L479.3 51.6L479.4 52.1L479.6 53.1L479.8 53.9L480.0 54.6L480.2 55.6L480.3 56.1L480.7 57.1L480.9 57.6L481.3 58.6L481.4 59.1L481.5 60.1L481.4 61.1L481.5 62.1L481.8 63.1L481.9 63.6L482.2 64.6L482.3 65.6L482.3 66.6L482.3 67.1L482.5 68.1L482.8 69.1L483.0 69.6L483.2 70.6L483.3 71.6L483.4 72.1L483.5 73.1L483.4 74.1L483.2 74.6L482.8 75.3L482.3 75.8L481.8 76.3L481.3 76.8L480.8 77.2L480.1 77.6L479.3 77.9L478.3 78.0L477.3 77.6L476.8 77.3L476.3 77.0L475.8 76.5L475.3 75.9L474.9 75.1L474.7 74.6L474.6 73.6L474.6 72.6L474.6 71.6L474.7 70.6L474.8 69.6L474.8 69.1L475.0 68.1L475.1 67.1L475.1 66.1L475.1 65.1L475.0 64.1L474.9 63.1L474.8 62.5L474.7 61.6L474.5 60.6L474.4 59.6L474.3 58.7L474.3 58.1L474.2 57.1L474.1 56.1L474.1 55.1L474.2 54.1L474.3 53.6L474.7 52.6L475.0 52.1L475.3 51.5L475.8 50.7L476.3 50.1Z" fill="#777777" stroke="#3b3b3b" stroke-width="0.45" fill-rule="evenodd" stroke-linejoin="round"/>
<path d="M476.7 52.6L477.3 52.4L477.8 52.9L478.1 53.6L478.3 54.1L478.8 55.1L478.9 55.6L479.3 56.6L479.5 57.1L479.8 57.8L480.1 58.6L480.3 59.2L480.4 60.1L480.4 61.1L480.4 62.1L480.7 63.1L480.9 63.6L481.2 64.6L481.3 65.1L481.4 66.1L481.4 67.1L481.6 68.1L481.8 68.9L482.1 69.6L482.3 70.6L482.4 71.1L482.4 72.1L482.3 73.1L482.1 73.6L481.8 74.2L481.3 74.7L480.8 75.1L480.0 75.6L479.3 75.9L478.4 76.1L478.2 76.1L477.3 75.9L476.8 75.6L476.3 75.1L475.8 74.2L475.6 73.6L475.5 72.6L475.6 71.6L475.6 70.6L475.8 69.6L475.9 69.1L476.1 68.1L476.2 67.1L476.2 66.1L476.2 65.1L476.2 64.1L476.2 63.1L476.0 62.1L475.8 61.5L475.6 60.6L475.4 59.6L475.3 58.9L475.3 58.1L475.3 57.1L475.3 56.1L475.3 55.6L475.5 54.6L475.8 53.8L476.3 53.1L476.7 52.6Z" fill="#535353" stroke="#292929" stroke-width="0.45" fill-rule="evenodd" stroke-linejoin="round"/>
<path d="M478.7 63.6L478.9 63.6L479.6 64.1L479.9 64.6L480.2 65.6L480.2 66.6L480.3 67.6L480.4 68.1L480.7 69.1L480.9 69.6L481.2 70.6L481.2 71.6L480.8 72.6L480.4 73.1L479.8 73.5L479.3 73.7L478.3 73.8L477.5 73.6L477.1 73.1L476.8 72.1L476.8 71.6L476.8 71.1L477.0 70.1L477.3 69.2L477.5 68.6L477.6 67.6L477.6 66.6L477.6 65.6L477.8 64.6L478.1 64.1L478.7 63.6Z" fill="#d7d7d7" stroke="#292929" stroke-width="0.45" fill-rule="evenodd" stroke-linejoin="round"/>
<path d="M393.6 159.5L393.2 159.5L392.7 159.4L392.4 158.9L392.1 158.4L391.7 157.4L391.5 156.9L391.3 155.9L391.3 154.9L391.3 153.9L391.4 152.9L391.6 152.1L391.8 151.4L392.1 150.4L392.3 149.9L392.6 149.2L393.0 148.4L393.2 147.9L393.6 147.3L394.1 146.4L394.3 145.9L394.6 145.4L395.1 144.5L395.4 143.9L395.7 143.4L396.1 142.8L396.6 141.9L396.9 141.4L397.2 140.9L397.6 140.1L398.0 139.4L398.3 138.9L398.6 138.3L399.1 137.5L399.4 136.9L399.6 136.4L400.1 135.4L400.3 134.9L400.6 134.2L400.9 133.4L401.1 132.9L401.3 131.9L401.4 130.9L401.5 129.9L401.5 128.9L401.6 128.3L401.7 127.4L401.8 126.4L402.0 125.4L402.1 124.9L402.3 123.9L402.5 122.9L402.6 122.4L402.8 121.4L403.0 120.4L403.1 119.9L403.5 118.9L403.7 118.4L404.1 117.7L404.6 117.0L405.1 116.5L405.6 116.0L406.1 115.6L406.6 115.3L407.4 114.9L408.1 114.7L409.1 114.5L410.1 114.5L411.1 114.6L411.9 114.9L412.6 115.2L413.1 115.6L413.6 116.1L414.1 116.9L414.4 117.4L414.6 117.9L415.0 118.9L415.2 119.4L415.4 120.4L415.5 121.4L415.6 122.4L415.6 123.4L415.6 124.4L415.5 125.4L415.6 126.4L415.6 127.4L415.5 128.4L415.5 129.4L415.6 130.4L415.7 130.9L415.9 131.9L416.1 132.7L416.3 133.4L416.6 134.3L416.8 134.9L417.1 135.7L417.4 136.4L417.6 136.9L418.1 137.7L418.6 138.4L419.1 138.8L419.6 139.3L420.1 139.9L420.4 140.4L420.6 141.4L420.3 142.4L420.1 142.9L419.6 143.5L419.1 144.0L418.4 144.4L417.6 144.7L417.1 144.9L416.1 145.4L415.6 145.7L415.1 146.0L414.6 146.5L414.1 147.0L413.6 147.7L413.1 148.4L412.8 148.9L412.5 149.4L412.1 150.1L411.6 150.9L411.3 151.4L410.9 151.9L410.6 152.4L410.1 153.1L409.6 153.9L409.3 154.4L409.0 154.9L408.6 155.5L408.1 156.2L407.6 156.9L407.2 157.4L406.8 157.9L406.3 158.4L405.8 158.9L405.2 159.4L404.6 159.5L404.1 159.5Z" fill="#ffffff" stroke="#939393" stroke-width="0.45" fill-rule="evenodd" stroke-linejoin="round"/>
<path d="M396.6 159.5L396.1 159.5L395.6 159.5L395.0 159.4L394.5 158.9L394.1 158.4L393.6 157.7L393.2 156.9L393.1 156.4L392.9 155.4L392.8 154.4L392.8 153.4L393.0 152.4L393.1 151.9L393.4 150.9L393.6 150.4L394.0 149.4L394.2 148.9L394.6 148.1L395.0 147.4L395.2 146.9L395.6 146.2L396.1 145.4L396.3 144.9L396.6 144.4L397.1 143.6L397.5 142.9L397.8 142.4L398.1 141.9L398.6 141.0L398.9 140.4L399.2 139.9L399.6 139.3L400.1 138.5L400.5 137.9L400.8 137.4L401.1 136.8L401.6 135.9L401.8 135.4L402.1 134.9L402.6 134.0L402.9 133.4L403.1 132.9L403.4 131.9L403.5 130.9L403.6 130.3L403.7 129.4L403.9 128.4L404.1 127.6L404.2 126.9L404.4 125.9L404.6 124.9L404.7 124.4L404.8 123.4L404.9 122.4L405.0 121.4L405.1 120.9L405.4 119.9L405.7 119.4L406.1 118.8L406.6 118.2L407.1 117.8L407.7 117.4L408.6 117.1L409.6 116.9L410.6 117.1L411.3 117.4L412.0 117.9L412.4 118.4L412.7 118.9L413.1 119.9L413.2 120.4L413.4 121.4L413.4 122.4L413.4 123.4L413.4 124.4L413.3 125.4L413.3 126.4L413.3 127.4L413.3 128.4L413.3 129.4L413.4 130.4L413.6 131.2L413.8 131.9L414.1 132.6L414.4 133.4L414.7 133.9L415.1 134.9L415.2 135.4L415.5 136.4L415.7 136.9L415.9 137.9L416.1 138.9L416.2 139.4L416.3 140.4L416.1 141.4L416.0 141.9L415.6 142.6L415.1 143.3L414.6 143.9L414.2 144.4L413.9 144.9L413.5 145.4L413.1 145.9L412.6 146.7L412.2 147.4L411.9 147.9L411.6 148.4L411.1 149.3L410.8 149.9L410.4 150.4L410.1 150.9L409.6 151.6L409.1 152.3L408.7 152.9L408.4 153.4L408.1 153.9L407.6 154.7L407.1 155.4L406.8 155.9L406.4 156.4L406.0 156.9L405.5 157.4L404.9 157.9L404.3 158.4L403.7 158.9L403.1 159.3L402.6 159.5L402.1 159.5L401.1 159.5Z" fill="#f8f8f8" stroke="#979797" stroke-width="0.45" fill-rule="evenodd" stroke-linejoin="round"/>
<path d="M409.0 120.4L409.4 120.4L410.1 120.8L410.4 121.4L410.6 121.9L410.8 122.9L410.8 123.9L410.7 124.9L410.6 125.8L410.5 126.4L410.3 127.4L410.3 128.4L410.6 129.4L410.8 129.9L411.1 130.7L411.4 131.4L411.7 131.9L412.1 132.6L412.6 133.3L413.0 133.9L413.3 134.4L413.6 135.0L413.9 135.9L414.1 136.4L414.3 137.4L414.4 138.4L414.4 139.4L414.3 140.4L414.1 141.3L413.9 141.9L413.6 142.6L413.2 143.4L412.9 143.9L412.6 144.5L412.1 145.4L411.8 145.9L411.6 146.4L411.1 147.3L410.8 147.9L410.5 148.4L410.1 149.1L409.6 149.9L409.2 150.4L408.8 150.9L408.5 151.4L408.1 151.9L407.6 152.7L407.2 153.4L406.9 153.9L406.6 154.4L406.1 155.1L405.6 155.8L405.1 156.3L404.6 156.8L404.1 157.3L403.6 157.7L403.1 158.0L402.5 158.4L401.6 158.9L401.1 159.1L400.1 159.4L399.6 159.5L398.6 159.5L398.1 159.4L397.1 159.1L396.6 158.8L396.0 158.4L395.4 157.9L395.0 157.4L394.6 156.7L394.3 155.9L394.1 155.3L394.0 154.4L394.0 153.4L394.1 152.8L394.3 151.9L394.6 150.9L394.8 150.4L395.1 149.5L395.3 148.9L395.6 148.4L396.1 147.4L396.4 146.9L396.7 146.4L397.1 145.7L397.6 144.9L397.9 144.4L398.2 143.9L398.6 143.2L399.0 142.4L399.3 141.9L399.6 141.3L400.1 140.5L400.5 139.9L400.8 139.4L401.1 138.9L401.6 138.2L402.1 137.4L402.4 136.9L402.7 136.4L403.1 135.8L403.6 135.0L404.0 134.4L404.4 133.9L404.7 133.4L405.1 132.6L405.4 131.9L405.6 131.4L406.0 130.4L406.2 129.9L406.6 129.0L406.9 128.4L407.2 127.9L407.6 126.9L407.7 126.4L407.9 125.4L408.1 124.4L408.1 123.9L408.1 123.2L408.1 122.4L408.1 121.4L408.3 120.9L409.0 120.4Z" fill="#eeeeee" stroke="#939393" stroke-width="0.45" fill-rule="evenodd" stroke-linejoin="round"/>
<path d="M407.5 132.9L408.1 132.6L409.1 132.6L409.7 132.9L410.4 133.4L411.0 133.9L411.5 134.4L411.9 134.9L412.2 135.4L412.6 136.2L412.8 136.9L413.0 137.9L413.1 138.9L413.0 139.9L412.8 140.9L412.6 141.7L412.4 142.4L412.1 143.1L411.7 143.9L411.5 144.4L411.1 145.2L410.8 145.9L410.6 146.4L410.1 147.4L409.8 147.9L409.5 148.4L409.1 149.1L408.6 149.8L408.1 150.4L407.7 150.9L407.3 151.4L407.0 151.9L406.6 152.6L406.1 153.4L405.8 153.9L405.5 154.4L405.1 154.9L404.6 155.5L404.1 156.0L403.6 156.5L403.0 156.9L402.3 157.4L401.6 157.8L401.1 158.0L400.1 158.2L399.1 158.3L398.1 158.1L397.6 157.9L396.7 157.4L396.2 156.9L395.8 156.4L395.5 155.9L395.2 154.9L395.1 154.4L395.0 153.4L395.1 152.8L395.3 151.9L395.6 150.9L395.7 150.4L396.1 149.5L396.3 148.9L396.6 148.4L397.1 147.4L397.4 146.9L397.7 146.4L398.1 145.8L398.6 145.1L399.0 144.4L399.3 143.9L399.6 143.3L400.1 142.4L400.3 141.9L400.6 141.4L401.1 140.6L401.6 139.9L401.9 139.4L402.3 138.9L402.7 138.4L403.1 137.8L403.6 137.1L404.1 136.4L404.5 135.9L404.9 135.4L405.4 134.9L405.9 134.4L406.4 133.9L406.9 133.4L407.5 132.9Z" fill="#e0e0e0" stroke="#868686" stroke-width="0.45" fill-rule="evenodd" stroke-linejoin="round"/>
<path d="M407.5 134.9L408.1 134.6L409.1 134.6L409.9 134.9L410.5 135.4L410.9 135.9L411.3 136.4L411.6 137.2L411.8 137.9L411.9 138.9L411.9 139.9L411.8 140.9L411.6 141.6L411.4 142.4L411.1 143.1L410.8 143.9L410.6 144.4L410.1 145.4L409.9 145.9L409.6 146.6L409.2 147.4L409.0 147.9L408.6 148.5L408.1 149.1L407.6 149.7L407.1 150.3L406.7 150.9L406.3 151.4L406.0 151.9L405.6 152.5L405.1 153.3L404.7 153.9L404.4 154.4L403.9 154.9L403.5 155.4L402.9 155.9L402.1 156.4L401.6 156.7L401.1 156.9L400.1 157.1L399.1 157.1L398.3 156.9L397.6 156.5L397.1 156.1L396.6 155.5L396.3 154.9L396.1 154.3L396.0 153.4L396.1 152.4L396.2 151.9L396.4 150.9L396.6 150.4L397.0 149.4L397.2 148.9L397.6 148.2L398.1 147.4L398.4 146.9L398.7 146.4L399.1 145.9L399.6 145.1L400.0 144.4L400.2 143.9L400.6 143.2L401.0 142.4L401.3 141.9L401.6 141.3L402.1 140.6L402.6 139.9L403.0 139.4L403.4 138.9L403.8 138.4L404.2 137.9L404.6 137.4L405.1 136.9L405.6 136.3L406.1 135.9L406.7 135.4L407.5 134.9Z" fill="#cacaca" stroke="#767676" stroke-width="0.45" fill-rule="evenodd" stroke-linejoin="round"/>
<path d="M407.5 136.4L408.1 136.2L409.1 136.2L409.6 136.5L410.1 137.0L410.6 137.9L410.7 138.4L410.9 139.4L410.9 140.4L410.7 141.4L410.6 141.9L410.3 142.9L410.1 143.4L409.7 144.4L409.5 144.9L409.1 145.9L408.9 146.4L408.6 147.0L408.1 147.8L407.7 148.4L407.3 148.9L406.9 149.4L406.5 149.9L406.1 150.4L405.6 151.0L405.1 151.7L404.6 152.4L404.3 152.9L403.9 153.4L403.6 153.9L403.1 154.4L402.6 154.9L401.9 155.4L401.1 155.8L400.6 155.9L399.6 156.0L399.1 155.9L398.1 155.4L397.6 154.9L397.3 154.4L397.1 153.8L397.0 152.9L397.1 151.9L397.2 151.4L397.5 150.4L397.7 149.9L398.1 149.0L398.4 148.4L398.7 147.9L399.1 147.3L399.6 146.5L400.0 145.9L400.3 145.4L400.6 144.9L401.1 144.0L401.4 143.4L401.6 142.9L402.1 142.1L402.5 141.4L402.9 140.9L403.3 140.4L403.7 139.9L404.1 139.4L404.6 138.8L405.1 138.3L405.6 137.8L406.1 137.4L406.7 136.9L407.5 136.4Z" fill="#b1b1b1" stroke="#616161" stroke-width="0.45" fill-rule="evenodd" stroke-linejoin="round"/>
<path d="M407.6 137.9L408.1 137.8L408.7 137.9L409.3 138.4L409.6 139.0L409.8 139.9L409.7 140.9L409.6 141.8L409.5 142.4L409.2 143.4L409.0 143.9L408.6 144.9L408.4 145.4L408.1 146.2L407.8 146.9L407.5 147.4L407.1 148.0L406.6 148.7L406.1 149.3L405.6 149.8L405.1 150.4L404.7 150.9L404.3 151.4L403.9 151.9L403.5 152.4L403.1 152.9L402.6 153.4L402.1 153.9L401.4 154.4L400.6 154.7L399.6 154.7L399.0 154.4L398.5 153.9L398.1 153.0L398.0 152.4L398.1 151.6L398.3 150.9L398.6 149.9L398.8 149.4L399.1 148.8L399.6 147.9L399.9 147.4L400.3 146.9L400.6 146.4L401.1 145.6L401.5 144.9L401.7 144.4L402.1 143.7L402.6 142.9L402.9 142.4L403.2 141.9L403.6 141.4L404.1 140.8L404.6 140.2L405.1 139.7L405.6 139.2L406.1 138.7L406.6 138.4L407.6 137.9Z" fill="#959595" stroke="#4c4c4c" stroke-width="0.45" fill-rule="evenodd" stroke-linejoin="round"/>
<path d="M407.1 139.9L407.4 139.9L408.1 140.3L408.3 140.9L408.3 141.9L408.2 142.9L408.1 143.4L407.8 144.4L407.6 145.3L407.4 145.9L407.1 146.6L406.7 147.4L406.3 147.9L405.9 148.4L405.5 148.9L405.1 149.4L404.6 149.9L404.1 150.4L403.6 150.9L403.1 151.4L402.5 151.9L402.0 152.4L401.3 152.9L400.6 153.2L399.7 152.9L399.4 152.4L399.3 151.4L399.5 150.4L399.6 149.9L400.0 148.9L400.3 148.4L400.6 147.8L401.1 147.0L401.5 146.4L401.8 145.9L402.1 145.3L402.6 144.4L402.9 143.9L403.2 143.4L403.6 142.9L404.1 142.3L404.6 141.7L405.1 141.2L405.6 140.7L406.1 140.3L407.1 139.9Z" fill="#797979" stroke="#3c3c3c" stroke-width="0.45" fill-rule="evenodd" stroke-linejoin="round"/>
<path d="M405.3 143.4L405.8 143.4L406.3 143.9L406.4 144.9L406.3 145.9L406.1 146.5L405.6 147.4L405.2 147.9L404.7 148.4L404.2 148.9L403.6 149.4L403.1 149.7L402.6 149.9L401.8 149.9L401.5 149.4L401.6 148.7L401.9 147.9L402.1 147.3L402.6 146.4L402.8 145.9L403.1 145.4L403.6 144.6L404.1 144.1L404.6 143.7L405.3 143.4Z" fill="#e0e0e0" stroke="#3c3c3c" stroke-width="0.45" fill-rule="evenodd" stroke-linejoin="round"/>
<path d="M425.1 144.8L425.1 144.2L425.6 143.7L426.1 143.1L426.5 142.5L426.7 142.0L427.0 141.0L427.1 140.5L427.3 139.5L427.6 138.7L427.8 138.0L428.1 137.5L428.6 136.6L429.0 136.0L429.5 135.5L430.0 135.0L430.6 134.6L431.1 134.3L432.1 134.1L433.1 134.2L433.9 134.5L434.6 134.9L435.1 135.3L435.6 135.9L436.1 136.5L436.4 137.0L436.6 137.5L437.1 138.5L437.3 139.0L437.5 140.0L437.7 140.5L437.9 141.5L438.1 142.1L438.6 143.0L439.0 143.5L439.5 144.0L440.0 144.5L440.3 145.0L440.6 145.5L440.9 146.5L440.7 147.5L440.4 148.0L440.0 148.1L439.5 148.1ZM425.3 148.1L425.1 148.1Z" fill="#ffffff" stroke="#7d7d7d" stroke-width="0.45" fill-rule="evenodd" stroke-linejoin="round"/>
<path d="M426.8 148.1L426.2 148.1L425.7 148.0L425.4 147.5L425.2 146.5L425.5 145.5L425.8 145.0L426.2 144.5L426.6 144.0L427.1 143.5L427.6 142.9L428.1 142.0L428.2 141.5L428.5 140.5L428.7 140.0L429.1 139.0L429.4 138.5L429.7 138.0L430.1 137.5L430.7 137.0L431.6 136.5L432.1 136.4L433.0 136.5L433.6 136.7L434.1 137.1L434.6 137.5L435.1 138.1L435.6 138.9L435.9 139.5L436.1 140.1L436.4 141.0L436.6 141.7L437.0 142.5L437.3 143.0L437.7 143.5L438.2 144.0L438.6 144.5L439.1 145.1L439.5 146.0L439.5 147.0L439.1 147.9L438.6 148.1L438.1 148.1Z" fill="#f1f1f1" stroke="#828282" stroke-width="0.45" fill-rule="evenodd" stroke-linejoin="round"/>
<path d="M428.0 148.1L427.3 148.1L426.8 148.0L426.4 147.5L426.2 146.5L426.5 145.5L426.8 145.0L427.2 144.5L427.7 144.0L428.2 143.5L428.6 143.0L429.1 142.3L429.5 141.5L429.7 141.0L430.1 140.2L430.5 139.5L431.0 139.0L431.6 138.7L432.6 138.5L433.6 139.0L434.1 139.4L434.5 140.0L434.8 140.5L435.1 141.1L435.5 142.0L435.8 142.5L436.1 143.0L436.6 143.5L437.1 144.0L437.6 144.5L438.1 145.1L438.5 146.0L438.6 146.5L438.6 147.0L438.1 147.9L437.6 148.1L437.1 148.1Z" fill="#dbdbdb" stroke="#7d7d7d" stroke-width="0.45" fill-rule="evenodd" stroke-linejoin="round"/>
<path d="M429.2 148.1L428.6 148.1L428.1 148.1L427.6 147.8L427.1 147.0L427.0 146.5L427.1 146.0L427.6 145.1L428.1 144.6L428.6 144.1L429.1 143.6L429.6 143.2L430.1 142.7L430.6 142.1L431.1 141.6L431.6 141.1L432.1 140.9L432.9 141.0L433.6 141.5L434.0 142.0L434.5 142.5L435.0 143.0L435.5 143.5L436.1 144.0L436.6 144.5L437.1 145.0L437.5 145.5L437.7 146.0L437.7 147.0L437.5 147.5L437.1 148.0L436.5 148.1L435.6 148.1Z" fill="#bbbbbb" stroke="#6e6e6e" stroke-width="0.45" fill-rule="evenodd" stroke-linejoin="round"/>
<path d="M430.5 148.1L429.6 148.1L429.1 148.1L428.6 148.0L428.1 147.4L427.8 146.5L428.1 145.5L428.5 145.0L429.1 144.5L429.6 144.1L430.1 143.7L430.6 143.4L431.4 143.0L432.1 142.8L433.1 142.9L433.6 143.1L434.3 143.5L435.1 144.0L435.6 144.4L436.1 144.8L436.6 145.4L436.9 146.0L436.9 147.0L436.6 147.6L436.1 148.1L435.5 148.1L434.6 148.1Z" fill="#8d8d8d" stroke="#5a5a5a" stroke-width="0.45" fill-rule="evenodd" stroke-linejoin="round"/>
<path d="M431.0 144.0L431.6 143.8L432.6 143.7L433.6 143.9L434.1 144.1L434.8 144.5L435.5 145.0L435.9 145.5L436.2 146.0L436.2 147.0L435.9 147.5L435.3 148.0L434.6 148.1L434.1 148.1L433.1 148.1L432.1 148.1L431.1 148.1L430.5 148.1L429.6 148.1L429.1 147.7L428.6 147.0L428.5 146.5L428.6 146.0L429.1 145.2L429.6 144.8L430.1 144.4L431.0 144.0Z" fill="#565656" stroke="#414141" stroke-width="0.45" fill-rule="evenodd" stroke-linejoin="round"/>
<path d="M431.3 144.5L432.1 144.3L433.1 144.4L433.6 144.5L434.6 145.0L435.1 145.4L435.5 146.0L435.6 146.5L435.5 147.0L435.1 147.5L434.3 148.0L433.6 148.1L432.6 148.1L431.6 148.1L430.6 148.0L430.1 147.8L429.6 147.4L429.2 146.5L429.6 145.6L430.1 145.1L430.6 144.8L431.3 144.5Z" fill="#191919" stroke="#282828" stroke-width="0.45" fill-rule="evenodd" stroke-linejoin="round"/>
<path d="M431.4 145.0L432.1 144.9L433.1 144.9L433.6 145.1L434.4 145.5L434.8 146.0L434.8 147.0L434.2 147.5L433.6 147.8L432.6 148.0L431.6 147.9L430.6 147.5L430.1 147.0L429.9 146.5L430.1 145.9L430.6 145.4L431.4 145.0Z" fill="#000000" stroke="#141414" stroke-width="0.45" fill-rule="evenodd" stroke-linejoin="round"/>
<path d="M492.5 141.7L492.5 142.3L492.5 141.7ZM496.7 159.9L496.5 159.8L496.2 158.9L496.0 158.2L495.7 157.4L495.5 156.7L495.2 155.9L494.9 155.4L494.5 154.9L493.6 154.4L493.0 154.4L492.5 154.4L491.5 154.6L490.5 154.8L490.0 154.9L489.0 155.1L488.0 155.3L487.5 155.4L486.5 155.6L485.5 155.7L484.5 155.8L484.0 155.9L483.0 156.1L482.2 156.4L481.5 156.7L481.0 157.0L480.3 157.4L479.6 157.9L479.0 158.3L478.5 158.6L477.5 158.9L477.0 158.9L476.5 158.8L475.5 158.4L475.0 158.1L474.5 157.7L474.0 157.3L473.5 156.9L473.0 156.4L472.5 155.8L472.0 155.2L471.5 154.6L471.0 154.1L470.5 153.6L470.0 153.1L469.5 152.6L469.0 152.0L468.5 151.4L468.2 150.9L468.0 150.4L467.8 149.4L467.8 148.4L468.0 147.7L468.3 146.9L468.5 146.4L468.8 145.4L469.0 144.8L469.1 143.9L469.1 142.9L469.1 141.9L469.0 140.9L468.9 140.4L468.8 139.4L468.8 138.4L468.8 137.4L468.8 136.4L468.9 135.4L469.0 134.4L469.0 133.9L469.1 132.9L469.3 131.9L469.5 130.9L469.6 130.4L469.8 129.4L470.0 128.6L470.2 127.9L470.5 126.9L470.6 126.4L470.9 125.4L471.0 124.9L471.3 123.9L471.5 122.9L471.6 122.4L471.7 121.4L471.8 120.4L471.9 119.4L472.0 118.6L472.1 117.9L472.3 116.9L472.4 115.9L472.5 115.4L472.8 114.4L473.0 113.7L473.3 112.9L473.6 112.4L474.0 111.6L474.4 110.9L474.8 110.4L475.2 109.9L475.8 109.4L476.5 109.0L477.0 108.8L478.0 108.6L479.0 108.6L480.0 108.9L480.5 109.1L481.1 109.4L481.8 109.9L482.3 110.4L482.7 110.9L483.0 111.4L483.5 112.4L483.7 112.9L484.0 113.6L484.3 114.4L484.5 114.9L484.8 115.9L485.0 116.9L485.1 117.4L485.2 118.4L485.3 119.4L485.5 120.4L485.6 120.9L486.0 121.8L486.4 122.4L486.8 122.9L487.3 123.4L487.7 123.9L488.3 124.4L488.9 124.9L489.5 125.4L490.0 125.7L490.6 125.9L491.5 126.1L492.4 125.9L493.0 125.6L493.5 125.3L494.0 124.8L494.5 124.4L495.1 123.9L495.7 123.4L496.3 122.9L497.0 122.4L497.5 122.1L498.0 121.8L499.0 121.4L499.5 121.3L500.5 121.2L501.5 121.4L502.0 121.5L502.9 121.9L503.5 122.2L504.0 122.5L505.0 122.8L505.5 122.9L506.5 123.4L506.9 123.9L507.2 124.4L507.5 125.1L507.8 125.9L508.0 126.4L508.3 127.4L508.5 128.4L508.5 128.9L508.6 129.9L508.7 130.9L508.7 131.9L508.8 132.9L508.8 133.9L508.8 134.9L508.8 135.9L508.9 136.9L508.9 137.9L508.9 138.9L508.9 139.9L508.9 140.9L508.9 141.9L508.9 142.9L508.8 143.9L508.8 144.9L508.7 145.9L508.6 146.9L508.5 147.9L508.5 148.4L508.4 149.4L508.3 150.4L508.1 151.4L508.0 151.9L507.8 152.9L507.5 153.9L507.4 154.4L507.1 155.4L506.9 155.9L506.5 156.8L506.0 157.4L505.5 157.9L505.2 158.4L504.9 158.9L504.6 159.9L504.4 159.9Z" fill="#ffffff" stroke="#7d7d7d" stroke-width="0.45" fill-rule="evenodd" stroke-linejoin="round"/>
<path d="M493.0 138.8L492.5 138.9L491.5 139.3L491.0 139.4L490.0 139.8L489.5 140.1L489.0 140.6L488.6 141.4L488.5 141.9L488.5 142.5L489.0 143.3L489.5 143.7L490.0 144.0L490.9 144.4L491.5 144.6L492.4 144.9L493.0 145.0L494.0 144.9L494.5 144.5L494.8 143.9L495.0 143.3L495.2 142.4L495.2 141.4L495.1 140.4L495.0 139.9L494.5 139.0L494.0 138.7L493.0 138.8ZM497.7 159.9L497.5 159.4L497.4 158.9L497.2 157.9L497.0 156.9L496.9 156.4L496.7 155.4L496.5 154.6L496.1 153.9L495.8 153.4L495.3 152.9L494.5 152.5L493.5 152.5L492.5 152.8L492.0 153.0L491.0 153.3L490.5 153.5L489.5 153.7L488.7 153.9L488.0 154.1L487.0 154.4L486.5 154.5L485.5 154.7L484.5 154.8L483.5 154.9L483.0 154.9L482.0 155.1L481.0 155.4L480.5 155.6L479.5 155.9L479.0 156.1L478.0 156.4L477.5 156.5L476.5 156.4L476.0 156.3L475.0 155.9L474.5 155.7L474.0 155.3L473.5 154.9L473.0 154.4L472.5 153.9L472.0 153.4L471.5 152.8L471.0 152.2L470.5 151.5L470.1 150.9L469.9 150.4L469.7 149.4L469.8 148.4L469.9 147.4L470.0 146.9L470.2 145.9L470.3 144.9L470.4 143.9L470.3 142.9L470.2 141.9L470.1 140.9L470.0 140.0L470.0 139.4L469.9 138.4L470.0 137.4L470.0 136.7L470.0 135.9L470.1 134.9L470.2 133.9L470.4 132.9L470.5 132.4L470.8 131.4L471.0 130.6L471.2 129.9L471.5 129.1L471.8 128.4L472.0 127.8L472.3 126.9L472.5 126.2L472.7 125.4L472.9 124.4L473.0 123.8L473.1 122.9L473.2 121.9L473.3 120.9L473.5 119.9L473.5 119.4L473.7 118.4L473.9 117.4L474.0 116.9L474.3 115.9L474.5 115.0L474.7 114.4L475.0 113.7L475.5 112.9L475.9 112.4L476.4 111.9L477.0 111.6L477.5 111.4L478.5 111.3L479.5 111.4L480.0 111.5L480.7 111.9L481.3 112.4L481.7 112.9L482.1 113.4L482.5 114.2L482.8 114.9L483.0 115.4L483.3 116.4L483.5 117.4L483.5 118.2L483.5 118.9L483.6 119.9L483.8 120.9L483.9 121.9L484.0 122.4L484.3 123.4L484.5 123.9L485.0 124.7L485.5 125.2L486.0 125.6L486.5 126.1L487.0 126.5L487.5 126.9L488.1 127.4L488.9 127.9L489.5 128.1L490.5 128.4L491.0 128.4L491.9 128.4L492.5 128.3L493.5 128.0L494.0 127.8L494.5 127.4L495.0 126.8L495.5 126.2L496.0 125.6L496.5 125.1L497.0 124.6L497.5 124.3L498.1 123.9L499.0 123.5L500.0 123.4L501.0 123.5L502.0 123.9L502.5 124.1L503.1 124.4L504.0 124.9L504.5 125.1L505.5 125.1L506.2 125.4L506.7 125.9L507.0 126.4L507.4 127.4L507.5 127.9L507.7 128.9L507.9 129.9L508.0 130.9L508.0 131.4L508.1 132.4L508.2 133.4L508.3 134.4L508.4 135.4L508.4 136.4L508.4 137.4L508.4 138.4L508.4 139.4L508.5 140.4L508.5 141.4L508.4 142.4L508.4 143.4L508.4 144.4L508.3 145.4L508.2 146.4L508.1 147.4L508.0 148.2L507.9 148.9L507.8 149.9L507.6 150.9L507.5 151.4L507.1 152.4L506.9 152.9L506.5 153.7L506.0 154.2L505.5 154.4L504.8 154.9L504.5 155.7L504.4 156.4L504.1 157.4L504.0 157.9L503.8 158.9L503.6 159.9L503.4 159.9Z" fill="#f3f3f3" stroke="#828282" stroke-width="0.45" fill-rule="evenodd" stroke-linejoin="round"/>
<path d="M495.0 135.8L494.5 135.9L493.8 136.4L493.1 136.9L492.5 137.3L492.0 137.5L491.0 137.8L490.0 137.8L489.0 137.8L488.5 137.9L487.8 138.4L487.4 138.9L487.0 139.6L486.5 140.4L486.2 140.9L485.8 141.4L485.4 141.9L485.0 142.8L485.0 142.9L485.5 143.6L486.1 143.9L487.0 144.3L487.5 144.5L488.3 144.9L489.0 145.2L489.6 145.4L490.5 145.7L491.0 145.9L492.0 146.4L492.5 146.6L493.0 146.9L493.7 147.4L494.5 147.9L495.3 147.4L495.6 146.9L496.0 145.9L496.1 145.4L496.3 144.4L496.4 143.4L496.5 142.4L496.5 141.4L496.4 140.4L496.3 139.4L496.2 138.4L496.0 137.4L495.9 136.9L495.5 136.1L495.0 135.8ZM498.3 159.9L498.1 159.4L498.0 158.7L497.8 157.9L497.7 156.9L497.7 155.9L497.6 154.9L497.5 154.1L497.3 153.4L497.0 152.5L496.7 151.9L496.3 151.4L496.0 150.9L495.5 150.3L494.8 149.9L494.4 149.9L493.7 150.4L493.0 150.9L492.5 151.3L492.0 151.6L491.5 151.9L490.5 152.3L490.0 152.5L489.0 152.8L488.5 153.0L487.5 153.3L487.0 153.4L486.0 153.7L485.0 153.8L484.5 153.9L483.5 154.0L482.5 154.1L481.5 154.3L481.0 154.4L480.0 154.6L479.0 154.8L478.5 154.9L477.5 155.1L476.5 155.0L475.9 154.9L475.0 154.6L474.5 154.3L473.9 153.9L473.3 153.4L472.8 152.9L472.4 152.4L472.0 151.9L471.5 151.1L471.2 150.4L471.0 149.4L471.0 148.4L471.1 147.4L471.2 146.4L471.2 145.4L471.3 144.4L471.3 143.4L471.2 142.4L471.1 141.4L471.0 140.9L470.9 139.9L470.8 138.9L470.9 137.9L471.0 136.9L471.0 136.4L471.1 135.4L471.2 134.4L471.4 133.4L471.5 132.9L471.8 131.9L472.0 131.2L472.3 130.4L472.6 129.9L473.0 129.2L473.5 128.4L473.8 127.9L474.0 127.4L474.3 126.4L474.5 125.4L474.5 124.7L474.5 123.9L474.5 122.9L474.6 121.9L474.7 120.9L474.9 119.9L475.0 119.4L475.2 118.4L475.5 117.5L475.7 116.9L476.0 116.1L476.3 115.4L476.6 114.9L477.0 114.3L477.5 113.9L478.5 113.5L479.5 113.5L480.3 113.9L480.8 114.4L481.2 114.9L481.5 115.4L481.9 116.4L482.0 117.4L482.0 117.9L482.0 118.9L482.0 119.9L482.1 120.9L482.2 121.9L482.3 122.9L482.2 123.9L482.1 124.9L482.1 125.9L482.5 126.9L483.0 127.3L483.5 127.5L484.3 127.9L485.0 128.2L485.5 128.5L486.2 128.9L486.8 129.4L487.4 129.9L488.0 130.4L488.5 130.6L489.5 130.6L490.3 130.4L491.0 130.2L492.0 130.1L493.0 130.0L493.5 129.9L494.5 129.6L495.0 129.3L495.5 128.8L496.0 128.3L496.5 127.7L497.0 127.0L497.5 126.4L498.0 125.9L498.5 125.6L499.0 125.4L500.0 125.3L500.5 125.4L501.5 125.8L502.0 126.0L502.9 126.4L503.5 126.8L504.0 127.0L505.0 127.1L506.0 127.1L506.5 127.5L506.9 128.4L507.0 128.9L507.3 129.9L507.5 130.9L507.5 131.4L507.7 132.4L507.8 133.4L507.9 134.4L508.0 135.4L508.0 135.9L508.1 136.9L508.1 137.9L508.1 138.9L508.2 139.9L508.2 140.9L508.2 141.9L508.1 142.9L508.0 143.9L508.0 144.4L507.9 145.4L507.8 146.4L507.7 147.4L507.6 148.4L507.5 148.9L507.3 149.9L507.0 150.8L506.7 151.4L506.3 151.9L505.6 151.9L505.1 151.4L504.7 150.9L504.2 150.9L504.0 151.4L503.9 152.4L503.9 153.4L503.8 154.4L503.8 155.4L503.7 156.4L503.5 157.3L503.4 157.9L503.2 158.9L503.0 159.7L502.9 159.9Z" fill="#e1e1e1" stroke="#7d7d7d" stroke-width="0.45" fill-rule="evenodd" stroke-linejoin="round"/>
<path d="M478.2 116.9L479.0 116.4L479.9 116.9L480.1 117.4L480.2 118.4L480.2 119.4L480.2 120.4L480.1 121.4L480.0 122.4L479.8 122.9L479.5 123.4L478.9 123.9L478.0 124.3L477.0 124.2L476.5 123.5L476.3 122.9L476.3 121.9L476.4 120.9L476.5 120.4L476.8 119.4L477.0 118.8L477.4 117.9L477.8 117.4L478.2 116.9ZM474.8 129.4L475.5 129.0L476.5 129.1L477.0 129.5L477.5 130.1L478.0 130.6L478.5 131.1L479.0 131.5L479.6 131.9L480.5 132.3L481.0 131.9L481.5 131.4L482.5 131.0L483.5 131.0L484.5 131.1L485.3 131.4L485.9 131.9L486.3 132.4L486.6 132.9L487.0 133.9L487.0 134.4L486.9 134.9L486.5 135.8L486.1 136.4L485.8 136.9L485.4 137.4L485.0 138.0L484.5 138.5L484.0 138.9L483.4 139.4L483.0 139.9L482.5 140.7L482.2 141.4L482.1 142.4L482.3 143.4L482.7 143.9L483.3 144.4L484.0 144.7L484.5 144.9L485.5 145.1L486.5 145.3L487.0 145.5L488.0 145.9L488.5 146.1L489.1 146.4L490.0 146.8L490.5 147.0L491.1 147.4L491.6 147.9L492.0 148.7L492.1 149.4L491.9 149.9L491.5 150.5L491.0 150.9L490.1 151.4L489.5 151.7L488.9 151.9L488.0 152.2L487.5 152.4L486.5 152.7L485.9 152.9L485.0 153.1L484.0 153.2L483.0 153.3L482.3 153.4L481.5 153.5L480.5 153.7L479.5 153.8L478.6 153.9L478.0 153.9L477.0 154.0L476.5 153.9L475.5 153.7L474.9 153.4L474.1 152.9L473.6 152.4L473.1 151.9L472.7 151.4L472.4 150.9L472.1 149.9L472.0 149.1L472.0 148.4L472.0 147.9L472.0 146.9L472.1 145.9L472.1 144.9L472.1 143.9L472.0 142.9L472.0 142.4L471.9 141.4L471.7 140.4L471.6 139.4L471.7 138.4L471.8 137.4L471.9 136.4L472.0 135.9L472.1 134.9L472.3 133.9L472.5 133.0L472.7 132.4L473.0 131.5L473.4 130.9L473.7 130.4L474.2 129.9L474.8 129.4ZM491.0 132.4L491.5 132.2L492.5 132.0L493.2 132.4L493.2 133.4L492.9 133.9L492.5 134.6L492.0 135.2L491.5 135.6L490.5 135.6L490.0 135.4L489.5 134.8L489.5 133.9L489.8 133.4L490.3 132.9L491.0 132.4ZM498.9 159.9L498.6 159.4L498.5 158.9L498.3 157.9L498.2 156.9L498.2 155.9L498.2 154.9L498.1 153.9L498.1 152.9L498.0 152.3L497.8 151.4L497.6 150.4L497.5 149.4L497.5 148.9L497.5 147.9L497.5 147.3L497.5 146.4L497.6 145.4L497.7 144.4L497.8 143.4L497.8 142.4L497.8 141.4L497.8 140.4L497.7 139.4L497.6 138.4L497.6 137.4L497.6 136.4L497.6 135.4L497.5 134.4L497.4 133.9L497.0 133.1L496.5 132.5L496.1 131.9L496.1 130.9L496.5 130.2L497.0 129.5L497.5 129.0L498.0 128.6L498.5 128.2L499.0 127.9L500.0 127.7L501.0 127.8L501.5 128.0L502.5 128.3L503.0 128.7L503.5 129.4L503.9 129.9L504.5 130.3L505.0 129.6L505.5 129.1L506.3 129.4L506.6 129.9L506.9 130.9L507.1 131.4L507.3 132.4L507.4 133.4L507.5 134.2L507.6 134.9L507.7 135.9L507.8 136.9L507.8 137.9L507.9 138.9L507.9 139.9L507.9 140.9L507.9 141.9L507.8 142.9L507.8 143.9L507.7 144.9L507.5 145.9L507.5 146.4L507.3 147.4L507.1 148.4L507.0 148.9L506.6 149.9L506.0 150.3L505.5 149.9L505.0 148.9L504.8 148.4L504.5 147.6L504.0 146.9L504.0 146.9L503.5 147.7L503.3 148.4L503.1 149.4L503.0 150.4L503.1 151.4L503.2 152.4L503.2 153.4L503.3 154.4L503.3 155.4L503.2 156.4L503.1 157.4L503.0 157.9L502.8 158.9L502.5 159.8L502.3 159.9Z" fill="#c5c5c5" stroke="#6e6e6e" stroke-width="0.45" fill-rule="evenodd" stroke-linejoin="round"/>
<path d="M474.8 131.4L475.5 131.2L476.1 131.4L476.8 131.9L477.4 132.4L477.9 132.9L478.2 133.4L478.6 133.9L479.0 134.7L479.4 135.4L479.6 135.9L480.0 136.7L480.3 137.4L480.5 138.2L480.6 138.9L480.7 139.9L480.6 140.9L480.5 141.9L480.6 142.9L481.0 143.9L481.4 144.4L482.0 144.9L482.5 145.2L483.0 145.4L484.0 145.8L484.5 145.9L485.5 146.1L486.5 146.3L487.0 146.5L488.0 146.9L488.5 147.1L489.1 147.4L489.8 147.9L490.3 148.4L490.5 149.0L490.5 149.4L490.0 150.2L489.5 150.6L489.0 150.9L488.0 151.4L487.5 151.6L486.6 151.9L486.0 152.1L485.0 152.3L484.5 152.4L483.5 152.6L482.5 152.7L481.5 152.8L480.7 152.9L480.0 153.0L479.0 153.0L478.0 153.0L477.0 153.0L476.5 152.9L475.5 152.6L475.0 152.4L474.3 151.9L473.8 151.4L473.4 150.9L473.0 149.9L472.9 149.4L472.8 148.4L472.8 147.4L472.9 146.4L472.9 145.4L472.8 144.4L472.8 143.4L472.7 142.4L472.6 141.4L472.5 140.4L472.4 139.9L472.4 138.9L472.5 137.9L472.6 137.4L472.8 136.4L473.0 135.5L473.1 134.9L473.3 133.9L473.5 133.2L473.8 132.4L474.2 131.9L474.8 131.4ZM505.4 131.4L506.0 130.9L506.5 131.5L506.8 132.4L507.0 133.2L507.1 133.9L507.3 134.9L507.4 135.9L507.5 136.6L507.6 137.4L507.6 138.4L507.6 139.4L507.6 140.4L507.6 141.4L507.6 142.4L507.5 143.4L507.5 143.9L507.4 144.9L507.2 145.9L507.1 146.9L506.9 147.4L506.6 148.4L506.0 148.9L505.5 148.3L505.1 147.4L505.0 146.9L504.7 145.9L504.6 144.9L504.5 143.9L504.5 142.9L504.5 142.4L504.4 141.4L504.3 140.4L504.3 139.4L504.4 138.4L504.5 137.4L504.5 136.9L504.6 135.9L504.7 134.9L504.8 133.9L504.9 132.9L505.1 132.4L505.4 131.4ZM499.4 159.9L499.0 159.4L498.9 158.9L498.7 157.9L498.6 156.9L498.6 155.9L498.6 154.9L498.6 153.9L498.6 152.9L498.6 151.9L498.7 150.9L498.8 149.9L498.9 148.9L499.0 147.9L498.9 146.9L498.9 145.9L499.0 144.9L499.0 144.4L499.2 143.4L499.4 142.4L499.5 141.9L499.6 140.9L499.5 139.9L499.5 139.4L499.4 138.4L499.4 137.4L499.5 136.9L499.9 135.9L500.2 135.4L500.2 134.4L500.0 133.8L499.5 132.9L499.1 132.4L498.8 131.9L498.5 131.2L498.5 130.9L499.0 130.3L500.0 130.0L501.0 130.1L501.7 130.4L502.1 130.9L502.4 131.9L502.3 132.9L502.0 133.7L501.6 134.4L501.4 134.9L501.3 135.9L501.5 136.8L501.6 137.4L501.9 138.4L502.0 138.9L502.1 139.9L502.2 140.9L502.2 141.9L502.4 142.9L502.5 143.8L502.6 144.4L502.6 145.4L502.6 146.4L502.5 146.9L502.4 147.9L502.3 148.9L502.3 149.9L502.4 150.9L502.5 151.5L502.6 152.4L502.8 153.4L502.9 154.4L502.9 155.4L502.9 156.4L502.7 157.4L502.5 158.3L502.3 158.9L502.0 159.9L501.8 159.9Z" fill="#9e9e9e" stroke="#5a5a5a" stroke-width="0.45" fill-rule="evenodd" stroke-linejoin="round"/>
<path d="M505.8 132.9L506.2 132.9L506.5 133.4L506.8 134.4L507.0 135.0L507.2 135.9L507.3 136.9L507.3 137.9L507.4 138.9L507.4 139.9L507.4 140.9L507.4 141.9L507.3 142.9L507.2 143.9L507.1 144.9L507.0 145.4L506.7 146.4L506.5 147.1L506.0 147.4L505.6 146.9L505.4 146.4L505.2 145.4L505.0 144.4L505.0 143.9L504.9 142.9L504.8 141.9L504.8 140.9L504.7 139.9L504.7 138.9L504.8 137.9L504.9 136.9L505.0 135.9L505.0 135.4L505.2 134.4L505.5 133.4L505.8 132.9ZM474.9 133.9L475.5 133.5L476.5 133.7L477.0 134.1L477.5 134.6L478.0 135.3L478.4 135.9L478.7 136.4L479.0 137.2L479.2 137.9L479.4 138.9L479.4 139.9L479.3 140.9L479.3 141.9L479.4 142.9L479.5 143.4L480.0 144.4L480.4 144.9L481.0 145.4L481.5 145.7L482.0 146.0L483.0 146.4L483.5 146.6L484.5 146.9L485.0 147.0L486.0 147.2L486.6 147.4L487.5 147.7L488.0 148.0L488.6 148.4L488.9 149.4L488.5 149.9L487.8 150.4L487.0 150.8L486.5 151.0L485.5 151.4L485.0 151.5L484.0 151.7L483.0 151.9L482.5 152.0L481.5 152.1L480.5 152.2L479.5 152.2L478.5 152.1L477.5 152.0L476.8 151.9L476.0 151.7L475.3 151.4L474.6 150.9L474.2 150.4L473.9 149.9L473.7 148.9L473.6 147.9L473.6 146.9L473.7 145.9L473.6 144.9L473.5 143.9L473.5 143.1L473.5 142.4L473.5 141.4L473.3 140.4L473.2 139.4L473.2 138.4L473.4 137.4L473.6 136.9L473.9 135.9L474.2 135.4L474.5 134.6L474.9 133.9ZM500.0 159.9L499.5 159.5L499.3 158.9L499.1 157.9L499.0 157.2L499.0 156.4L499.0 155.4L499.0 154.9L499.1 153.9L499.1 152.9L499.2 151.9L499.4 150.9L499.6 150.4L500.0 149.5L500.4 148.9L501.0 148.9L501.2 149.4L501.5 150.0L501.8 150.9L502.0 151.6L502.2 152.4L502.4 153.4L502.5 154.4L502.5 154.9L502.5 155.9L502.5 156.5L502.4 157.4L502.1 158.4L501.9 158.9L501.5 159.9L501.2 159.9Z" fill="#6f6f6f" stroke="#414141" stroke-width="0.45" fill-rule="evenodd" stroke-linejoin="round"/>
<path d="M505.9 134.4L506.2 134.4L506.6 134.9L506.9 135.9L507.0 136.7L507.1 137.4L507.1 138.4L507.1 139.4L507.2 140.4L507.2 141.4L507.1 142.4L507.0 143.3L506.9 143.9L506.7 144.9L506.5 145.5L506.0 145.9L505.7 145.4L505.5 144.8L505.3 143.9L505.2 142.9L505.1 141.9L505.1 140.9L505.0 139.9L505.1 138.9L505.1 137.9L505.2 136.9L505.3 135.9L505.5 135.1L505.9 134.4ZM475.7 135.9L476.5 135.8L477.0 136.1L477.5 136.5L478.0 137.4L478.2 137.9L478.3 138.9L478.2 139.9L478.1 140.9L478.0 141.9L478.2 142.9L478.5 143.6L478.9 144.4L479.2 144.9L479.6 145.4L480.2 145.9L480.9 146.4L481.5 146.7L482.0 146.9L483.0 147.3L483.5 147.6L484.2 147.9L484.9 148.4L485.4 148.9L485.7 149.4L485.5 149.9L484.9 150.4L484.0 150.8L483.5 150.9L482.5 151.1L481.5 151.3L480.5 151.4L479.5 151.3L478.5 151.2L477.5 151.0L477.0 150.9L476.0 150.6L475.5 150.3L475.0 149.8L474.5 148.9L474.4 148.4L474.4 147.4L474.5 146.4L474.5 145.4L474.4 144.4L474.3 143.4L474.3 142.4L474.4 141.4L474.3 140.4L474.0 139.4L474.0 138.9L474.0 138.4L474.3 137.4L474.6 136.9L475.0 136.4L475.7 135.9ZM500.1 151.4L501.0 151.1L501.5 151.9L501.7 152.4L501.9 153.4L502.0 153.9L502.2 154.9L502.2 155.9L502.1 156.9L502.0 157.6L501.7 158.4L501.5 158.9L501.0 159.6L500.0 159.4L499.7 158.9L499.5 158.2L499.3 157.4L499.3 156.4L499.3 155.4L499.4 154.4L499.5 153.6L499.6 152.9L499.9 151.9L500.1 151.4Z" fill="#3b3b3b" stroke="#282828" stroke-width="0.45" fill-rule="evenodd" stroke-linejoin="round"/>
<path d="M505.8 135.9L506.5 135.8L506.6 136.4L506.8 137.4L506.9 138.4L506.9 139.4L506.9 140.4L506.9 141.4L506.8 142.4L506.6 143.4L506.5 144.0L506.0 144.4L505.8 143.9L505.6 142.9L505.5 142.4L505.4 141.4L505.3 140.4L505.3 139.4L505.4 138.4L505.4 137.4L505.5 136.8L505.8 135.9ZM475.3 137.9L476.0 137.4L476.8 137.9L477.0 138.4L477.0 139.0L476.6 139.9L476.0 140.4L476.0 140.4L475.5 139.9L475.1 138.9L475.3 137.9ZM475.7 141.9L476.5 141.9L476.8 142.4L477.0 142.9L477.5 143.9L477.8 144.4L478.1 144.9L478.5 145.4L479.0 145.9L479.5 146.5L480.0 146.9L480.8 147.4L481.5 147.7L482.0 147.9L482.7 148.4L483.1 148.9L483.0 149.6L482.5 150.0L481.5 150.3L481.0 150.4L480.0 150.4L479.5 150.4L478.5 150.2L477.5 150.0L477.0 149.9L476.0 149.4L475.5 148.9L475.3 148.4L475.2 147.4L475.3 146.4L475.4 145.4L475.4 144.4L475.3 143.4L475.4 142.4L475.7 141.9ZM500.5 152.4L500.6 152.4L501.2 152.9L501.5 153.4L501.7 154.4L501.9 155.4L501.9 156.4L501.7 157.4L501.5 158.0L501.0 158.8L500.5 159.0L500.0 158.5L499.8 157.9L499.6 156.9L499.6 155.9L499.7 154.9L499.9 153.9L500.0 153.4L500.5 152.4Z" fill="#070707" stroke="#141414" stroke-width="0.45" fill-rule="evenodd" stroke-linejoin="round"/>
<line x1="423.50" y1="26.60" x2="423.50" y2="91.70" stroke="#4a4a4a" stroke-width="1"/>
<line x1="379.10" y1="63.50" x2="444.80" y2="63.50" stroke="#4a4a4a" stroke-width="1"/>
<line x1="492.50" y1="26.60" x2="492.50" y2="91.70" stroke="#4a4a4a" stroke-width="1"/>
<line x1="447.30" y1="63.50" x2="514.80" y2="63.50" stroke="#4a4a4a" stroke-width="1"/>
<line x1="424.50" y1="92.90" x2="424.50" y2="160.40" stroke="#4a4a4a" stroke-width="1"/>
<line x1="379.20" y1="131.50" x2="445.30" y2="131.50" stroke="#4a4a4a" stroke-width="1"/>
<line x1="493.50" y1="93.40" x2="493.50" y2="160.40" stroke="#4a4a4a" stroke-width="1"/>
<line x1="448.00" y1="131.50" x2="514.20" y2="131.50" stroke="#4a4a4a" stroke-width="1"/>
<text x="380.40" y="36.80" font-size="9.6" stroke="#000" stroke-width="0.25" textLength="17.00" lengthAdjust="spacingAndGlyphs">43.1</text>
<text x="426.60" y="36.80" font-size="9.6" stroke="#000" stroke-width="0.25" textLength="17.00" lengthAdjust="spacingAndGlyphs">0.13</text>
<text x="380.40" y="88.90" font-size="9.6" stroke="#000" stroke-width="0.25" textLength="17.00" lengthAdjust="spacingAndGlyphs">55.3</text>
<text x="426.60" y="88.90" font-size="9.6" stroke="#000" stroke-width="0.25" textLength="17.00" lengthAdjust="spacingAndGlyphs">1.49</text>
<text x="448.60" y="36.80" font-size="9.6" stroke="#000" stroke-width="0.25" textLength="17.00" lengthAdjust="spacingAndGlyphs">22.9</text>
<text x="496.60" y="36.80" font-size="9.6" stroke="#000" stroke-width="0.25" textLength="17.00" lengthAdjust="spacingAndGlyphs">1.82</text>
<text x="448.60" y="88.90" font-size="9.6" stroke="#000" stroke-width="0.25" textLength="17.00" lengthAdjust="spacingAndGlyphs">62.8</text>
<text x="496.60" y="88.90" font-size="9.6" stroke="#000" stroke-width="0.25" textLength="17.00" lengthAdjust="spacingAndGlyphs">12.5</text>
<text x="380.50" y="103.10" font-size="9.6" stroke="#000" stroke-width="0.25" textLength="17.00" lengthAdjust="spacingAndGlyphs">5.18</text>
<text x="427.10" y="103.10" font-size="9.6" stroke="#000" stroke-width="0.25" textLength="17.00" lengthAdjust="spacingAndGlyphs">0.38</text>
<text x="427.10" y="157.60" font-size="9.6" stroke="#000" stroke-width="0.25" textLength="17.00" lengthAdjust="spacingAndGlyphs">58.4</text>
<text x="449.30" y="103.60" font-size="9.6" stroke="#000" stroke-width="0.25" textLength="17.00" lengthAdjust="spacingAndGlyphs">12.6</text>
<text x="496.00" y="103.60" font-size="9.6" stroke="#000" stroke-width="0.25" textLength="17.00" lengthAdjust="spacingAndGlyphs">3.36</text>
<text x="449.30" y="157.60" font-size="9.6" stroke="#000" stroke-width="0.25" textLength="17.00" lengthAdjust="spacingAndGlyphs">32.9</text>
<text x="383.70" y="157.90" font-size="9.6" stroke="#000" stroke-width="0.25" textLength="9.30" lengthAdjust="spacingAndGlyphs">36</text>
<rect x="503.00" y="150.80" width="10.60" height="8.80" fill="#fff" stroke="none" stroke-width="1"/>
<text x="503.40" y="158.40" font-size="9.6" stroke="#000" stroke-width="0.25" textLength="8.80" lengthAdjust="spacingAndGlyphs">51</text>
<text x="377.90" y="35.41" font-size="2.6" text-anchor="end" font-weight="normal" fill="#999">10</text>
<line x1="378.10" y1="34.41" x2="379.10" y2="34.41" stroke="#999" stroke-width="0.4"/>
<text x="377.90" y="51.69" font-size="2.6" text-anchor="end" font-weight="normal" fill="#999">10</text>
<line x1="378.10" y1="50.69" x2="379.10" y2="50.69" stroke="#999" stroke-width="0.4"/>
<text x="377.90" y="67.96" font-size="2.6" text-anchor="end" font-weight="normal" fill="#999">10</text>
<line x1="378.10" y1="66.96" x2="379.10" y2="66.96" stroke="#999" stroke-width="0.4"/>
<text x="377.90" y="82.94" font-size="2.6" text-anchor="end" font-weight="normal" fill="#999">10</text>
<line x1="378.10" y1="81.94" x2="379.10" y2="81.94" stroke="#999" stroke-width="0.4"/>
<text x="378.00" y="102.00" font-size="2.6" text-anchor="end" font-weight="normal" fill="#999">10</text>
<line x1="378.20" y1="101.00" x2="379.20" y2="101.00" stroke="#999" stroke-width="0.4"/>
<text x="378.00" y="118.88" font-size="2.6" text-anchor="end" font-weight="normal" fill="#999">10</text>
<line x1="378.20" y1="117.88" x2="379.20" y2="117.88" stroke="#999" stroke-width="0.4"/>
<text x="378.00" y="135.75" font-size="2.6" text-anchor="end" font-weight="normal" fill="#999">10</text>
<line x1="378.20" y1="134.75" x2="379.20" y2="134.75" stroke="#999" stroke-width="0.4"/>
<text x="378.00" y="151.28" font-size="2.6" text-anchor="end" font-weight="normal" fill="#999">10</text>
<line x1="378.20" y1="150.28" x2="379.20" y2="150.28" stroke="#999" stroke-width="0.4"/>
<line x1="387.13" y1="160.40" x2="387.13" y2="161.40" stroke="#999" stroke-width="0.4"/>
<text x="387.13" y="164.00" font-size="2.6" text-anchor="middle" font-weight="normal" fill="#999">10</text>
<line x1="392.42" y1="160.40" x2="392.42" y2="161.40" stroke="#999" stroke-width="0.4"/>
<text x="392.42" y="164.00" font-size="2.6" text-anchor="middle" font-weight="normal" fill="#999">10</text>
<line x1="406.96" y1="160.40" x2="406.96" y2="161.40" stroke="#999" stroke-width="0.4"/>
<text x="406.96" y="164.00" font-size="2.6" text-anchor="middle" font-weight="normal" fill="#999">10</text>
<line x1="424.15" y1="160.40" x2="424.15" y2="161.40" stroke="#999" stroke-width="0.4"/>
<text x="424.15" y="164.00" font-size="2.6" text-anchor="middle" font-weight="normal" fill="#999">10</text>
<line x1="438.69" y1="160.40" x2="438.69" y2="161.40" stroke="#999" stroke-width="0.4"/>
<text x="438.69" y="164.00" font-size="2.6" text-anchor="middle" font-weight="normal" fill="#999">10</text>
<line x1="455.94" y1="160.40" x2="455.94" y2="161.40" stroke="#999" stroke-width="0.4"/>
<text x="455.94" y="164.00" font-size="2.6" text-anchor="middle" font-weight="normal" fill="#999">10</text>
<line x1="461.24" y1="160.40" x2="461.24" y2="161.40" stroke="#999" stroke-width="0.4"/>
<text x="461.24" y="164.00" font-size="2.6" text-anchor="middle" font-weight="normal" fill="#999">10</text>
<line x1="475.80" y1="160.40" x2="475.80" y2="161.40" stroke="#999" stroke-width="0.4"/>
<text x="475.80" y="164.00" font-size="2.6" text-anchor="middle" font-weight="normal" fill="#999">10</text>
<line x1="493.02" y1="160.40" x2="493.02" y2="161.40" stroke="#999" stroke-width="0.4"/>
<text x="493.02" y="164.00" font-size="2.6" text-anchor="middle" font-weight="normal" fill="#999">10</text>
<line x1="507.58" y1="160.40" x2="507.58" y2="161.40" stroke="#999" stroke-width="0.4"/>
<text x="507.58" y="164.00" font-size="2.6" text-anchor="middle" font-weight="normal" fill="#999">10</text>
<line x1="368.10" y1="32.80" x2="368.10" y2="129.50" stroke="#000" stroke-width="1.45"/>
<path d="M364.90 37.20L368.10 32.60L371.30 37.20" fill="none" stroke="#000" stroke-width="1.45"/>
<text x="372.20" y="160.40" font-size="13" stroke="#000" stroke-width="0.25" transform="rotate(-90 372.20 160.40)" textLength="29.00" lengthAdjust="spacingAndGlyphs">IFN&#947;</text>
<text x="380.60" y="176.80" font-size="13.5" stroke="#000" stroke-width="0.25" textLength="35.60" lengthAdjust="spacingAndGlyphs">CFSE</text>
<line x1="418.50" y1="172.20" x2="512.40" y2="172.20" stroke="#000" stroke-width="1.45"/>
<path d="M508.00 169.00L512.60 172.20L508.00 175.40" fill="none" stroke="#000" stroke-width="1.45"/>
<line x1="68.35" y1="210.80" x2="68.35" y2="209.40" stroke="#000" stroke-width="1.1"/>
<line x1="62.49" y1="209.40" x2="74.21" y2="209.40" stroke="#000" stroke-width="1.1"/>
<rect x="57.50" y="210.80" width="21.70" height="78.80" fill="#d2d2d2" stroke="#2a2a2a" stroke-width="0.9"/>
<line x1="89.85" y1="267.50" x2="89.85" y2="264.50" stroke="#000" stroke-width="1.1"/>
<line x1="84.10" y1="264.50" x2="95.60" y2="264.50" stroke="#000" stroke-width="1.1"/>
<rect x="79.20" y="267.50" width="21.30" height="22.10" fill="#000" stroke="#000" stroke-width="0.9"/>
<line x1="132.10" y1="233.20" x2="132.10" y2="232.40" stroke="#000" stroke-width="1.1"/>
<line x1="126.21" y1="232.40" x2="137.99" y2="232.40" stroke="#000" stroke-width="1.1"/>
<rect x="121.20" y="233.20" width="21.80" height="56.40" fill="#d2d2d2" stroke="#2a2a2a" stroke-width="0.9"/>
<line x1="153.50" y1="272.00" x2="153.50" y2="268.20" stroke="#000" stroke-width="1.1"/>
<line x1="147.83" y1="268.20" x2="159.17" y2="268.20" stroke="#000" stroke-width="1.1"/>
<rect x="143.00" y="272.00" width="21.00" height="17.60" fill="#000" stroke="#000" stroke-width="0.9"/>
<line x1="46.80" y1="205.80" x2="46.80" y2="290.10" stroke="#000" stroke-width="1.3"/>
<line x1="44.30" y1="289.60" x2="174.20" y2="289.60" stroke="#000" stroke-width="1.3"/>
<line x1="44.30" y1="207.50" x2="46.80" y2="207.50" stroke="#000" stroke-width="1.1"/>
<text x="45.80" y="210.70" font-size="9.2" text-anchor="end" stroke="#000" stroke-width="0.25">256</text>
<line x1="44.30" y1="228.10" x2="46.80" y2="228.10" stroke="#000" stroke-width="1.1"/>
<text x="45.80" y="231.30" font-size="9.2" text-anchor="end" stroke="#000" stroke-width="0.25">64</text>
<line x1="44.30" y1="248.80" x2="46.80" y2="248.80" stroke="#000" stroke-width="1.1"/>
<text x="45.80" y="252.00" font-size="9.2" text-anchor="end" stroke="#000" stroke-width="0.25">16</text>
<line x1="44.30" y1="269.40" x2="46.80" y2="269.40" stroke="#000" stroke-width="1.1"/>
<text x="45.80" y="272.60" font-size="9.2" text-anchor="end" stroke="#000" stroke-width="0.25">4</text>
<line x1="44.30" y1="290.00" x2="46.80" y2="290.00" stroke="#000" stroke-width="1.1"/>
<text x="45.80" y="293.20" font-size="9.2" text-anchor="end" stroke="#000" stroke-width="0.25">1</text>
<line x1="79.20" y1="289.60" x2="79.20" y2="292.60" stroke="#000" stroke-width="1.1"/>
<line x1="143.00" y1="289.60" x2="143.00" y2="292.60" stroke="#000" stroke-width="1.1"/>
<text x="79.10" y="302.80" font-size="10.4" text-anchor="middle" stroke="#000" stroke-width="0.25">CD4</text>
<text x="142.50" y="302.80" font-size="10.4" text-anchor="middle" stroke="#000" stroke-width="0.25">CD8</text>
<line x1="67.50" y1="205.00" x2="96.20" y2="205.00" stroke="#000" stroke-width="1.2"/>
<text x="81.85" y="208.20" font-size="17" text-anchor="middle" stroke="#000" stroke-width="0.25">***</text>
<line x1="130.00" y1="229.20" x2="158.80" y2="229.20" stroke="#000" stroke-width="1.2"/>
<text x="144.40" y="232.40" font-size="17" text-anchor="middle" stroke="#000" stroke-width="0.25">***</text>
<text x="25.60" y="287.00" font-size="13.8" stroke="#000" stroke-width="0.25" transform="rotate(-90 25.60 287.00)" textLength="42.40" lengthAdjust="spacingAndGlyphs"># Cells</text>
<text x="26.20" y="237.40" font-size="11" stroke="#000" stroke-width="0.25" transform="rotate(-90 26.20 237.40)" textLength="26.00" lengthAdjust="spacingAndGlyphs">(&#215;10<tspan font-size="7" dy="-3.6">3</tspan><tspan dy="3.6">)</tspan></text>
<line x1="237.15" y1="209.50" x2="237.15" y2="209.00" stroke="#000" stroke-width="1.1"/>
<line x1="232.15" y1="209.00" x2="242.15" y2="209.00" stroke="#000" stroke-width="1.1"/>
<rect x="226.80" y="209.50" width="20.70" height="80.70" fill="#d2d2d2" stroke="#2a2a2a" stroke-width="0.9"/>
<line x1="258.15" y1="253.40" x2="258.15" y2="251.80" stroke="#000" stroke-width="1.1"/>
<line x1="252.40" y1="251.80" x2="263.90" y2="251.80" stroke="#000" stroke-width="1.1"/>
<rect x="247.50" y="253.40" width="21.30" height="36.80" fill="#000" stroke="#000" stroke-width="0.9"/>
<line x1="300.30" y1="219.90" x2="300.30" y2="217.90" stroke="#000" stroke-width="1.1"/>
<line x1="294.63" y1="217.90" x2="305.97" y2="217.90" stroke="#000" stroke-width="1.1"/>
<rect x="289.80" y="219.90" width="21.00" height="70.30" fill="#d2d2d2" stroke="#2a2a2a" stroke-width="0.9"/>
<line x1="321.40" y1="251.90" x2="321.40" y2="251.00" stroke="#000" stroke-width="1.1"/>
<line x1="315.68" y1="251.00" x2="327.12" y2="251.00" stroke="#000" stroke-width="1.1"/>
<rect x="310.80" y="251.90" width="21.20" height="38.30" fill="#000" stroke="#000" stroke-width="0.9"/>
<line x1="215.30" y1="206.00" x2="215.30" y2="290.70" stroke="#000" stroke-width="1.3"/>
<line x1="212.80" y1="290.20" x2="342.50" y2="290.20" stroke="#000" stroke-width="1.3"/>
<line x1="212.80" y1="207.60" x2="215.30" y2="207.60" stroke="#000" stroke-width="1.1"/>
<text x="213.60" y="210.80" font-size="9.0" text-anchor="end" stroke="#000" stroke-width="0.25">100</text>
<line x1="212.80" y1="224.10" x2="215.30" y2="224.10" stroke="#000" stroke-width="1.1"/>
<text x="213.60" y="227.30" font-size="9.0" text-anchor="end" stroke="#000" stroke-width="0.25">80</text>
<line x1="212.80" y1="240.60" x2="215.30" y2="240.60" stroke="#000" stroke-width="1.1"/>
<text x="213.60" y="243.80" font-size="9.0" text-anchor="end" stroke="#000" stroke-width="0.25">60</text>
<line x1="212.80" y1="257.10" x2="215.30" y2="257.10" stroke="#000" stroke-width="1.1"/>
<text x="213.60" y="260.30" font-size="9.0" text-anchor="end" stroke="#000" stroke-width="0.25">40</text>
<line x1="212.80" y1="273.70" x2="215.30" y2="273.70" stroke="#000" stroke-width="1.1"/>
<text x="213.60" y="276.90" font-size="9.0" text-anchor="end" stroke="#000" stroke-width="0.25">20</text>
<line x1="212.80" y1="290.20" x2="215.30" y2="290.20" stroke="#000" stroke-width="1.1"/>
<text x="213.60" y="293.40" font-size="9.0" text-anchor="end" stroke="#000" stroke-width="0.25">0</text>
<line x1="247.50" y1="290.20" x2="247.50" y2="293.20" stroke="#000" stroke-width="1.1"/>
<line x1="310.80" y1="290.20" x2="310.80" y2="293.20" stroke="#000" stroke-width="1.1"/>
<text x="247.30" y="302.80" font-size="10.4" text-anchor="middle" stroke="#000" stroke-width="0.25">CD4</text>
<text x="310.80" y="302.80" font-size="10.4" text-anchor="middle" stroke="#000" stroke-width="0.25">CD8</text>
<line x1="236.50" y1="204.80" x2="264.00" y2="204.80" stroke="#000" stroke-width="1.2"/>
<text x="250.25" y="208.00" font-size="17" text-anchor="middle" stroke="#000" stroke-width="0.25">***</text>
<line x1="299.30" y1="214.30" x2="327.80" y2="214.30" stroke="#000" stroke-width="1.2"/>
<text x="313.55" y="217.50" font-size="17" text-anchor="middle" stroke="#000" stroke-width="0.25">***</text>
<text x="196.60" y="284.40" font-size="13.8" stroke="#000" stroke-width="0.25" transform="rotate(-90 196.60 284.40)" textLength="71.60" lengthAdjust="spacingAndGlyphs">% CFSE<tspan font-size="8.4" dy="-5.2">low</tspan></text>
<line x1="410.50" y1="211.70" x2="410.50" y2="208.80" stroke="#000" stroke-width="1.1"/>
<line x1="404.67" y1="208.80" x2="416.33" y2="208.80" stroke="#000" stroke-width="1.1"/>
<rect x="399.70" y="211.70" width="21.60" height="77.90" fill="#d2d2d2" stroke="#2a2a2a" stroke-width="0.9"/>
<line x1="431.90" y1="275.50" x2="431.90" y2="272.50" stroke="#000" stroke-width="1.1"/>
<line x1="426.18" y1="272.50" x2="437.62" y2="272.50" stroke="#000" stroke-width="1.1"/>
<rect x="421.30" y="275.50" width="21.20" height="14.10" fill="#000" stroke="#000" stroke-width="0.9"/>
<line x1="474.05" y1="231.30" x2="474.05" y2="228.40" stroke="#000" stroke-width="1.1"/>
<line x1="468.30" y1="228.40" x2="479.80" y2="228.40" stroke="#000" stroke-width="1.1"/>
<rect x="463.40" y="231.30" width="21.30" height="58.30" fill="#d2d2d2" stroke="#2a2a2a" stroke-width="0.9"/>
<line x1="495.30" y1="274.80" x2="495.30" y2="270.60" stroke="#000" stroke-width="1.1"/>
<line x1="489.58" y1="270.60" x2="501.02" y2="270.60" stroke="#000" stroke-width="1.1"/>
<rect x="484.70" y="274.80" width="21.20" height="14.80" fill="#000" stroke="#000" stroke-width="0.9"/>
<line x1="389.30" y1="205.00" x2="389.30" y2="290.10" stroke="#000" stroke-width="1.2"/>
<line x1="386.80" y1="289.60" x2="516.00" y2="289.60" stroke="#000" stroke-width="1.2"/>
<line x1="386.80" y1="206.80" x2="389.30" y2="206.80" stroke="#000" stroke-width="1.1"/>
<text x="387.40" y="209.90" font-size="8.8" text-anchor="end" stroke="#000" stroke-width="0.25">100</text>
<line x1="386.80" y1="234.50" x2="389.30" y2="234.50" stroke="#000" stroke-width="1.1"/>
<text x="387.40" y="237.60" font-size="8.8" text-anchor="end" stroke="#000" stroke-width="0.25">10</text>
<line x1="386.80" y1="262.00" x2="389.30" y2="262.00" stroke="#000" stroke-width="1.1"/>
<text x="387.40" y="265.10" font-size="8.8" text-anchor="end" stroke="#000" stroke-width="0.25">1</text>
<line x1="386.80" y1="289.60" x2="389.30" y2="289.60" stroke="#000" stroke-width="1.1"/>
<text x="387.40" y="292.70" font-size="8.8" text-anchor="end" stroke="#000" stroke-width="0.25">0.1</text>
<line x1="421.30" y1="289.60" x2="421.30" y2="292.60" stroke="#000" stroke-width="1.1"/>
<line x1="484.70" y1="289.60" x2="484.70" y2="292.60" stroke="#000" stroke-width="1.1"/>
<text x="421.10" y="302.80" font-size="10.4" text-anchor="middle" stroke="#000" stroke-width="0.25">CD4</text>
<text x="484.80" y="302.80" font-size="10.4" text-anchor="middle" stroke="#000" stroke-width="0.25">CD8</text>
<line x1="408.80" y1="205.20" x2="437.60" y2="205.20" stroke="#000" stroke-width="1.2"/>
<text x="423.20" y="208.40" font-size="17" text-anchor="middle" stroke="#000" stroke-width="0.25">*</text>
<line x1="471.90" y1="226.40" x2="500.40" y2="226.40" stroke="#000" stroke-width="1.2"/>
<text x="486.15" y="229.60" font-size="17" text-anchor="middle" stroke="#000" stroke-width="0.25">*</text>
<text x="368.20" y="288.00" font-size="13.8" stroke="#000" stroke-width="0.25" transform="rotate(-90 368.20 288.00)" textLength="44.60" lengthAdjust="spacingAndGlyphs"># IFN<tspan font-weight="normal">&#947;</tspan>+</text>
<text x="368.80" y="241.20" font-size="11" stroke="#000" stroke-width="0.25" transform="rotate(-90 368.80 241.20)" textLength="30.00" lengthAdjust="spacingAndGlyphs">(&#215;10<tspan font-size="7" dy="-3.6">3</tspan><tspan dy="3.6">)</tspan></text>
<rect x="40.50" y="335.50" width="66.00" height="65.00" fill="none" stroke="#ababab" stroke-width="1"/>
<rect x="109.50" y="336.50" width="65.00" height="64.00" fill="none" stroke="#ababab" stroke-width="1"/>
<rect x="40.50" y="402.50" width="66.00" height="66.00" fill="none" stroke="#ababab" stroke-width="1"/>
<rect x="109.50" y="402.50" width="65.00" height="66.00" fill="none" stroke="#ababab" stroke-width="1"/>
<text x="40.20" y="333.70" font-size="11.4" stroke="#000" stroke-width="0.25" textLength="63.70" lengthAdjust="spacingAndGlyphs">H2K<tspan dy="-3.08" font-size="7.07">b+</tspan><tspan dy="3.08" font-size="11.4">CD4</tspan><tspan dy="-3.08" font-size="7.07">+</tspan></text>
<text x="111.60" y="333.70" font-size="11.4" stroke="#000" stroke-width="0.25" textLength="63.60" lengthAdjust="spacingAndGlyphs">H2K<tspan dy="-3.08" font-size="7.07">b+</tspan><tspan dy="3.08" font-size="11.4">CD8</tspan><tspan dy="-3.08" font-size="7.07">+</tspan></text>
<text x="1.50" y="379.40" font-size="13.6" stroke="#000" stroke-width="0.25" textLength="20.30" lengthAdjust="spacingAndGlyphs">WT</text>
<text x="1.50" y="433.40" font-size="13.6" stroke="#000" stroke-width="0.25" textLength="20.30" lengthAdjust="spacingAndGlyphs">KO</text>
<path d="M63.9 347.8L64.6 347.6L65.6 347.5L66.6 347.4L67.6 347.5L68.6 347.7L69.1 347.8L70.1 348.2L70.6 348.4L71.3 348.8L71.9 349.3L72.4 349.8L72.7 350.3L73.1 351.1L73.3 351.8L73.3 352.8L73.1 353.4L72.7 354.3L72.3 354.8L71.8 355.3L71.1 355.8L70.6 356.1L70.1 356.3L69.1 356.7L68.6 356.8L67.6 357.0L66.6 357.1L65.6 357.0L64.6 356.8L64.1 356.7L63.2 356.3L62.6 356.0L62.1 355.7L61.6 355.3L61.1 354.8L60.6 354.1L60.3 353.3L60.1 352.3L60.2 351.3L60.6 350.4L61.0 349.8L61.4 349.3L62.0 348.8L62.6 348.4L63.1 348.1L63.9 347.8ZM73.8 363.3L74.6 363.1L75.6 362.9L76.6 362.9L77.6 362.9L78.6 363.0L79.6 363.2L80.1 363.4L80.9 363.8L81.6 364.3L82.1 364.7L82.6 365.3L82.9 365.8L83.2 366.3L83.5 367.3L83.6 367.8L83.7 368.8L83.7 369.8L83.6 370.3L83.4 371.3L83.1 372.3L82.9 372.8L82.6 373.6L82.3 374.3L82.0 374.8L81.6 375.5L81.1 376.3L80.8 376.8L80.5 377.3L80.1 377.8L79.6 378.4L79.1 379.0L78.6 379.6L78.1 380.1L77.6 380.6L77.1 381.1L76.6 381.6L76.1 382.0L75.6 382.4L75.0 382.8L74.3 383.3L73.6 383.7L73.1 384.1L72.6 384.3L71.7 384.8L71.1 385.1L70.6 385.3L69.6 385.7L69.1 385.8L68.1 386.1L67.4 386.3L66.6 386.5L65.6 386.6L64.6 386.6L63.6 386.6L62.6 386.4L62.1 386.3L61.1 385.9L60.6 385.6L60.1 385.3L59.5 384.8L59.1 384.3L58.6 383.5L58.3 382.8L58.1 382.2L57.9 381.3L57.9 380.3L58.0 379.3L58.1 378.6L58.3 377.8L58.6 376.8L58.8 376.3L59.1 375.6L59.5 374.8L59.8 374.3L60.1 373.8L60.6 373.1L61.1 372.4L61.6 371.8L62.0 371.3L62.4 370.8L62.9 370.3L63.3 369.8L63.8 369.3L64.3 368.8L64.9 368.3L65.5 367.8L66.1 367.3L66.6 366.9L67.1 366.5L67.6 366.2L68.2 365.8L69.1 365.3L69.6 365.0L70.1 364.7L71.0 364.3L71.6 364.0L72.2 363.8L73.1 363.5L73.8 363.3ZM94.3 378.8L95.1 378.4L96.1 378.5L96.6 378.9L97.1 379.7L97.3 380.3L97.5 381.3L97.4 382.3L97.1 383.3L96.9 383.8L96.4 384.3L95.6 384.7L94.6 384.4L94.1 383.9L93.7 383.3L93.5 382.8L93.3 381.8L93.4 380.8L93.6 379.9L93.9 379.3L94.3 378.8Z" fill="#ffffff" stroke="#7d7d7d" stroke-width="0.45" fill-rule="evenodd" stroke-linejoin="round"/>
<path d="M74.2 364.8L75.1 364.6L76.1 364.6L77.1 364.6L78.1 364.8L78.6 364.9L79.4 365.3L80.1 365.7L80.6 366.2L81.1 366.8L81.4 367.3L81.6 367.9L81.8 368.8L81.9 369.8L81.8 370.8L81.6 371.8L81.5 372.3L81.1 373.3L80.9 373.8L80.6 374.4L80.1 375.3L79.9 375.8L79.5 376.3L79.1 377.0L78.6 377.6L78.1 378.3L77.6 378.8L77.2 379.3L76.7 379.8L76.1 380.3L75.6 380.8L75.1 381.2L74.6 381.6L74.1 381.9L73.5 382.3L72.7 382.8L72.1 383.1L71.6 383.4L70.6 383.8L70.1 384.0L69.3 384.3L68.6 384.5L67.6 384.7L67.1 384.8L66.1 384.9L65.1 384.9L64.1 384.8L63.6 384.7L62.6 384.4L62.1 384.1L61.6 383.8L61.0 383.3L60.6 382.8L60.1 381.8L59.9 381.3L59.7 380.3L59.7 379.3L59.8 378.3L60.1 377.3L60.2 376.8L60.6 375.9L60.9 375.3L61.1 374.8L61.6 374.1L62.1 373.3L62.5 372.8L62.9 372.3L63.3 371.8L63.7 371.3L64.2 370.8L64.6 370.3L65.2 369.8L65.7 369.3L66.3 368.8L66.9 368.3L67.6 367.8L68.1 367.4L68.6 367.1L69.1 366.8L70.0 366.3L70.6 366.0L71.1 365.8L72.1 365.4L72.6 365.2L73.6 364.9L74.2 364.8Z" fill="#f2f2f2" stroke="#828282" stroke-width="0.45" fill-rule="evenodd" stroke-linejoin="round"/>
<path d="M72.9 366.3L73.6 366.1L74.6 366.0L75.6 365.9L76.6 366.0L77.6 366.2L78.1 366.4L78.8 366.8L79.3 367.3L79.7 367.8L80.1 368.5L80.3 369.3L80.4 370.3L80.4 371.3L80.1 372.3L80.0 372.8L79.6 373.8L79.4 374.3L79.1 374.9L78.6 375.8L78.3 376.3L78.0 376.8L77.6 377.3L77.1 377.9L76.6 378.5L76.1 379.0L75.6 379.5L75.1 379.9L74.6 380.3L73.9 380.8L73.2 381.3L72.6 381.7L72.1 381.9L71.4 382.3L70.6 382.7L70.1 382.9L69.1 383.2L68.6 383.3L67.6 383.5L66.6 383.6L65.6 383.6L64.6 383.5L64.0 383.3L63.1 382.9L62.6 382.5L62.1 382.0L61.6 381.3L61.4 380.8L61.1 379.8L61.1 378.8L61.2 377.8L61.5 376.8L61.7 376.3L62.1 375.4L62.4 374.8L62.7 374.3L63.1 373.7L63.6 373.0L64.1 372.4L64.6 371.8L65.1 371.3L65.6 370.8L66.1 370.3L66.6 369.8L67.1 369.4L67.6 369.0L68.1 368.7L68.6 368.3L69.4 367.8L70.1 367.4L70.6 367.2L71.4 366.8L72.1 366.5L72.9 366.3Z" fill="#dedede" stroke="#7d7d7d" stroke-width="0.45" fill-rule="evenodd" stroke-linejoin="round"/>
<path d="M73.1 367.3L73.6 367.2L74.6 367.1L75.6 367.1L76.5 367.3L77.1 367.5L77.6 367.8L78.2 368.3L78.6 368.8L79.0 369.8L79.1 370.3L79.1 371.3L79.1 371.8L78.9 372.8L78.6 373.6L78.3 374.3L78.1 374.8L77.6 375.7L77.2 376.3L76.9 376.8L76.5 377.3L76.0 377.8L75.5 378.3L75.0 378.8L74.4 379.3L73.8 379.8L73.1 380.3L72.6 380.6L72.1 380.9L71.4 381.3L70.6 381.7L70.1 381.8L69.1 382.2L68.5 382.3L67.6 382.5L66.6 382.5L65.6 382.4L65.1 382.3L64.1 381.9L63.6 381.5L63.1 381.0L62.7 380.3L62.5 379.8L62.3 378.8L62.4 377.8L62.6 376.8L62.8 376.3L63.1 375.6L63.5 374.8L63.8 374.3L64.2 373.8L64.6 373.2L65.1 372.6L65.6 372.0L66.1 371.5L66.6 371.0L67.1 370.5L67.6 370.1L68.1 369.7L68.7 369.3L69.5 368.8L70.1 368.4L70.6 368.2L71.5 367.8L72.1 367.6L73.1 367.3Z" fill="#c0c0c0" stroke="#6e6e6e" stroke-width="0.45" fill-rule="evenodd" stroke-linejoin="round"/>
<path d="M72.8 368.3L73.6 368.2L74.6 368.1L75.6 368.3L76.1 368.4L76.7 368.8L77.3 369.3L77.6 369.8L77.9 370.8L78.0 371.8L77.9 372.8L77.6 373.7L77.4 374.3L77.1 374.8L76.6 375.7L76.2 376.3L75.8 376.8L75.4 377.3L74.9 377.8L74.4 378.3L73.8 378.8L73.1 379.3L72.6 379.7L72.1 380.0L71.5 380.3L70.6 380.7L70.1 380.9L69.1 381.2L68.6 381.4L67.6 381.5L66.6 381.5L65.8 381.3L65.1 381.0L64.6 380.7L64.1 380.2L63.6 379.3L63.5 378.8L63.4 377.8L63.6 376.8L63.8 376.3L64.1 375.5L64.5 374.8L64.8 374.3L65.2 373.8L65.6 373.2L66.1 372.6L66.6 372.1L67.1 371.6L67.6 371.1L68.1 370.7L68.7 370.3L69.4 369.8L70.1 369.4L70.6 369.1L71.3 368.8L72.1 368.5L72.8 368.3Z" fill="#969696" stroke="#5a5a5a" stroke-width="0.45" fill-rule="evenodd" stroke-linejoin="round"/>
<path d="M72.4 369.3L73.1 369.1L74.1 369.1L75.1 369.3L75.6 369.5L76.1 369.9L76.6 370.6L76.9 371.3L76.9 372.3L76.8 373.3L76.6 373.8L76.2 374.8L75.9 375.3L75.6 375.8L75.1 376.4L74.6 377.0L74.1 377.5L73.6 378.0L73.1 378.4L72.5 378.8L71.7 379.3L71.1 379.6L70.6 379.9L69.6 380.2L69.1 380.3L68.1 380.5L67.1 380.5L66.4 380.3L65.6 379.9L65.1 379.5L64.7 378.8L64.5 378.3L64.5 377.3L64.6 376.8L64.9 375.8L65.2 375.3L65.6 374.5L66.1 373.8L66.5 373.3L67.0 372.8L67.4 372.3L68.0 371.8L68.6 371.3L69.1 370.9L69.6 370.6L70.1 370.3L71.0 369.8L71.6 369.5L72.4 369.3Z" fill="#626262" stroke="#414141" stroke-width="0.45" fill-rule="evenodd" stroke-linejoin="round"/>
<path d="M71.9 370.3L72.6 370.1L73.6 370.1L74.6 370.3L75.1 370.6L75.6 371.2L75.8 371.8L75.9 372.8L75.7 373.8L75.5 374.3L75.1 375.1L74.6 375.8L74.2 376.3L73.8 376.8L73.2 377.3L72.6 377.8L72.1 378.2L71.6 378.5L71.0 378.8L70.1 379.2L69.6 379.3L68.6 379.5L67.6 379.5L66.9 379.3L66.1 378.8L65.8 378.3L65.6 377.7L65.6 376.8L65.7 376.3L66.1 375.3L66.4 374.8L66.7 374.3L67.1 373.8L67.6 373.2L68.1 372.7L68.6 372.2L69.1 371.8L69.8 371.3L70.6 370.8L71.1 370.6L71.9 370.3Z" fill="#2a2a2a" stroke="#282828" stroke-width="0.45" fill-rule="evenodd" stroke-linejoin="round"/>
<path d="M71.5 371.3L72.1 371.1L73.1 371.1L74.0 371.3L74.5 371.8L74.8 372.3L74.8 373.3L74.6 374.2L74.3 374.8L74.0 375.3L73.6 375.8L73.1 376.4L72.6 376.8L72.0 377.3L71.2 377.8L70.6 378.1L70.1 378.3L69.1 378.5L68.1 378.5L67.5 378.3L66.9 377.8L66.6 376.8L66.8 375.8L67.1 375.2L67.6 374.4L68.1 373.8L68.5 373.3L69.1 372.8L69.6 372.4L70.1 372.0L70.6 371.7L71.5 371.3Z" fill="#000000" stroke="#141414" stroke-width="0.45" fill-rule="evenodd" stroke-linejoin="round"/>
<path d="M70.7 372.8L71.6 372.5L72.6 372.4L73.2 372.8L73.4 373.8L73.1 374.7L72.7 375.3L72.3 375.8L71.7 376.3L71.1 376.7L70.6 376.9L69.6 377.2L68.6 377.0L68.1 376.3L68.3 375.3L68.6 374.8L69.1 374.1L69.6 373.6L70.1 373.2L70.7 372.8Z" fill="#c0c0c0" stroke="#141414" stroke-width="0.45" fill-rule="evenodd" stroke-linejoin="round"/>
<path d="M135.5 347.0L136.2 346.9L137.2 346.8L138.2 346.7L139.2 346.7L140.2 346.7L141.2 346.8L142.2 346.8L143.2 346.9L144.2 347.0L144.7 347.0L145.7 347.1L146.7 347.3L147.6 347.5L148.2 347.6L149.2 347.9L149.7 348.1L150.7 348.5L151.2 348.7L151.8 349.0L152.7 349.4L153.2 349.6L154.2 349.8L155.2 349.7L156.1 349.5L156.7 349.3L157.7 349.1L158.7 349.0L159.2 349.0L159.8 349.0L160.7 349.1L161.7 349.4L162.2 349.6L162.8 350.0L163.4 350.5L163.8 351.0L164.2 352.0L164.3 352.5L164.2 353.2L163.9 354.0L163.5 354.5L163.0 355.0L162.2 355.5L161.7 355.7L160.7 356.0L160.2 356.1L159.2 356.1L158.2 356.1L157.7 356.0L156.7 355.7L156.2 355.5L155.2 355.0L154.7 354.7L154.1 354.5L153.2 354.3L152.2 354.4L151.7 354.5L150.7 354.9L150.2 355.0L149.2 355.3L148.4 355.5L147.7 355.6L146.7 355.8L145.7 355.9L144.7 355.9L143.7 355.9L142.7 355.8L141.7 355.8L140.7 355.7L139.7 355.6L138.7 355.5L138.2 355.5L137.2 355.4L136.2 355.2L135.2 355.1L134.7 355.0L133.7 354.8L132.7 354.5L132.2 354.3L131.3 354.0L130.7 353.7L130.2 353.4L129.5 353.0L129.0 352.5L128.6 352.0L128.3 351.0L128.6 350.0L129.0 349.5L129.6 349.0L130.2 348.6L130.7 348.4L131.5 348.0L132.2 347.8L133.1 347.5L133.7 347.3L134.7 347.1L135.5 347.0ZM139.0 361.5L139.7 361.4L140.7 361.3L141.7 361.2L142.7 361.3L143.7 361.3L144.5 361.5L145.2 361.6L146.2 362.0L146.7 362.1L147.4 362.5L148.2 362.9L148.7 363.2L149.2 363.6L149.7 364.0L150.2 364.5L150.7 365.0L151.2 365.5L151.7 366.1L152.2 366.7L152.7 367.2L153.2 367.8L153.7 368.3L154.2 368.7L154.7 369.1L155.2 369.5L155.9 370.0L156.7 370.5L157.2 370.8L157.7 371.1L158.4 371.5L159.2 372.0L159.7 372.2L160.2 372.5L161.2 373.0L161.7 373.2L162.4 373.5L163.2 373.8L163.7 374.0L164.7 374.4L165.2 374.6L166.0 375.0L166.7 375.4L167.2 375.7L167.7 376.0L168.3 376.5L168.8 377.0L169.3 377.5L169.7 378.0L170.2 378.7L170.6 379.5L170.8 380.0L171.1 381.0L171.2 381.8L171.2 382.5L171.1 383.0L170.9 384.0L170.7 384.5L170.2 385.3L169.7 385.9L169.2 386.3L168.7 386.7L168.2 387.0L167.2 387.5L166.7 387.6L165.7 387.9L164.7 388.0L163.7 388.0L162.7 387.9L161.7 387.7L160.9 387.5L160.2 387.3L159.2 387.0L158.7 386.9L157.7 386.6L157.2 386.5L156.2 386.3L155.2 386.1L154.7 386.0L153.7 385.9L152.7 385.7L151.7 385.5L151.2 385.4L150.2 385.2L149.2 385.0L148.7 384.9L147.7 384.7L147.1 384.5L146.2 384.3L145.2 384.0L144.7 383.9L143.7 383.6L143.2 383.5L142.2 383.3L141.2 383.0L140.7 382.9L139.7 382.8L138.7 382.6L138.2 382.5L137.2 382.4L136.2 382.2L135.3 382.0L134.7 381.9L133.7 381.6L133.2 381.5L132.2 381.1L131.7 380.9L130.9 380.5L130.2 380.1L129.7 379.7L129.2 379.3L128.7 378.9L128.2 378.3L127.7 377.7L127.3 377.0L127.1 376.5L126.7 375.5L126.6 375.0L126.5 374.0L126.4 373.0L126.5 372.0L126.7 371.2L126.9 370.5L127.2 369.7L127.5 369.0L127.8 368.5L128.2 367.8L128.7 367.1L129.2 366.5L129.7 366.0L130.2 365.5L130.7 365.1L131.2 364.7L131.7 364.3L132.2 364.0L133.1 363.5L133.7 363.2L134.2 363.0L135.2 362.5L135.7 362.4L136.7 362.0L137.2 361.9L138.2 361.6L139.0 361.5Z" fill="#ffffff" stroke="#7d7d7d" stroke-width="0.45" fill-rule="evenodd" stroke-linejoin="round"/>
<path d="M137.1 349.5L137.7 349.4L138.7 349.3L139.7 349.2L140.7 349.2L141.7 349.2L142.7 349.2L143.7 349.3L144.7 349.4L145.7 349.5L146.2 349.6L147.2 349.9L147.7 350.1L148.4 350.5L149.0 351.0L149.2 351.5L149.2 352.0L148.7 352.7L148.2 353.1L147.2 353.5L146.7 353.6L145.7 353.7L144.7 353.7L143.7 353.7L142.7 353.6L141.9 353.5L141.2 353.4L140.2 353.3L139.2 353.1L138.3 353.0L137.7 352.9L136.7 352.6L136.2 352.4L135.4 352.0L134.9 351.5L135.0 350.5L135.7 350.0L136.2 349.8L137.1 349.5ZM157.8 351.5L158.7 351.1L159.7 351.0L160.7 351.3L161.2 351.7L161.6 352.5L161.2 353.5L160.7 353.8L160.2 354.1L159.2 354.2L158.4 354.0L157.7 353.6L157.2 353.0L157.1 352.5L157.3 352.0L157.8 351.5ZM139.0 363.0L139.7 362.9L140.7 362.8L141.7 362.8L142.7 362.8L143.7 363.0L144.2 363.1L145.2 363.4L145.7 363.6L146.6 364.0L147.2 364.3L147.7 364.7L148.2 365.1L148.7 365.5L149.2 366.0L149.7 366.6L150.2 367.2L150.7 367.8L151.2 368.4L151.7 369.0L152.2 369.5L152.7 369.9L153.2 370.3L153.7 370.7L154.2 371.0L155.0 371.5L155.7 371.9L156.2 372.1L156.9 372.5L157.7 372.9L158.2 373.2L158.8 373.5L159.7 373.9L160.2 374.1L161.1 374.5L161.7 374.7L162.6 375.0L163.2 375.2L164.0 375.5L164.7 375.8L165.2 376.0L166.2 376.5L166.7 376.8L167.2 377.2L167.7 377.7L168.2 378.2L168.7 378.8L169.1 379.5L169.4 380.0L169.7 381.0L169.7 381.5L169.7 382.5L169.7 383.0L169.3 384.0L169.0 384.5L168.6 385.0L168.0 385.5L167.2 386.0L166.7 386.3L166.0 386.5L165.2 386.7L164.2 386.8L163.2 386.7L162.2 386.6L161.7 386.5L160.7 386.2L160.2 386.0L159.2 385.7L158.7 385.5L157.7 385.2L157.2 385.0L156.2 384.8L155.2 384.6L154.7 384.5L153.7 384.3L152.7 384.1L152.0 384.0L151.2 383.8L150.2 383.6L149.7 383.5L148.7 383.2L148.0 383.0L147.2 382.8L146.2 382.5L145.7 382.4L144.7 382.1L144.2 382.0L143.2 381.7L142.2 381.5L141.7 381.5L140.7 381.3L139.7 381.2L138.7 381.0L138.2 381.0L137.2 380.8L136.2 380.6L135.7 380.5L134.7 380.3L134.0 380.0L133.2 379.7L132.7 379.5L131.8 379.0L131.2 378.6L130.7 378.2L130.2 377.7L129.7 377.1L129.3 376.5L129.0 376.0L128.7 375.2L128.5 374.5L128.4 373.5L128.4 372.5L128.5 371.5L128.7 370.9L129.0 370.0L129.2 369.5L129.7 368.6L130.1 368.0L130.5 367.5L131.0 367.0L131.5 366.5L132.1 366.0L132.7 365.5L133.2 365.2L133.7 364.9L134.4 364.5L135.2 364.1L135.7 363.9L136.7 363.6L137.2 363.4L138.2 363.2L139.0 363.0Z" fill="#f3f3f3" stroke="#828282" stroke-width="0.45" fill-rule="evenodd" stroke-linejoin="round"/>
<path d="M140.3 364.0L141.2 364.0L142.2 364.0L142.7 364.0L143.7 364.2L144.5 364.5L145.2 364.8L145.7 365.0L146.5 365.5L147.2 366.0L147.7 366.5L148.2 367.0L148.6 367.5L149.0 368.0L149.4 368.5L149.8 369.0L150.2 369.6L150.7 370.2L151.2 370.7L151.7 371.1L152.3 371.5L153.0 372.0L153.7 372.4L154.2 372.6L154.9 373.0L155.7 373.4L156.2 373.6L157.0 374.0L157.7 374.4L158.2 374.6L159.1 375.0L159.7 375.2L160.4 375.5L161.2 375.7L162.2 376.0L162.7 376.1L163.7 376.5L164.2 376.6L165.0 377.0L165.7 377.4L166.2 377.7L166.7 378.1L167.2 378.6L167.7 379.3L168.1 380.0L168.3 380.5L168.6 381.5L168.5 382.5L168.2 383.4L167.9 384.0L167.4 384.5L166.7 385.0L166.2 385.3L165.6 385.5L164.7 385.7L163.7 385.8L162.7 385.7L161.9 385.5L161.2 385.3L160.4 385.0L159.7 384.7L159.1 384.5L158.2 384.1L157.7 384.0L156.7 383.7L156.0 383.5L155.2 383.4L154.2 383.2L153.3 383.0L152.7 382.9L151.7 382.6L151.2 382.5L150.2 382.2L149.4 382.0L148.7 381.8L147.8 381.5L147.2 381.3L146.2 381.0L145.7 380.9L144.7 380.6L144.1 380.5L143.2 380.3L142.2 380.2L141.2 380.1L140.5 380.0L139.7 379.9L138.7 379.8L137.7 379.7L136.8 379.5L136.2 379.4L135.2 379.1L134.7 378.9L133.7 378.5L133.2 378.2L132.7 377.9L132.1 377.5L131.5 377.0L131.1 376.5L130.7 375.9L130.3 375.0L130.1 374.5L129.9 373.5L129.9 372.5L130.0 371.5L130.2 370.9L130.5 370.0L130.8 369.5L131.2 368.8L131.7 368.1L132.2 367.6L132.7 367.1L133.2 366.7L133.7 366.3L134.2 366.0L135.1 365.5L135.7 365.2L136.2 365.0L137.2 364.6L137.7 364.5L138.7 364.2L139.7 364.1L140.3 364.0Z" fill="#dfdfdf" stroke="#7d7d7d" stroke-width="0.45" fill-rule="evenodd" stroke-linejoin="round"/>
<path d="M137.9 365.5L138.7 365.3L139.7 365.1L140.7 365.0L141.7 365.0L142.7 365.1L143.7 365.4L144.2 365.6L145.1 366.0L145.7 366.4L146.2 366.8L146.7 367.2L147.2 367.7L147.7 368.4L148.2 369.0L148.5 369.5L148.8 370.0L149.2 370.5L149.7 371.1L150.2 371.7L150.7 372.1L151.2 372.5L152.1 373.0L152.7 373.3L153.2 373.6L154.2 374.0L154.7 374.2L155.3 374.5L156.2 374.9L156.7 375.2L157.3 375.5L158.2 375.9L158.7 376.1L159.7 376.5L160.2 376.6L161.2 376.8L162.1 377.0L162.7 377.1L163.7 377.5L164.2 377.7L164.9 378.0L165.6 378.5L166.2 379.0L166.6 379.5L167.0 380.0L167.2 380.5L167.4 381.5L167.3 382.5L167.1 383.0L166.7 383.6L166.2 384.1L165.4 384.5L164.7 384.7L163.7 384.8L162.7 384.7L161.8 384.5L161.2 384.3L160.4 384.0L159.7 383.7L159.2 383.4L158.3 383.0L157.7 382.8L156.8 382.5L156.2 382.4L155.2 382.2L154.2 382.0L153.7 381.9L152.7 381.7L152.0 381.5L151.2 381.3L150.3 381.0L149.7 380.8L148.9 380.5L148.2 380.2L147.5 380.0L146.7 379.7L145.8 379.5L145.2 379.4L144.2 379.2L143.2 379.1L142.3 379.0L141.7 379.0L140.7 378.9L139.7 378.8L138.7 378.7L137.7 378.6L137.2 378.5L136.2 378.3L135.4 378.0L134.7 377.7L134.2 377.4L133.5 377.0L132.9 376.5L132.4 376.0L132.0 375.5L131.7 374.9L131.4 374.0L131.2 373.0L131.3 372.0L131.5 371.0L131.7 370.5L132.2 369.5L132.5 369.0L132.9 368.5L133.4 368.0L134.0 367.5L134.7 367.0L135.2 366.7L135.7 366.4L136.5 366.0L137.2 365.7L137.9 365.5Z" fill="#c3c3c3" stroke="#6e6e6e" stroke-width="0.45" fill-rule="evenodd" stroke-linejoin="round"/>
<path d="M140.2 366.0L140.7 366.0L141.7 366.0L142.2 366.0L143.2 366.3L143.8 366.5L144.7 367.0L145.2 367.3L145.7 367.7L146.2 368.2L146.7 368.9L147.1 369.5L147.4 370.0L147.7 370.5L148.2 371.3L148.7 372.0L149.0 372.5L149.5 373.0L150.1 373.5L150.7 373.9L151.2 374.1L152.1 374.5L152.7 374.8L153.3 375.0L154.2 375.4L154.7 375.6L155.5 376.0L156.2 376.3L156.7 376.6L157.5 377.0L158.2 377.3L158.7 377.5L159.7 377.7L160.7 377.8L161.7 378.0L162.2 378.0L163.2 378.3L163.8 378.5L164.7 379.0L165.2 379.4L165.7 380.0L166.0 380.5L166.2 381.0L166.2 382.0L166.1 382.5L165.7 383.0L165.0 383.5L164.2 383.8L163.2 383.8L162.2 383.7L161.7 383.5L160.7 383.1L160.2 382.8L159.7 382.5L158.8 382.0L158.2 381.7L157.7 381.4L156.7 381.1L155.8 381.0L155.2 380.9L154.2 380.8L153.2 380.6L152.7 380.4L151.7 380.1L151.2 380.0L150.2 379.6L149.7 379.4L148.8 379.0L148.2 378.8L147.5 378.5L146.7 378.3L145.7 378.1L145.2 378.0L144.2 377.9L143.2 377.9L142.2 377.9L141.2 377.9L140.2 377.9L139.2 377.8L138.2 377.7L137.2 377.5L136.7 377.4L135.7 377.0L135.2 376.8L134.7 376.5L134.0 376.0L133.5 375.5L133.1 375.0L132.7 374.1L132.5 373.5L132.4 372.5L132.6 371.5L132.7 371.0L133.2 370.0L133.5 369.5L133.9 369.0L134.4 368.5L135.0 368.0L135.7 367.5L136.2 367.2L136.7 367.0L137.7 366.6L138.2 366.4L139.2 366.1L140.2 366.0Z" fill="#9a9a9a" stroke="#5a5a5a" stroke-width="0.45" fill-rule="evenodd" stroke-linejoin="round"/>
<path d="M139.6 367.0L140.2 366.9L141.2 366.9L142.1 367.0L142.7 367.1L143.6 367.5L144.2 367.8L144.7 368.2L145.2 368.7L145.7 369.3L146.2 370.0L146.4 370.5L146.7 371.0L147.1 372.0L147.3 372.5L147.7 373.5L147.9 374.0L148.2 374.7L148.6 375.5L148.2 376.1L147.2 376.2L146.2 376.4L145.3 376.5L144.7 376.6L143.7 376.7L142.7 376.8L141.7 376.9L140.7 376.9L139.7 376.9L138.7 376.8L137.7 376.6L137.2 376.5L136.2 376.1L135.7 375.9L135.2 375.5L134.6 375.0L134.2 374.5L133.8 373.5L133.7 373.0L133.7 372.0L133.8 371.5L134.1 370.5L134.4 370.0L134.8 369.5L135.3 369.0L135.9 368.5L136.7 368.0L137.2 367.8L137.8 367.5L138.7 367.2L139.6 367.0ZM149.9 376.5L150.7 376.4L151.7 376.5L152.2 376.6L153.2 376.9L153.7 377.2L154.3 377.5L154.8 378.0L154.7 378.6L153.7 378.7L152.7 378.6L152.2 378.4L151.4 378.0L150.7 377.5L150.2 377.1L149.9 376.5ZM160.4 379.5L161.2 379.3L162.2 379.3L163.2 379.5L163.7 379.8L164.2 380.1L164.7 380.8L164.8 381.5L164.7 382.0L164.0 382.5L163.2 382.6L162.3 382.5L161.7 382.2L161.2 381.9L160.6 381.5L160.2 381.0L159.9 380.0L160.4 379.5Z" fill="#696969" stroke="#414141" stroke-width="0.45" fill-rule="evenodd" stroke-linejoin="round"/>
<path d="M139.2 368.0L139.7 367.9L140.7 367.8L141.7 367.9L142.3 368.0L143.2 368.4L143.7 368.7L144.2 369.1L144.7 369.6L145.2 370.4L145.5 371.0L145.7 371.8L145.8 372.5L145.8 373.5L145.6 374.0L145.2 374.6L144.7 375.0L143.7 375.5L143.2 375.6L142.2 375.9L141.2 376.0L140.7 376.0L139.7 376.0L139.2 376.0L138.2 375.8L137.3 375.5L136.7 375.2L136.2 374.9L135.7 374.5L135.2 373.8L134.9 373.0L134.8 372.0L135.1 371.0L135.4 370.5L135.8 370.0L136.3 369.5L136.9 369.0L137.7 368.5L138.2 368.3L139.2 368.0Z" fill="#333333" stroke="#282828" stroke-width="0.45" fill-rule="evenodd" stroke-linejoin="round"/>
<path d="M139.0 369.0L139.7 368.8L140.7 368.7L141.7 368.8L142.3 369.0L143.2 369.5L143.7 370.0L144.0 370.5L144.3 371.0L144.5 372.0L144.4 373.0L144.2 373.5L143.7 374.0L143.0 374.5L142.2 374.8L141.5 375.0L140.7 375.1L139.7 375.1L138.9 375.0L138.2 374.8L137.5 374.5L136.8 374.0L136.4 373.5L136.1 373.0L136.0 372.0L136.2 371.4L136.7 370.5L137.2 370.0L137.7 369.6L138.2 369.3L139.0 369.0Z" fill="#000000" stroke="#141414" stroke-width="0.45" fill-rule="evenodd" stroke-linejoin="round"/>
<path d="M139.7 370.0L140.2 369.9L141.2 369.9L141.7 370.1L142.3 370.5L142.7 371.0L143.0 372.0L142.7 372.8L142.2 373.3L141.7 373.6L140.7 373.9L139.7 373.9L138.7 373.6L138.2 373.3L137.7 372.6L137.6 372.0L137.8 371.5L138.2 370.9L138.7 370.4L139.7 370.0Z" fill="#c3c3c3" stroke="#141414" stroke-width="0.45" fill-rule="evenodd" stroke-linejoin="round"/>
<path d="M77.8 413.4L78.6 413.3L79.6 413.2L80.6 413.3L81.6 413.4L82.1 413.5L83.1 413.8L83.6 414.0L84.4 414.4L85.1 414.8L85.6 415.2L86.1 415.7L86.6 416.1L87.6 416.2L88.4 415.9L89.1 415.6L89.6 415.3L90.6 414.9L91.1 414.8L92.1 414.7L93.1 414.7L94.1 414.9L94.6 415.1L95.2 415.4L96.0 415.9L96.5 416.4L96.9 416.9L97.3 417.4L97.6 418.0L97.9 418.9L98.1 419.9L98.0 420.9L97.8 421.9L97.6 422.4L97.1 423.3L96.6 423.9L96.1 424.4L95.6 424.8L95.1 425.1L94.2 425.4L93.6 425.6L92.6 425.7L91.6 425.6L91.0 425.4L90.1 425.1L89.6 424.8L89.1 424.4L88.5 423.9L88.1 423.4L87.6 422.8L87.1 422.1L86.6 421.5L86.1 421.2L85.1 421.3L84.6 421.6L83.9 421.9L83.1 422.3L82.6 422.4L81.6 422.7L80.8 422.9L80.1 423.0L79.1 423.1L78.1 423.2L77.1 423.2L76.1 423.3L75.1 423.3L74.1 423.3L73.2 423.4L72.6 423.5L71.6 423.6L70.6 423.7L69.6 423.8L68.6 423.8L67.6 423.8L66.6 423.7L65.6 423.5L65.1 423.4L64.1 423.1L63.5 422.9L62.6 422.5L62.1 422.2L61.6 421.8L61.1 421.4L60.6 420.9L60.1 420.0L59.9 419.4L59.9 418.4L60.1 417.9L60.6 417.0L61.1 416.5L61.6 416.0L62.1 415.7L62.7 415.4L63.6 415.0L64.1 414.8L65.1 414.5L66.0 414.4L66.6 414.3L67.6 414.3L68.6 414.3L69.6 414.3L70.3 414.4L71.1 414.5L72.1 414.5L73.1 414.5L73.6 414.4L74.6 414.2L75.6 413.9L76.1 413.8L77.1 413.5L77.8 413.4ZM71.2 430.9L72.1 430.8L73.1 430.8L74.1 430.7L75.1 430.8L76.1 430.8L76.6 430.9L77.6 431.2L78.2 431.4L79.0 431.9L79.5 432.4L79.9 432.9L80.2 433.4L80.5 434.4L80.6 434.9L80.8 435.9L80.9 436.9L80.9 437.9L80.9 438.9L80.8 439.9L80.8 440.9L80.8 441.9L80.8 442.9L81.0 443.9L81.1 444.4L81.6 445.2L82.1 445.6L82.6 446.0L83.1 446.5L83.6 447.0L84.0 447.9L84.0 448.9L83.6 449.5L83.1 450.0L82.2 450.4L81.6 450.5L80.6 450.4L80.1 450.3L79.1 450.2L78.1 450.3L77.6 450.5L76.8 450.9L76.1 451.3L75.6 451.6L74.9 451.9L74.1 452.3L73.6 452.5L72.6 452.8L71.9 452.9L71.1 453.0L70.1 453.1L69.1 453.1L68.1 453.1L67.1 453.0L66.1 453.0L65.6 452.9L64.6 452.7L63.9 452.4L63.1 452.0L62.6 451.5L62.1 450.9L61.8 450.4L61.6 449.9L61.3 448.9L61.2 447.9L61.1 446.9L61.1 446.4L61.1 445.4L61.1 444.9L61.1 443.9L61.2 442.9L61.3 441.9L61.4 440.9L61.6 439.9L61.7 439.4L61.9 438.4L62.1 437.9L62.5 436.9L62.7 436.4L63.1 435.7L63.6 435.0L64.1 434.4L64.5 433.9L65.0 433.4L65.6 432.9L66.1 432.6L66.6 432.3L67.3 431.9L68.1 431.6L68.6 431.4L69.6 431.1L70.6 431.0L71.2 430.9ZM93.0 437.4L93.6 437.2L94.6 437.2L95.6 437.4L96.1 437.6L96.8 437.9L97.5 438.4L98.1 438.9L98.6 439.4L99.0 439.9L99.4 440.4L99.7 440.9L100.1 441.5L100.6 442.3L101.0 442.9L101.2 443.4L101.6 444.2L101.9 444.9L102.1 445.4L102.4 446.4L102.6 447.2L102.7 447.9L102.8 448.9L102.8 449.9L102.7 450.9L102.6 451.4L102.3 452.4L102.1 452.9L101.6 453.9L101.3 454.4L101.0 454.9L100.6 455.4L100.1 456.0L99.6 456.5L99.1 456.9L98.3 457.4L97.6 457.8L97.1 458.0L96.1 458.3L95.6 458.4L94.6 458.5L93.7 458.4L93.1 458.3L92.1 457.9L91.6 457.7L91.1 457.3L90.5 456.9L89.9 456.4L89.5 455.9L89.1 455.4L88.6 454.7L88.2 453.9L87.9 453.4L87.6 452.6L87.3 451.9L87.1 451.0L86.9 450.4L86.7 449.4L86.7 448.4L86.8 447.4L87.0 446.4L87.1 445.9L87.4 444.9L87.6 444.4L88.0 443.4L88.2 442.9L88.6 442.0L88.9 441.4L89.2 440.9L89.6 440.2L90.1 439.5L90.6 439.0L91.1 438.5L91.6 438.1L92.1 437.8L93.0 437.4Z" fill="#ffffff" stroke="#7d7d7d" stroke-width="0.45" fill-rule="evenodd" stroke-linejoin="round"/>
<path d="M77.6 415.4L78.1 415.3L79.1 415.1L80.1 415.1L81.1 415.3L81.6 415.4L82.6 415.8L83.1 416.2L83.6 416.7L83.9 417.4L84.0 418.4L83.6 419.2L83.1 419.7L82.6 420.1L82.1 420.4L81.1 420.8L80.6 420.9L79.6 421.1L78.6 421.1L77.6 421.1L76.6 421.0L75.6 421.0L74.6 420.9L73.6 421.0L72.6 421.1L71.6 421.3L71.1 421.4L70.1 421.6L69.1 421.8L68.1 421.8L67.1 421.8L66.1 421.6L65.5 421.4L64.6 421.0L64.1 420.7L63.6 420.2L63.2 419.4L63.1 418.9L63.2 418.4L63.6 417.7L64.1 417.2L64.6 416.9L65.6 416.5L66.1 416.3L67.1 416.2L68.1 416.1L69.1 416.2L70.1 416.4L70.6 416.5L71.6 416.6L72.6 416.8L73.6 416.7L74.6 416.5L75.1 416.3L76.1 415.9L76.6 415.7L77.6 415.4ZM91.2 415.9L92.1 415.7L93.1 415.7L93.8 415.9L94.6 416.2L95.1 416.5L95.6 416.9L96.1 417.5L96.6 418.4L96.8 418.9L97.0 419.9L97.0 420.9L96.7 421.9L96.4 422.4L96.1 422.9L95.6 423.4L95.0 423.9L94.1 424.3L93.6 424.5L92.6 424.6L91.6 424.5L91.1 424.3L90.2 423.9L89.6 423.4L89.1 422.9L88.7 422.4L88.4 421.9L88.1 421.1L87.9 420.4L87.9 419.4L88.1 418.6L88.4 417.9L88.8 417.4L89.3 416.9L90.0 416.4L90.6 416.1L91.2 415.9ZM70.9 432.9L71.6 432.8L72.6 432.6L73.6 432.5L74.6 432.5L75.6 432.6L76.6 432.9L77.1 433.1L77.6 433.4L78.1 433.9L78.6 434.6L78.9 435.4L79.1 436.1L79.2 436.9L79.3 437.9L79.3 438.9L79.2 439.9L79.1 440.9L79.1 441.4L79.0 442.4L78.8 443.4L78.6 444.4L78.5 444.9L78.1 445.9L77.9 446.4L77.6 446.9L77.1 447.6L76.6 448.1L76.1 448.6L75.6 449.0L75.1 449.4L74.3 449.9L73.6 450.2L73.1 450.5L72.1 450.8L71.6 450.9L70.6 451.1L69.6 451.2L68.6 451.3L67.6 451.3L66.6 451.2L65.6 451.0L65.1 450.8L64.4 450.4L63.8 449.9L63.4 449.4L63.1 448.7L62.8 447.9L62.7 446.9L62.6 445.9L62.6 444.9L62.7 443.9L62.8 442.9L63.0 441.9L63.1 441.3L63.3 440.4L63.6 439.4L63.7 438.9L64.1 438.0L64.4 437.4L64.7 436.9L65.1 436.3L65.6 435.7L66.1 435.2L66.6 434.7L67.1 434.4L67.9 433.9L68.6 433.6L69.1 433.4L70.1 433.1L70.9 432.9ZM93.1 439.4L93.6 439.2L94.6 439.2L95.6 439.4L96.1 439.6L96.6 439.9L97.3 440.4L97.9 440.9L98.3 441.4L98.8 441.9L99.1 442.4L99.6 443.0L100.1 443.9L100.4 444.4L100.7 444.9L101.1 445.9L101.3 446.4L101.5 447.4L101.6 447.9L101.7 448.9L101.7 449.9L101.6 450.5L101.4 451.4L101.1 452.4L100.9 452.9L100.6 453.4L100.1 454.1L99.6 454.8L99.1 455.3L98.6 455.7L98.1 456.0L97.4 456.4L96.6 456.8L96.1 456.9L95.1 457.1L94.1 457.0L93.5 456.9L92.6 456.6L92.1 456.4L91.4 455.9L90.8 455.4L90.3 454.9L89.9 454.4L89.5 453.9L89.1 453.1L88.8 452.4L88.6 451.9L88.3 450.9L88.1 449.9L88.1 449.4L88.1 448.4L88.1 447.9L88.2 446.9L88.4 445.9L88.6 445.4L88.9 444.4L89.1 443.9L89.6 443.0L89.9 442.4L90.2 441.9L90.6 441.4L91.1 440.8L91.6 440.3L92.1 439.9L93.1 439.4Z" fill="#f2f2f2" stroke="#828282" stroke-width="0.45" fill-rule="evenodd" stroke-linejoin="round"/>
<path d="M91.0 416.9L91.6 416.7L92.6 416.6L93.6 416.7L94.1 416.9L94.8 417.4L95.3 417.9L95.7 418.4L96.0 419.4L96.1 419.9L96.1 420.6L95.9 421.4L95.6 422.1L95.1 422.7L94.6 423.1L94.1 423.4L93.1 423.7L92.1 423.7L91.2 423.4L90.6 423.1L90.1 422.7L89.6 422.1L89.2 421.4L89.0 420.9L88.9 419.9L89.1 419.0L89.3 418.4L89.7 417.9L90.2 417.4L91.0 416.9ZM70.7 434.4L71.6 434.2L72.6 434.0L73.6 434.0L74.6 434.0L75.6 434.2L76.1 434.4L76.8 434.9L77.2 435.4L77.6 436.1L77.9 436.9L78.0 437.9L78.0 438.9L78.0 439.9L77.9 440.9L77.7 441.9L77.6 442.4L77.3 443.4L77.1 444.0L76.7 444.9L76.5 445.4L76.1 446.0L75.6 446.7L75.1 447.2L74.6 447.7L74.1 448.1L73.6 448.4L72.8 448.9L72.1 449.2L71.5 449.4L70.6 449.6L69.6 449.8L68.7 449.9L68.1 449.9L67.6 449.9L66.6 449.7L65.8 449.4L65.1 448.9L64.6 448.4L64.4 447.9L64.1 447.2L63.9 446.4L63.8 445.4L63.9 444.4L64.0 443.4L64.1 442.6L64.2 441.9L64.5 440.9L64.7 440.4L65.0 439.4L65.2 438.9L65.6 438.2L66.1 437.5L66.5 436.9L67.0 436.4L67.6 435.9L68.1 435.5L68.6 435.2L69.3 434.9L70.1 434.6L70.7 434.4ZM93.4 440.9L94.1 440.8L95.1 440.8L95.6 441.0L96.5 441.4L97.1 441.9L97.6 442.3L98.1 442.8L98.6 443.4L99.0 443.9L99.3 444.4L99.6 444.9L100.1 445.9L100.3 446.4L100.6 447.3L100.7 447.9L100.8 448.9L100.8 449.9L100.6 450.9L100.5 451.4L100.1 452.4L99.9 452.9L99.5 453.4L99.1 453.9L98.6 454.4L98.0 454.9L97.2 455.4L96.6 455.7L95.7 455.9L95.1 456.0L94.1 455.9L93.6 455.8L92.6 455.4L92.1 455.2L91.6 454.8L91.1 454.3L90.6 453.7L90.1 453.0L89.8 452.4L89.6 451.9L89.3 450.9L89.1 450.1L89.0 449.4L89.0 448.4L89.1 447.4L89.2 446.9L89.4 445.9L89.6 445.4L90.0 444.4L90.3 443.9L90.6 443.4L91.1 442.6L91.6 442.1L92.1 441.6L92.6 441.3L93.4 440.9Z" fill="#dedede" stroke="#7d7d7d" stroke-width="0.45" fill-rule="evenodd" stroke-linejoin="round"/>
<path d="M91.0 417.9L91.6 417.6L92.6 417.4L93.6 417.6L94.1 417.9L94.6 418.4L95.1 419.2L95.3 419.9L95.2 420.9L95.0 421.4L94.6 422.0L94.1 422.4L93.1 422.8L92.1 422.8L91.1 422.4L90.6 422.0L90.2 421.4L90.0 420.9L89.8 419.9L90.1 418.9L90.4 418.4L91.0 417.9ZM71.6 435.4L72.1 435.3L73.1 435.2L74.1 435.3L74.7 435.4L75.6 435.8L76.1 436.3L76.5 436.9L76.7 437.4L76.9 438.4L76.9 439.4L76.9 440.4L76.7 441.4L76.6 441.9L76.3 442.9L76.1 443.4L75.6 444.4L75.3 444.9L74.9 445.4L74.5 445.9L74.1 446.4L73.5 446.9L72.8 447.4L72.1 447.8L71.6 448.0L70.6 448.4L70.1 448.5L69.1 448.7L68.1 448.7L67.1 448.5L66.6 448.3L66.1 447.9L65.6 447.3L65.2 446.4L65.0 445.9L64.9 444.9L65.0 443.9L65.1 443.0L65.2 442.4L65.5 441.4L65.6 440.9L66.0 439.9L66.3 439.4L66.6 438.8L67.1 438.1L67.6 437.6L68.1 437.1L68.6 436.7L69.1 436.4L70.0 435.9L70.6 435.7L71.6 435.4ZM93.1 442.4L94.1 442.1L95.1 442.1L95.8 442.4L96.6 442.8L97.1 443.2L97.6 443.7L98.1 444.2L98.6 444.9L99.0 445.4L99.2 445.9L99.6 446.7L99.8 447.4L100.0 448.4L100.1 449.4L100.0 450.4L99.7 451.4L99.5 451.9L99.1 452.6L98.6 453.3L98.1 453.8L97.6 454.2L97.1 454.5L96.1 454.9L95.6 455.0L94.6 455.1L93.8 454.9L93.1 454.7L92.6 454.4L91.9 453.9L91.4 453.4L91.0 452.9L90.6 452.2L90.2 451.4L90.1 450.9L89.9 449.9L89.8 448.9L89.8 447.9L90.0 446.9L90.1 446.4L90.5 445.4L90.8 444.9L91.1 444.3L91.6 443.6L92.1 443.1L92.6 442.7L93.1 442.4Z" fill="#c0c0c0" stroke="#6e6e6e" stroke-width="0.45" fill-rule="evenodd" stroke-linejoin="round"/>
<path d="M92.2 418.4L92.9 418.4L93.6 418.7L94.1 419.3L94.3 419.9L94.2 420.9L93.8 421.4L93.1 421.8L92.6 421.9L92.1 421.8L91.4 421.4L91.0 420.9L90.8 419.9L91.1 419.1L91.6 418.6L92.2 418.4ZM71.9 436.4L72.6 436.3L73.6 436.4L74.1 436.5L74.8 436.9L75.3 437.4L75.6 437.9L75.9 438.9L75.9 439.9L75.8 440.9L75.6 441.8L75.4 442.4L75.1 443.1L74.7 443.9L74.4 444.4L74.0 444.9L73.5 445.4L73.0 445.9L72.3 446.4L71.6 446.8L71.1 447.1L70.1 447.4L69.6 447.5L68.6 447.5L67.9 447.4L67.1 447.0L66.6 446.5L66.2 445.9L66.1 445.4L66.0 444.4L66.0 443.4L66.1 442.8L66.3 441.9L66.6 441.0L66.9 440.4L67.1 439.9L67.6 439.1L68.1 438.5L68.6 438.0L69.1 437.6L69.6 437.3L70.3 436.9L71.1 436.6L71.9 436.4ZM93.6 443.4L94.1 443.3L95.1 443.3L95.6 443.4L96.5 443.9L97.1 444.4L97.6 444.9L98.0 445.4L98.4 445.9L98.7 446.4L99.1 447.4L99.2 447.9L99.4 448.9L99.3 449.9L99.1 450.9L98.9 451.4L98.6 452.1L98.1 452.7L97.6 453.2L97.1 453.6L96.5 453.9L95.6 454.2L94.6 454.2L93.6 454.0L93.1 453.8L92.5 453.4L92.0 452.9L91.6 452.4L91.1 451.6L90.8 450.9L90.6 450.0L90.5 449.4L90.5 448.4L90.6 447.7L90.8 446.9L91.1 446.0L91.4 445.4L91.7 444.9L92.2 444.4L92.7 443.9L93.6 443.4Z" fill="#969696" stroke="#5a5a5a" stroke-width="0.45" fill-rule="evenodd" stroke-linejoin="round"/>
<path d="M70.5 437.9L71.1 437.6L72.1 437.4L73.1 437.5L74.0 437.9L74.5 438.4L74.7 438.9L74.9 439.9L74.8 440.9L74.6 441.9L74.4 442.4L74.1 443.0L73.6 443.8L73.1 444.4L72.6 444.9L72.1 445.3L71.6 445.7L71.1 445.9L70.1 446.3L69.1 446.4L68.1 446.1L67.6 445.7L67.2 444.9L67.0 444.4L67.0 443.4L67.1 442.6L67.3 441.9L67.6 441.0L67.9 440.4L68.2 439.9L68.6 439.4L69.1 438.8L69.6 438.4L70.5 437.9ZM93.9 444.4L94.6 444.3L95.4 444.4L96.1 444.7L96.6 445.0L97.1 445.5L97.6 446.0L98.1 446.8L98.4 447.4L98.6 448.2L98.7 448.9L98.7 449.9L98.6 450.4L98.2 451.4L97.9 451.9L97.5 452.4L96.8 452.9L96.1 453.3L95.6 453.4L94.6 453.5L94.1 453.4L93.1 452.9L92.6 452.5L92.1 451.9L91.8 451.4L91.5 450.9L91.3 449.9L91.2 448.9L91.3 447.9L91.5 446.9L91.8 446.4L92.1 445.8L92.6 445.2L93.1 444.8L93.9 444.4Z" fill="#626262" stroke="#414141" stroke-width="0.45" fill-rule="evenodd" stroke-linejoin="round"/>
<path d="M70.7 438.9L71.6 438.6L72.6 438.7L73.1 438.9L73.6 439.5L73.8 440.4L73.7 441.4L73.6 441.9L73.1 442.8L72.7 443.4L72.2 443.9L71.6 444.4L71.1 444.7L70.6 444.9L69.6 445.1L69.0 444.9L68.4 444.4L68.1 443.5L68.1 442.9L68.2 442.4L68.5 441.4L68.7 440.9L69.1 440.3L69.6 439.7L70.1 439.3L70.7 438.9ZM93.9 445.4L94.6 445.3L95.5 445.4L96.1 445.7L96.6 446.1L97.1 446.6L97.6 447.4L97.8 447.9L98.0 448.9L98.0 449.9L97.7 450.9L97.4 451.4L97.0 451.9L96.3 452.4L95.6 452.7L94.6 452.7L93.7 452.4L93.1 452.0L92.6 451.4L92.3 450.9L92.1 450.4L91.9 449.4L91.9 448.4L92.1 447.4L92.3 446.9L92.7 446.4L93.1 445.9L93.9 445.4Z" fill="#2a2a2a" stroke="#282828" stroke-width="0.45" fill-rule="evenodd" stroke-linejoin="round"/>
<path d="M70.5 440.4L71.1 440.1L72.1 440.2L72.5 440.9L72.3 441.9L72.0 442.4L71.6 442.9L70.8 443.4L70.1 443.5L69.6 443.0L69.5 442.4L69.6 441.7L70.0 440.9L70.5 440.4ZM93.9 446.4L94.6 446.2L95.6 446.3L96.1 446.6L96.6 447.1L97.1 447.9L97.3 448.4L97.4 449.4L97.2 450.4L96.9 450.9L96.5 451.4L95.6 451.9L95.1 452.0L94.5 451.9L93.6 451.5L93.1 450.9L92.8 450.4L92.6 449.8L92.5 448.9L92.6 448.2L92.9 447.4L93.3 446.9L93.9 446.4Z" fill="#000000" stroke="#141414" stroke-width="0.45" fill-rule="evenodd" stroke-linejoin="round"/>
<path d="M94.4 447.4L95.1 447.3L95.6 447.5L96.1 448.0L96.5 448.9L96.4 449.9L96.1 450.4L95.4 450.9L94.6 450.9L94.1 450.7L93.6 450.0L93.4 449.4L93.5 448.4L93.8 447.9L94.4 447.4Z" fill="#c0c0c0" stroke="#141414" stroke-width="0.45" fill-rule="evenodd" stroke-linejoin="round"/>
<path d="M129.7 413.8L130.2 413.7L131.2 413.6L132.2 413.6L133.2 413.6L134.2 413.6L135.2 413.7L136.2 413.8L136.7 413.8L137.7 413.9L138.7 414.0L139.7 414.1L140.7 414.2L141.2 414.3L142.2 414.4L143.2 414.6L144.2 414.8L144.7 414.8L145.7 415.0L146.7 415.2L147.3 415.3L148.2 415.5L149.2 415.7L149.7 415.9L150.7 416.3L151.2 416.5L152.1 416.8L152.7 416.9L153.5 416.8L154.2 416.5L154.7 416.2L155.3 415.8L156.2 415.3L156.7 415.1L157.7 414.8L158.2 414.7L159.2 414.6L160.2 414.6L161.0 414.8L161.7 415.0L162.4 415.3L163.2 415.8L163.7 416.2L164.2 416.8L164.6 417.3L164.8 417.8L165.1 418.8L165.2 419.6L165.2 419.8L165.1 420.8L164.7 421.6L164.3 422.3L163.9 422.8L163.3 423.3L162.7 423.7L162.2 424.0L161.2 424.3L160.7 424.4L159.7 424.6L158.7 424.6L157.7 424.4L157.2 424.2L156.2 423.8L155.7 423.6L155.2 423.3L154.4 422.8L153.7 422.4L153.2 422.2L152.2 422.2L151.7 422.4L150.7 422.7L150.2 422.9L149.2 423.1L148.2 423.3L147.7 423.3L146.7 423.4L145.7 423.4L144.7 423.3L144.2 423.3L143.2 423.2L142.2 423.1L141.2 423.0L140.2 422.9L139.2 422.8L138.7 422.7L137.7 422.6L136.7 422.4L136.1 422.3L135.2 422.1L134.2 421.8L133.7 421.7L132.7 421.4L132.2 421.2L131.2 420.8L130.7 420.6L129.8 420.3L129.2 420.0L128.7 419.8L127.7 419.3L127.2 419.0L126.7 418.7L126.2 418.3L125.7 417.8L125.2 416.8L125.5 415.8L125.9 415.3L126.5 414.8L127.2 414.5L127.7 414.3L128.7 414.0L129.7 413.8ZM139.5 429.3L140.2 429.2L141.2 429.2L142.2 429.3L142.7 429.4L143.7 429.8L144.2 430.1L144.7 430.4L145.2 430.9L145.7 431.5L146.2 432.2L146.5 432.8L146.8 433.3L147.1 434.3L147.3 434.8L147.5 435.8L147.7 436.8L147.7 437.3L147.8 438.3L147.8 439.3L147.7 440.3L147.8 441.3L148.2 442.0L148.8 442.3L149.7 442.4L150.7 442.4L151.7 442.4L152.7 442.4L153.7 442.4L154.3 442.3L155.2 442.0L155.7 441.7L156.2 441.2L156.7 440.7L157.2 440.1L157.7 439.6L158.2 439.1L158.7 438.8L159.5 438.3L160.2 438.0L161.1 437.8L161.7 437.7L162.7 437.8L163.2 437.8L164.2 438.2L164.7 438.4L165.4 438.8L166.1 439.3L166.7 439.8L167.2 440.3L167.6 440.8L168.0 441.3L168.3 441.8L168.7 442.4L169.1 443.3L169.4 443.8L169.7 444.8L169.8 445.3L170.0 446.3L170.1 447.3L170.0 448.3L169.9 449.3L169.7 449.9L169.4 450.8L169.2 451.3L168.7 452.2L168.3 452.8L168.0 453.3L167.5 453.8L167.0 454.3L166.4 454.8L165.7 455.2L165.2 455.5L164.4 455.8L163.7 456.0L162.7 456.1L161.7 456.1L160.7 455.9L160.2 455.8L159.2 455.4L158.7 455.1L158.2 454.8L157.6 454.3L157.1 453.8L156.7 453.3L156.2 452.7L155.7 451.9L155.3 451.3L154.7 450.8L154.2 450.5L153.4 450.3L152.7 450.2L151.7 450.2L150.7 450.1L149.7 450.1L148.7 450.0L147.7 449.8L147.2 449.8L146.2 449.7L145.2 449.6L144.2 449.7L143.7 449.8L142.7 450.2L142.2 450.4L141.4 450.8L140.7 451.1L140.2 451.3L139.2 451.7L138.6 451.8L137.7 452.0L136.7 452.1L135.7 452.1L134.7 451.9L134.2 451.8L133.2 451.4L132.7 451.1L132.2 450.7L131.7 450.1L131.2 449.5L130.8 448.8L130.5 448.3L130.2 447.4L130.0 446.8L129.8 445.8L129.7 445.0L129.6 444.3L129.6 443.3L129.7 442.3L129.7 441.8L129.8 440.8L130.0 439.8L130.2 439.2L130.5 438.3L130.7 437.7L131.1 436.8L131.3 436.3L131.7 435.6L132.2 434.8L132.5 434.3L132.8 433.8L133.2 433.3L133.7 432.7L134.2 432.2L134.7 431.7L135.2 431.3L135.9 430.8L136.7 430.3L137.2 430.0L137.7 429.8L138.7 429.5L139.5 429.3Z" fill="#ffffff" stroke="#7d7d7d" stroke-width="0.45" fill-rule="evenodd" stroke-linejoin="round"/>
<path d="M132.7 415.3L133.7 415.2L134.7 415.2L135.7 415.2L136.7 415.2L137.7 415.2L138.5 415.3L139.2 415.4L140.2 415.5L141.2 415.6L142.1 415.8L142.7 415.9L143.7 416.1L144.5 416.3L145.2 416.5L146.2 416.7L146.7 416.8L147.7 417.2L148.2 417.4L149.1 417.8L149.7 418.3L150.1 418.8L150.3 419.3L150.2 419.9L149.7 420.6L149.2 420.9L148.3 421.3L147.7 421.5L146.7 421.6L145.7 421.7L144.7 421.7L143.7 421.7L142.7 421.7L141.7 421.7L140.7 421.6L139.7 421.6L138.7 421.4L137.8 421.3L137.2 421.2L136.2 421.0L135.5 420.8L134.7 420.5L134.0 420.3L133.2 420.0L132.7 419.7L131.8 419.3L131.2 418.9L130.7 418.6L130.2 418.2L129.7 417.6L129.5 416.8L129.8 416.3L130.6 415.8L131.2 415.6L132.2 415.4L132.7 415.3ZM158.1 415.8L158.7 415.7L159.7 415.6L160.7 415.8L161.2 415.9L161.9 416.3L162.6 416.8L163.1 417.3L163.5 417.8L163.7 418.3L164.0 419.3L163.9 420.3L163.7 420.9L163.2 421.8L162.7 422.3L162.2 422.7L161.7 423.0L160.9 423.3L160.2 423.5L159.2 423.5L158.2 423.4L157.7 423.3L156.7 422.8L156.2 422.5L155.7 422.1L155.2 421.6L154.7 420.9L154.4 420.3L154.3 419.3L154.7 418.3L155.0 417.8L155.4 417.3L156.0 416.8L156.7 416.3L157.2 416.1L158.1 415.8ZM138.5 431.3L139.2 431.1L140.2 431.0L141.2 431.1L142.2 431.3L142.7 431.5L143.3 431.8L143.9 432.3L144.4 432.8L144.8 433.3L145.2 433.9L145.6 434.8L145.8 435.3L146.1 436.3L146.2 437.2L146.3 437.8L146.3 438.8L146.3 439.8L146.2 440.8L146.2 441.3L146.2 442.3L146.4 442.8L146.9 443.3L147.7 443.4L148.7 443.4L149.7 443.4L150.7 443.3L151.7 443.3L152.7 443.3L153.7 443.3L154.2 443.3L155.2 443.1L156.1 442.8L156.7 442.4L157.2 441.9L157.7 441.4L158.2 440.9L158.7 440.5L159.2 440.1L159.8 439.8L160.7 439.4L161.3 439.3L162.2 439.2L162.7 439.3L163.7 439.5L164.3 439.8L165.2 440.3L165.7 440.7L166.2 441.1L166.7 441.6L167.2 442.3L167.6 442.8L167.9 443.3L168.2 444.0L168.5 444.8L168.7 445.6L168.8 446.3L168.9 447.3L168.9 448.3L168.7 449.1L168.5 449.8L168.2 450.6L167.9 451.3L167.6 451.8L167.2 452.3L166.7 452.9L166.2 453.4L165.6 453.8L164.7 454.3L164.2 454.5L163.2 454.7L162.7 454.8L162.0 454.8L161.2 454.7L160.2 454.4L159.7 454.2L159.0 453.8L158.3 453.3L157.8 452.8L157.4 452.3L157.0 451.8L156.7 451.3L156.2 450.7L155.7 450.1L155.2 449.8L154.2 449.5L153.2 449.4L152.2 449.3L151.7 449.3L150.7 449.2L149.7 449.2L148.7 449.0L147.7 448.8L147.2 448.7L146.2 448.5L145.4 448.3L144.7 448.2L143.7 448.2L143.2 448.3L142.2 448.7L141.7 448.9L140.7 449.3L140.2 449.5L139.5 449.8L138.7 450.0L137.7 450.2L136.7 450.3L135.7 450.2L134.7 449.9L134.2 449.7L133.6 449.3L133.0 448.8L132.6 448.3L132.2 447.7L131.7 446.8L131.5 446.3L131.3 445.3L131.2 444.8L131.1 443.8L131.0 442.8L131.1 441.8L131.2 441.0L131.3 440.3L131.6 439.3L131.7 438.8L132.1 437.8L132.3 437.3L132.7 436.6L133.2 435.8L133.5 435.3L133.8 434.8L134.2 434.3L134.7 433.8L135.2 433.3L135.7 432.8L136.4 432.3L137.2 431.8L137.7 431.6L138.5 431.3Z" fill="#f2f2f2" stroke="#828282" stroke-width="0.45" fill-rule="evenodd" stroke-linejoin="round"/>
<path d="M135.8 416.8L136.7 416.7L137.7 416.7L138.7 416.7L139.7 416.8L140.2 416.9L141.2 417.1L142.0 417.3L142.7 417.5L143.4 417.8L144.2 418.2L144.7 418.6L144.9 419.3L144.2 419.7L143.7 419.9L142.7 420.1L141.7 420.2L140.7 420.2L139.7 420.2L138.7 420.1L137.7 419.9L137.2 419.8L136.2 419.4L135.7 419.2L134.9 418.8L134.4 418.3L134.2 417.8L134.5 417.3L135.2 417.0L135.8 416.8ZM158.0 416.8L158.7 416.6L159.7 416.5L160.7 416.8L161.2 417.0L161.7 417.3L162.3 417.8L162.7 418.5L162.9 419.3L162.8 420.3L162.6 420.8L162.2 421.4L161.7 421.9L160.9 422.3L160.2 422.5L159.2 422.6L158.2 422.4L157.7 422.3L156.9 421.8L156.4 421.3L156.0 420.8L155.7 419.8L155.7 419.6L155.8 418.8L156.2 418.1L156.7 417.5L157.2 417.2L158.0 416.8ZM138.4 432.8L139.2 432.6L140.2 432.5L141.2 432.6L141.7 432.8L142.7 433.3L143.2 433.7L143.7 434.3L144.1 434.8L144.4 435.3L144.7 436.2L144.9 436.8L145.1 437.8L145.1 438.8L145.1 439.8L145.1 440.8L144.9 441.8L144.8 442.8L144.8 443.8L145.1 444.8L145.7 445.0L146.7 444.8L147.2 444.7L148.2 444.5L149.2 444.3L149.7 444.2L150.7 444.1L151.7 444.1L152.7 444.1L153.7 444.1L154.7 444.1L155.7 443.9L156.2 443.8L157.0 443.3L157.7 442.8L158.2 442.3L158.7 441.8L159.2 441.4L159.7 441.1L160.2 440.8L161.2 440.5L162.2 440.4L163.2 440.5L163.9 440.8L164.7 441.2L165.2 441.6L165.7 442.0L166.2 442.5L166.7 443.2L167.1 443.8L167.3 444.3L167.7 445.3L167.8 445.8L168.0 446.8L168.0 447.8L167.9 448.8L167.7 449.4L167.4 450.3L167.1 450.8L166.7 451.4L166.2 452.0L165.7 452.5L165.2 452.9L164.5 453.3L163.7 453.6L162.7 453.8L161.7 453.8L160.7 453.5L160.1 453.3L159.3 452.8L158.7 452.3L158.2 451.8L157.8 451.3L157.4 450.8L157.1 450.3L156.7 449.8L156.2 449.3L155.3 448.8L154.7 448.7L153.7 448.6L152.7 448.6L151.7 448.6L150.7 448.5L149.7 448.4L149.2 448.3L148.2 448.0L147.6 447.8L146.7 447.4L146.2 447.1L145.7 446.8L144.7 446.3L143.7 446.5L143.0 446.8L142.2 447.2L141.7 447.4L140.9 447.8L140.2 448.1L139.7 448.3L138.7 448.7L137.9 448.8L137.2 448.9L136.3 448.8L135.7 448.7L134.8 448.3L134.2 447.9L133.7 447.4L133.3 446.8L133.0 446.3L132.7 445.6L132.4 444.8L132.3 443.8L132.2 442.8L132.2 441.8L132.3 440.8L132.6 439.8L132.7 439.3L133.1 438.3L133.3 437.8L133.7 437.0L134.1 436.3L134.5 435.8L134.9 435.3L135.3 434.8L135.9 434.3L136.5 433.8L137.2 433.3L137.7 433.1L138.4 432.8Z" fill="#dedede" stroke="#7d7d7d" stroke-width="0.45" fill-rule="evenodd" stroke-linejoin="round"/>
<path d="M158.1 417.8L158.7 417.6L159.7 417.5L160.7 417.8L161.2 418.2L161.7 418.8L161.8 419.3L161.7 420.3L161.4 420.8L160.8 421.3L160.2 421.6L159.2 421.7L158.2 421.4L157.7 421.1L157.2 420.6L156.9 419.8L157.1 418.8L157.4 418.3L158.1 417.8ZM137.9 434.3L138.7 434.0L139.7 433.9L140.7 434.0L141.6 434.3L142.2 434.7L142.7 435.1L143.2 435.8L143.5 436.3L143.7 436.9L143.9 437.8L144.1 438.8L144.1 439.8L144.0 440.8L143.8 441.8L143.7 442.4L143.4 443.3L143.2 444.0L142.8 444.8L142.4 445.3L141.9 445.8L141.2 446.3L140.7 446.6L140.2 446.9L139.2 447.3L138.7 447.4L137.7 447.6L136.7 447.5L135.9 447.3L135.2 447.0L134.7 446.5L134.2 445.9L133.8 445.3L133.6 444.8L133.4 443.8L133.2 442.8L133.2 441.8L133.4 440.8L133.6 439.8L133.7 439.3L134.1 438.3L134.4 437.8L134.7 437.3L135.2 436.6L135.7 436.0L136.2 435.5L136.7 435.0L137.2 434.7L137.9 434.3ZM160.3 441.8L161.2 441.5L162.2 441.4L163.2 441.5L163.9 441.8L164.7 442.3L165.2 442.7L165.7 443.2L166.1 443.8L166.4 444.3L166.7 444.9L167.0 445.8L167.2 446.8L167.2 447.3L167.2 447.8L167.0 448.8L166.7 449.8L166.5 450.3L166.1 450.8L165.7 451.3L165.2 451.8L164.5 452.3L163.7 452.7L163.2 452.8L162.2 452.9L161.4 452.8L160.7 452.6L160.1 452.3L159.3 451.8L158.8 451.3L158.4 450.8L158.0 450.3L157.7 449.8L157.2 449.1L156.7 448.6L156.2 448.2L155.2 447.8L154.7 447.7L153.7 447.7L152.7 447.8L151.7 447.8L150.7 447.6L149.7 447.4L149.2 447.2L148.5 446.8L148.4 445.8L149.2 445.4L149.7 445.2L150.7 445.0L151.7 444.9L152.7 444.9L153.7 444.9L154.7 445.0L155.7 444.9L156.2 444.8L157.1 444.3L157.7 443.8L158.2 443.4L158.7 443.0L159.2 442.5L159.7 442.2L160.3 441.8Z" fill="#c0c0c0" stroke="#6e6e6e" stroke-width="0.45" fill-rule="evenodd" stroke-linejoin="round"/>
<path d="M159.0 418.8L159.7 418.8L160.2 419.2L160.3 419.8L159.8 420.3L159.2 420.4L158.7 420.1L158.5 419.3L159.0 418.8ZM138.6 435.3L139.2 435.2L140.2 435.2L140.7 435.3L141.5 435.8L142.0 436.3L142.4 436.8L142.7 437.4L143.0 438.3L143.1 439.3L143.1 440.3L143.0 441.3L142.7 442.3L142.5 442.8L142.2 443.5L141.7 444.3L141.3 444.8L140.7 445.3L140.2 445.6L139.7 445.9L138.7 446.3L138.2 446.4L137.2 446.4L136.7 446.3L135.7 445.8L135.2 445.3L134.9 444.8L134.6 444.3L134.3 443.3L134.2 442.4L134.2 441.8L134.2 441.3L134.4 440.3L134.7 439.3L134.9 438.8L135.2 438.3L135.7 437.5L136.2 436.9L136.7 436.4L137.2 436.0L137.7 435.7L138.6 435.3ZM161.5 442.3L162.2 442.2L162.7 442.3L163.7 442.6L164.2 442.9L164.7 443.3L165.2 443.8L165.7 444.5L166.1 445.3L166.3 445.8L166.5 446.8L166.5 447.8L166.3 448.8L166.1 449.3L165.7 450.1L165.2 450.8L164.7 451.2L164.2 451.6L163.7 451.8L162.7 452.1L161.7 452.1L160.8 451.8L160.2 451.5L159.7 451.1L159.2 450.7L158.7 450.1L158.2 449.3L157.9 448.8L157.5 448.3L157.2 447.8L156.7 447.0L156.5 446.3L156.8 445.8L157.3 445.3L157.8 444.8L158.3 444.3L158.9 443.8L159.5 443.3L160.2 442.8L160.7 442.5L161.5 442.3Z" fill="#969696" stroke="#5a5a5a" stroke-width="0.45" fill-rule="evenodd" stroke-linejoin="round"/>
<path d="M138.1 436.8L138.7 436.6L139.7 436.5L140.6 436.8L141.2 437.3L141.6 437.8L141.8 438.3L142.1 439.3L142.1 440.3L142.0 441.3L141.7 442.3L141.5 442.8L141.2 443.3L140.7 443.9L140.2 444.3L139.5 444.8L138.7 445.1L137.7 445.2L136.7 444.9L136.2 444.6L135.7 443.9L135.4 443.3L135.2 442.4L135.2 441.8L135.2 441.2L135.4 440.3L135.7 439.4L136.0 438.8L136.3 438.3L136.7 437.8L137.3 437.3L138.1 436.8ZM160.9 443.3L161.7 443.1L162.7 443.1L163.3 443.3L164.2 443.8L164.7 444.3L165.1 444.8L165.4 445.3L165.7 446.2L165.8 446.8L165.8 447.8L165.7 448.4L165.4 449.3L165.1 449.8L164.6 450.3L164.0 450.8L163.2 451.2L162.7 451.3L161.8 451.3L161.2 451.2L160.5 450.8L159.8 450.3L159.4 449.8L159.0 449.3L158.7 448.8L158.2 447.8L158.0 447.3L157.9 446.3L158.2 445.7L158.7 445.0L159.2 444.5L159.7 444.0L160.2 443.7L160.9 443.3Z" fill="#626262" stroke="#414141" stroke-width="0.45" fill-rule="evenodd" stroke-linejoin="round"/>
<path d="M137.9 438.3L138.7 438.0L139.7 438.0L140.2 438.3L140.7 438.9L141.0 439.8L141.0 440.8L140.8 441.8L140.5 442.3L140.2 442.8L139.7 443.3L138.7 443.8L138.2 443.9L137.6 443.8L136.9 443.3L136.5 442.8L136.3 441.8L136.3 440.8L136.6 439.8L136.9 439.3L137.3 438.8L137.9 438.3ZM160.5 444.3L161.2 444.0L162.2 443.8L163.2 444.1L163.7 444.4L164.2 444.8L164.7 445.5L165.0 446.3L165.2 447.3L165.0 448.3L164.7 449.1L164.2 449.7L163.7 450.1L163.2 450.4L162.2 450.6L161.2 450.4L160.7 450.1L160.2 449.7L159.7 449.2L159.2 448.3L159.0 447.8L158.8 446.8L159.1 445.8L159.4 445.3L159.9 444.8L160.5 444.3Z" fill="#2a2a2a" stroke="#282828" stroke-width="0.45" fill-rule="evenodd" stroke-linejoin="round"/>
<path d="M138.1 440.3L138.7 439.9L139.3 440.3L139.3 441.3L138.9 441.8L138.2 441.9L137.8 441.3L138.1 440.3ZM161.1 444.8L161.7 444.6L162.7 444.7L163.2 444.9L163.7 445.3L164.2 446.0L164.5 446.8L164.5 447.8L164.2 448.5L163.7 449.2L163.2 449.6L162.6 449.8L161.8 449.8L161.2 449.6L160.7 449.3L160.2 448.7L159.7 447.8L159.6 447.3L159.7 446.3L160.0 445.8L160.4 445.3L161.1 444.8Z" fill="#000000" stroke="#141414" stroke-width="0.45" fill-rule="evenodd" stroke-linejoin="round"/>
<path d="M161.2 445.8L162.2 445.6L162.9 445.8L163.3 446.3L163.6 447.3L163.3 448.3L162.7 448.8L162.2 448.9L161.7 448.8L161.0 448.3L160.7 447.8L160.6 446.8L160.8 446.3L161.2 445.8Z" fill="#c0c0c0" stroke="#141414" stroke-width="0.45" fill-rule="evenodd" stroke-linejoin="round"/>
<line x1="85.50" y1="335.80" x2="85.50" y2="400.60" stroke="#4a4a4a" stroke-width="1"/>
<line x1="40.60" y1="360.50" x2="106.50" y2="360.50" stroke="#4a4a4a" stroke-width="1"/>
<line x1="153.50" y1="336.00" x2="153.50" y2="400.40" stroke="#4a4a4a" stroke-width="1"/>
<line x1="109.20" y1="360.50" x2="174.80" y2="360.50" stroke="#4a4a4a" stroke-width="1"/>
<line x1="85.50" y1="402.40" x2="85.50" y2="468.60" stroke="#4a4a4a" stroke-width="1"/>
<line x1="40.60" y1="428.50" x2="106.50" y2="428.50" stroke="#4a4a4a" stroke-width="1"/>
<line x1="153.50" y1="402.80" x2="153.50" y2="468.60" stroke="#4a4a4a" stroke-width="1"/>
<line x1="109.20" y1="428.50" x2="174.80" y2="428.50" stroke="#4a4a4a" stroke-width="1"/>
<text x="41.70" y="345.00" font-size="9.4" stroke="#000" stroke-width="0.25" textLength="17.00" lengthAdjust="spacingAndGlyphs">3.22</text>
<text x="88.30" y="345.00" font-size="9.4" stroke="#000" stroke-width="0.25" textLength="17.00" lengthAdjust="spacingAndGlyphs">0.56</text>
<text x="41.70" y="400.10" font-size="9.4" stroke="#000" stroke-width="0.25" textLength="17.00" lengthAdjust="spacingAndGlyphs">95.1</text>
<text x="88.30" y="400.10" font-size="9.4" stroke="#000" stroke-width="0.25" textLength="17.00" lengthAdjust="spacingAndGlyphs">1.09</text>
<text x="110.30" y="345.20" font-size="9.4" stroke="#000" stroke-width="0.25" textLength="17.00" lengthAdjust="spacingAndGlyphs">7.91</text>
<text x="156.60" y="345.20" font-size="9.4" stroke="#000" stroke-width="0.25" textLength="17.00" lengthAdjust="spacingAndGlyphs">2.29</text>
<text x="110.30" y="399.90" font-size="9.4" stroke="#000" stroke-width="0.25" textLength="17.00" lengthAdjust="spacingAndGlyphs">78.4</text>
<text x="156.60" y="399.90" font-size="9.4" stroke="#000" stroke-width="0.25" textLength="17.00" lengthAdjust="spacingAndGlyphs">11.4</text>
<text x="41.70" y="411.60" font-size="9.4" stroke="#000" stroke-width="0.25" textLength="17.00" lengthAdjust="spacingAndGlyphs">8.39</text>
<text x="88.30" y="411.60" font-size="9.4" stroke="#000" stroke-width="0.25" textLength="17.00" lengthAdjust="spacingAndGlyphs">8.72</text>
<text x="41.70" y="467.20" font-size="9.4" stroke="#000" stroke-width="0.25" textLength="17.00" lengthAdjust="spacingAndGlyphs">39.4</text>
<text x="88.30" y="467.20" font-size="9.4" stroke="#000" stroke-width="0.25" textLength="17.00" lengthAdjust="spacingAndGlyphs">43.5</text>
<text x="110.30" y="412.00" font-size="9.4" stroke="#000" stroke-width="0.25" textLength="17.00" lengthAdjust="spacingAndGlyphs">10.7</text>
<text x="156.60" y="412.00" font-size="9.4" stroke="#000" stroke-width="0.25" textLength="17.00" lengthAdjust="spacingAndGlyphs">8.41</text>
<text x="110.30" y="467.20" font-size="9.4" stroke="#000" stroke-width="0.25" textLength="17.00" lengthAdjust="spacingAndGlyphs">37.4</text>
<text x="156.60" y="467.20" font-size="9.4" stroke="#000" stroke-width="0.25" textLength="17.00" lengthAdjust="spacingAndGlyphs">43.6</text>
<text x="39.40" y="344.58" font-size="2.6" text-anchor="end" font-weight="normal" fill="#999">10</text>
<line x1="39.60" y1="343.58" x2="40.60" y2="343.58" stroke="#999" stroke-width="0.4"/>
<text x="39.40" y="360.78" font-size="2.6" text-anchor="end" font-weight="normal" fill="#999">10</text>
<line x1="39.60" y1="359.78" x2="40.60" y2="359.78" stroke="#999" stroke-width="0.4"/>
<text x="39.40" y="376.98" font-size="2.6" text-anchor="end" font-weight="normal" fill="#999">10</text>
<line x1="39.60" y1="375.98" x2="40.60" y2="375.98" stroke="#999" stroke-width="0.4"/>
<text x="39.40" y="391.88" font-size="2.6" text-anchor="end" font-weight="normal" fill="#999">10</text>
<line x1="39.60" y1="390.88" x2="40.60" y2="390.88" stroke="#999" stroke-width="0.4"/>
<text x="39.40" y="411.34" font-size="2.6" text-anchor="end" font-weight="normal" fill="#999">10</text>
<line x1="39.60" y1="410.34" x2="40.60" y2="410.34" stroke="#999" stroke-width="0.4"/>
<text x="39.40" y="427.89" font-size="2.6" text-anchor="end" font-weight="normal" fill="#999">10</text>
<line x1="39.60" y1="426.89" x2="40.60" y2="426.89" stroke="#999" stroke-width="0.4"/>
<text x="39.40" y="444.44" font-size="2.6" text-anchor="end" font-weight="normal" fill="#999">10</text>
<line x1="39.60" y1="443.44" x2="40.60" y2="443.44" stroke="#999" stroke-width="0.4"/>
<text x="39.40" y="459.67" font-size="2.6" text-anchor="end" font-weight="normal" fill="#999">10</text>
<line x1="39.60" y1="458.67" x2="40.60" y2="458.67" stroke="#999" stroke-width="0.4"/>
<line x1="48.51" y1="468.60" x2="48.51" y2="469.60" stroke="#999" stroke-width="0.4"/>
<text x="48.51" y="472.20" font-size="2.6" text-anchor="middle" font-weight="normal" fill="#999">10</text>
<line x1="53.78" y1="468.60" x2="53.78" y2="469.60" stroke="#999" stroke-width="0.4"/>
<text x="53.78" y="472.20" font-size="2.6" text-anchor="middle" font-weight="normal" fill="#999">10</text>
<line x1="68.28" y1="468.60" x2="68.28" y2="469.60" stroke="#999" stroke-width="0.4"/>
<text x="68.28" y="472.20" font-size="2.6" text-anchor="middle" font-weight="normal" fill="#999">10</text>
<line x1="85.41" y1="468.60" x2="85.41" y2="469.60" stroke="#999" stroke-width="0.4"/>
<text x="85.41" y="472.20" font-size="2.6" text-anchor="middle" font-weight="normal" fill="#999">10</text>
<line x1="99.91" y1="468.60" x2="99.91" y2="469.60" stroke="#999" stroke-width="0.4"/>
<text x="99.91" y="472.20" font-size="2.6" text-anchor="middle" font-weight="normal" fill="#999">10</text>
<line x1="117.07" y1="468.60" x2="117.07" y2="469.60" stroke="#999" stroke-width="0.4"/>
<text x="117.07" y="472.20" font-size="2.6" text-anchor="middle" font-weight="normal" fill="#999">10</text>
<line x1="122.32" y1="468.60" x2="122.32" y2="469.60" stroke="#999" stroke-width="0.4"/>
<text x="122.32" y="472.20" font-size="2.6" text-anchor="middle" font-weight="normal" fill="#999">10</text>
<line x1="136.75" y1="468.60" x2="136.75" y2="469.60" stroke="#999" stroke-width="0.4"/>
<text x="136.75" y="472.20" font-size="2.6" text-anchor="middle" font-weight="normal" fill="#999">10</text>
<line x1="153.81" y1="468.60" x2="153.81" y2="469.60" stroke="#999" stroke-width="0.4"/>
<text x="153.81" y="472.20" font-size="2.6" text-anchor="middle" font-weight="normal" fill="#999">10</text>
<line x1="168.24" y1="468.60" x2="168.24" y2="469.60" stroke="#999" stroke-width="0.4"/>
<text x="168.24" y="472.20" font-size="2.6" text-anchor="middle" font-weight="normal" fill="#999">10</text>
<line x1="29.90" y1="336.80" x2="29.90" y2="365.50" stroke="#000" stroke-width="1.45"/>
<path d="M26.70 341.20L29.90 336.60L33.10 341.20" fill="none" stroke="#000" stroke-width="1.45"/>
<text x="33.20" y="466.70" font-size="12.7" stroke="#000" stroke-width="0.25" transform="rotate(-90 33.20 466.70)" textLength="97.40" lengthAdjust="spacingAndGlyphs">Live/dead Yellow</text>
<text x="44.00" y="486.00" font-size="13.5" stroke="#000" stroke-width="0.25" textLength="35.00" lengthAdjust="spacingAndGlyphs">CFSE</text>
<line x1="81.50" y1="481.00" x2="174.20" y2="481.00" stroke="#000" stroke-width="1.45"/>
<path d="M169.80 477.80L174.40 481.00L169.80 484.20" fill="none" stroke="#000" stroke-width="1.45"/>
<line x1="238.80" y1="437.90" x2="238.80" y2="433.00" stroke="#000" stroke-width="1.1"/>
<line x1="233.29" y1="433.00" x2="244.31" y2="433.00" stroke="#000" stroke-width="1.1"/>
<rect x="228.60" y="437.90" width="20.40" height="19.20" fill="#d2d2d2" stroke="#2a2a2a" stroke-width="0.9"/>
<line x1="260.00" y1="412.60" x2="260.00" y2="406.00" stroke="#000" stroke-width="1.1"/>
<line x1="254.06" y1="406.00" x2="265.94" y2="406.00" stroke="#000" stroke-width="1.1"/>
<rect x="249.00" y="412.60" width="22.00" height="44.50" fill="#000" stroke="#000" stroke-width="0.9"/>
<line x1="303.10" y1="411.70" x2="303.10" y2="401.80" stroke="#000" stroke-width="1.1"/>
<line x1="297.43" y1="401.80" x2="308.77" y2="401.80" stroke="#000" stroke-width="1.1"/>
<rect x="292.60" y="411.70" width="21.00" height="45.40" fill="#d2d2d2" stroke="#2a2a2a" stroke-width="0.9"/>
<line x1="324.30" y1="411.70" x2="324.30" y2="400.80" stroke="#000" stroke-width="1.1"/>
<line x1="318.52" y1="400.80" x2="330.08" y2="400.80" stroke="#000" stroke-width="1.1"/>
<rect x="313.60" y="411.70" width="21.40" height="45.40" fill="#000" stroke="#000" stroke-width="0.9"/>
<line x1="367.00" y1="360.00" x2="367.00" y2="357.20" stroke="#000" stroke-width="1.1"/>
<line x1="361.28" y1="357.20" x2="372.72" y2="357.20" stroke="#000" stroke-width="1.1"/>
<rect x="356.40" y="360.00" width="21.20" height="97.10" fill="#d2d2d2" stroke="#2a2a2a" stroke-width="0.9"/>
<line x1="388.40" y1="417.50" x2="388.40" y2="411.20" stroke="#000" stroke-width="1.1"/>
<line x1="382.57" y1="411.20" x2="394.23" y2="411.20" stroke="#000" stroke-width="1.1"/>
<rect x="377.60" y="417.50" width="21.60" height="39.60" fill="#000" stroke="#000" stroke-width="0.9"/>
<line x1="431.40" y1="399.00" x2="431.40" y2="393.80" stroke="#000" stroke-width="1.1"/>
<line x1="425.68" y1="393.80" x2="437.12" y2="393.80" stroke="#000" stroke-width="1.1"/>
<rect x="420.80" y="399.00" width="21.20" height="58.10" fill="#d2d2d2" stroke="#2a2a2a" stroke-width="0.9"/>
<line x1="452.80" y1="410.50" x2="452.80" y2="407.00" stroke="#000" stroke-width="1.1"/>
<line x1="446.97" y1="407.00" x2="458.63" y2="407.00" stroke="#000" stroke-width="1.1"/>
<rect x="442.00" y="410.50" width="21.60" height="46.60" fill="#000" stroke="#000" stroke-width="0.9"/>
<line x1="217.20" y1="353.50" x2="217.20" y2="457.60" stroke="#000" stroke-width="1.3"/>
<line x1="214.60" y1="457.10" x2="474.00" y2="457.10" stroke="#000" stroke-width="1.3"/>
<line x1="214.60" y1="457.10" x2="217.10" y2="457.10" stroke="#000" stroke-width="1.1"/>
<text x="214.40" y="460.50" font-size="9.8" text-anchor="end" stroke="#000" stroke-width="0.25">0</text>
<line x1="214.60" y1="442.41" x2="217.10" y2="442.41" stroke="#000" stroke-width="1.1"/>
<text x="214.40" y="445.81" font-size="9.8" text-anchor="end" stroke="#000" stroke-width="0.25">5</text>
<line x1="214.60" y1="427.72" x2="217.10" y2="427.72" stroke="#000" stroke-width="1.1"/>
<text x="214.40" y="431.12" font-size="9.8" text-anchor="end" stroke="#000" stroke-width="0.25">10</text>
<line x1="214.60" y1="413.03" x2="217.10" y2="413.03" stroke="#000" stroke-width="1.1"/>
<text x="214.40" y="416.43" font-size="9.8" text-anchor="end" stroke="#000" stroke-width="0.25">15</text>
<line x1="214.60" y1="398.34" x2="217.10" y2="398.34" stroke="#000" stroke-width="1.1"/>
<text x="214.40" y="401.74" font-size="9.8" text-anchor="end" stroke="#000" stroke-width="0.25">20</text>
<line x1="214.60" y1="383.65" x2="217.10" y2="383.65" stroke="#000" stroke-width="1.1"/>
<text x="214.40" y="387.05" font-size="9.8" text-anchor="end" stroke="#000" stroke-width="0.25">25</text>
<line x1="214.60" y1="368.96" x2="217.10" y2="368.96" stroke="#000" stroke-width="1.1"/>
<text x="214.40" y="372.36" font-size="9.8" text-anchor="end" stroke="#000" stroke-width="0.25">30</text>
<line x1="214.60" y1="354.27" x2="217.10" y2="354.27" stroke="#000" stroke-width="1.1"/>
<text x="214.40" y="357.67" font-size="9.8" text-anchor="end" stroke="#000" stroke-width="0.25">35</text>
<line x1="249.00" y1="457.10" x2="249.00" y2="460.10" stroke="#000" stroke-width="1.1"/>
<line x1="313.60" y1="457.10" x2="313.60" y2="460.10" stroke="#000" stroke-width="1.1"/>
<line x1="377.60" y1="457.10" x2="377.60" y2="460.10" stroke="#000" stroke-width="1.1"/>
<line x1="442.00" y1="457.10" x2="442.00" y2="460.10" stroke="#000" stroke-width="1.1"/>
<text x="249.20" y="470.30" font-size="10.4" text-anchor="middle" stroke="#000" stroke-width="0.25">CD4</text>
<text x="313.80" y="470.30" font-size="10.4" text-anchor="middle" stroke="#000" stroke-width="0.25">CD8</text>
<text x="377.80" y="470.30" font-size="10.4" text-anchor="middle" stroke="#000" stroke-width="0.25">CD4</text>
<text x="442.20" y="470.30" font-size="10.4" text-anchor="middle" stroke="#000" stroke-width="0.25">CD8</text>
<line x1="239.20" y1="401.80" x2="262.10" y2="401.80" stroke="#000" stroke-width="1.2"/>
<text x="252.05" y="405.00" font-size="17" text-anchor="middle" stroke="#000" stroke-width="0.25">*</text>
<line x1="366.80" y1="352.70" x2="391.20" y2="352.70" stroke="#000" stroke-width="1.2"/>
<text x="379.00" y="355.90" font-size="17" text-anchor="middle" stroke="#000" stroke-width="0.25">**</text>
<path d="M226 342.2V338.9H333.7V342.2" fill="none" stroke="#000" stroke-width="1.1"/>
<path d="M356.4 342.6V339.2H464.3V342.6" fill="none" stroke="#000" stroke-width="1.1"/>
<text x="258.80" y="336.00" font-size="11.4" stroke="#000" stroke-width="0.25" textLength="46.60" lengthAdjust="spacingAndGlyphs">CFSE<tspan font-size="8.8" dy="-3.9">low</tspan></text>
<text x="384.70" y="335.80" font-size="11.4" stroke="#000" stroke-width="0.25" textLength="50.00" lengthAdjust="spacingAndGlyphs">CFSE<tspan font-size="8.8" dy="-3.9">high</tspan></text>
<text x="198.20" y="447.60" font-size="14" stroke="#000" stroke-width="0.25" transform="rotate(-90 198.20 447.60)" textLength="84.40" lengthAdjust="spacingAndGlyphs">% Dead Cells</text>
<rect x="478.40" y="370.30" width="14.80" height="8.50" fill="#d2d2d2" stroke="#333" stroke-width="0.8"/>
<rect x="478.40" y="383.40" width="14.80" height="8.00" fill="#000" stroke="#000" stroke-width="0.8"/>
<text x="500.90" y="378.30" font-size="11.4" stroke="#000" stroke-width="0.25" textLength="17.70" lengthAdjust="spacingAndGlyphs">WT</text>
<text x="500.90" y="390.90" font-size="11.4" stroke="#000" stroke-width="0.25" textLength="18.20" lengthAdjust="spacingAndGlyphs">KO</text>
</svg>
</body></html>
